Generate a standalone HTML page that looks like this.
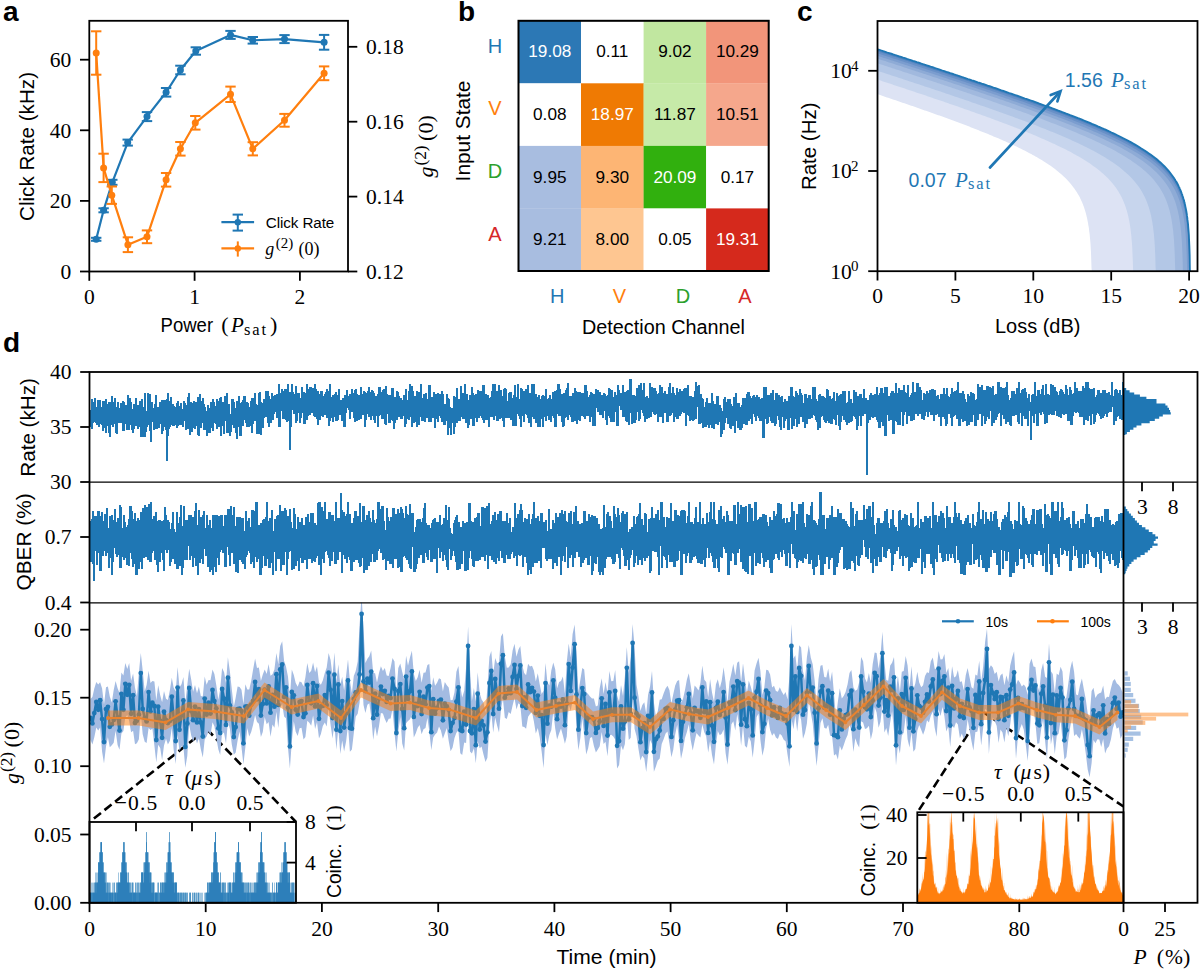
<!DOCTYPE html>
<html><head><meta charset="utf-8"><style>html,body{margin:0;padding:0;background:#fff;} svg{display:block;}</style></head>
<body><svg width="1200" height="969" viewBox="0 0 1200 969">
<rect width="1200" height="969" fill="#fff"/>
<text x="3" y="21.3" font-family='"Liberation Sans", sans-serif' font-weight="bold" font-size="28">a</text>
<text x="458" y="21.3" font-family='"Liberation Sans", sans-serif' font-weight="bold" font-size="28">b</text>
<text x="797" y="21.3" font-family='"Liberation Sans", sans-serif' font-weight="bold" font-size="28">c</text>
<text x="3" y="352" font-family='"Liberation Sans", sans-serif' font-weight="bold" font-size="28">d</text>
<polyline points="96.2,239.3 103.6,210.3 112.3,182.3 127.7,142.6 147.0,116.6 166.1,92.3 180.4,70.0 195.8,51.0 230.5,34.9 252.8,40.3 284.5,39.1 324.1,42.3" fill="none" stroke="#1f77b4" stroke-width="2.2" stroke-linejoin="round"/>
<line x1="96.2" y1="237.8" x2="96.2" y2="240.8" stroke="#1f77b4" stroke-width="2.0" />
<line x1="91" y1="237.8" x2="101.4" y2="237.8" stroke="#1f77b4" stroke-width="2.0" />
<line x1="91" y1="240.8" x2="101.4" y2="240.8" stroke="#1f77b4" stroke-width="2.0" />
<circle cx="96.2" cy="239.3" r="3.5" fill="#1f77b4"/>
<line x1="103.6" y1="208.3" x2="103.6" y2="212.3" stroke="#1f77b4" stroke-width="2.0" />
<line x1="98.4" y1="208.3" x2="108.8" y2="208.3" stroke="#1f77b4" stroke-width="2.0" />
<line x1="98.4" y1="212.3" x2="108.8" y2="212.3" stroke="#1f77b4" stroke-width="2.0" />
<circle cx="103.6" cy="210.3" r="3.5" fill="#1f77b4"/>
<line x1="112.3" y1="179.8" x2="112.3" y2="184.8" stroke="#1f77b4" stroke-width="2.0" />
<line x1="107.1" y1="179.8" x2="117.5" y2="179.8" stroke="#1f77b4" stroke-width="2.0" />
<line x1="107.1" y1="184.8" x2="117.5" y2="184.8" stroke="#1f77b4" stroke-width="2.0" />
<circle cx="112.3" cy="182.3" r="3.5" fill="#1f77b4"/>
<line x1="127.7" y1="139.6" x2="127.7" y2="145.6" stroke="#1f77b4" stroke-width="2.0" />
<line x1="122.5" y1="139.6" x2="132.9" y2="139.6" stroke="#1f77b4" stroke-width="2.0" />
<line x1="122.5" y1="145.6" x2="132.9" y2="145.6" stroke="#1f77b4" stroke-width="2.0" />
<circle cx="127.7" cy="142.6" r="3.5" fill="#1f77b4"/>
<line x1="147" y1="112.1" x2="147" y2="121.1" stroke="#1f77b4" stroke-width="2.0" />
<line x1="141.8" y1="112.1" x2="152.2" y2="112.1" stroke="#1f77b4" stroke-width="2.0" />
<line x1="141.8" y1="121.1" x2="152.2" y2="121.1" stroke="#1f77b4" stroke-width="2.0" />
<circle cx="147" cy="116.6" r="3.5" fill="#1f77b4"/>
<line x1="166.1" y1="88" x2="166.1" y2="96.6" stroke="#1f77b4" stroke-width="2.0" />
<line x1="160.9" y1="88" x2="171.3" y2="88" stroke="#1f77b4" stroke-width="2.0" />
<line x1="160.9" y1="96.6" x2="171.3" y2="96.6" stroke="#1f77b4" stroke-width="2.0" />
<circle cx="166.1" cy="92.3" r="3.5" fill="#1f77b4"/>
<line x1="180.4" y1="65.7" x2="180.4" y2="74.3" stroke="#1f77b4" stroke-width="2.0" />
<line x1="175.2" y1="65.7" x2="185.6" y2="65.7" stroke="#1f77b4" stroke-width="2.0" />
<line x1="175.2" y1="74.3" x2="185.6" y2="74.3" stroke="#1f77b4" stroke-width="2.0" />
<circle cx="180.4" cy="70" r="3.5" fill="#1f77b4"/>
<line x1="195.8" y1="47.3" x2="195.8" y2="54.7" stroke="#1f77b4" stroke-width="2.0" />
<line x1="190.6" y1="47.3" x2="201" y2="47.3" stroke="#1f77b4" stroke-width="2.0" />
<line x1="190.6" y1="54.7" x2="201" y2="54.7" stroke="#1f77b4" stroke-width="2.0" />
<circle cx="195.8" cy="51" r="3.5" fill="#1f77b4"/>
<line x1="230.5" y1="30.9" x2="230.5" y2="38.9" stroke="#1f77b4" stroke-width="2.0" />
<line x1="225.3" y1="30.9" x2="235.7" y2="30.9" stroke="#1f77b4" stroke-width="2.0" />
<line x1="225.3" y1="38.9" x2="235.7" y2="38.9" stroke="#1f77b4" stroke-width="2.0" />
<circle cx="230.5" cy="34.9" r="3.5" fill="#1f77b4"/>
<line x1="252.8" y1="37" x2="252.8" y2="43.6" stroke="#1f77b4" stroke-width="2.0" />
<line x1="247.6" y1="37" x2="258" y2="37" stroke="#1f77b4" stroke-width="2.0" />
<line x1="247.6" y1="43.6" x2="258" y2="43.6" stroke="#1f77b4" stroke-width="2.0" />
<circle cx="252.8" cy="40.3" r="3.5" fill="#1f77b4"/>
<line x1="284.5" y1="35.1" x2="284.5" y2="43.1" stroke="#1f77b4" stroke-width="2.0" />
<line x1="279.3" y1="35.1" x2="289.7" y2="35.1" stroke="#1f77b4" stroke-width="2.0" />
<line x1="279.3" y1="43.1" x2="289.7" y2="43.1" stroke="#1f77b4" stroke-width="2.0" />
<circle cx="284.5" cy="39.1" r="3.5" fill="#1f77b4"/>
<line x1="324.1" y1="34.9" x2="324.1" y2="49.7" stroke="#1f77b4" stroke-width="2.0" />
<line x1="318.9" y1="34.9" x2="329.3" y2="34.9" stroke="#1f77b4" stroke-width="2.0" />
<line x1="318.9" y1="49.7" x2="329.3" y2="49.7" stroke="#1f77b4" stroke-width="2.0" />
<circle cx="324.1" cy="42.3" r="3.5" fill="#1f77b4"/>
<polyline points="96.2,53.0 103.6,167.9 111.8,195.2 127.9,244.7 147.0,236.8 166.1,179.8 180.4,148.8 195.3,122.8 230.5,94.3 252.8,148.8 284.5,120.3 324.1,73.3" fill="none" stroke="#ff7f0e" stroke-width="2.2" stroke-linejoin="round"/>
<line x1="96.2" y1="31.3" x2="96.2" y2="74.7" stroke="#ff7f0e" stroke-width="2.0" />
<line x1="91" y1="31.3" x2="101.4" y2="31.3" stroke="#ff7f0e" stroke-width="2.0" />
<line x1="91" y1="74.7" x2="101.4" y2="74.7" stroke="#ff7f0e" stroke-width="2.0" />
<circle cx="96.2" cy="53" r="3.5" fill="#ff7f0e"/>
<line x1="103.6" y1="153.7" x2="103.6" y2="182.1" stroke="#ff7f0e" stroke-width="2.0" />
<line x1="98.4" y1="153.7" x2="108.8" y2="153.7" stroke="#ff7f0e" stroke-width="2.0" />
<line x1="98.4" y1="182.1" x2="108.8" y2="182.1" stroke="#ff7f0e" stroke-width="2.0" />
<circle cx="103.6" cy="167.9" r="3.5" fill="#ff7f0e"/>
<line x1="111.8" y1="186.5" x2="111.8" y2="203.9" stroke="#ff7f0e" stroke-width="2.0" />
<line x1="106.6" y1="186.5" x2="117" y2="186.5" stroke="#ff7f0e" stroke-width="2.0" />
<line x1="106.6" y1="203.9" x2="117" y2="203.9" stroke="#ff7f0e" stroke-width="2.0" />
<circle cx="111.8" cy="195.2" r="3.5" fill="#ff7f0e"/>
<line x1="127.9" y1="237.3" x2="127.9" y2="252.1" stroke="#ff7f0e" stroke-width="2.0" />
<line x1="122.7" y1="237.3" x2="133.1" y2="237.3" stroke="#ff7f0e" stroke-width="2.0" />
<line x1="122.7" y1="252.1" x2="133.1" y2="252.1" stroke="#ff7f0e" stroke-width="2.0" />
<circle cx="127.9" cy="244.7" r="3.5" fill="#ff7f0e"/>
<line x1="147" y1="230.4" x2="147" y2="243.2" stroke="#ff7f0e" stroke-width="2.0" />
<line x1="141.8" y1="230.4" x2="152.2" y2="230.4" stroke="#ff7f0e" stroke-width="2.0" />
<line x1="141.8" y1="243.2" x2="152.2" y2="243.2" stroke="#ff7f0e" stroke-width="2.0" />
<circle cx="147" cy="236.8" r="3.5" fill="#ff7f0e"/>
<line x1="166.1" y1="173" x2="166.1" y2="186.6" stroke="#ff7f0e" stroke-width="2.0" />
<line x1="160.9" y1="173" x2="171.3" y2="173" stroke="#ff7f0e" stroke-width="2.0" />
<line x1="160.9" y1="186.6" x2="171.3" y2="186.6" stroke="#ff7f0e" stroke-width="2.0" />
<circle cx="166.1" cy="179.8" r="3.5" fill="#ff7f0e"/>
<line x1="180.4" y1="142" x2="180.4" y2="155.6" stroke="#ff7f0e" stroke-width="2.0" />
<line x1="175.2" y1="142" x2="185.6" y2="142" stroke="#ff7f0e" stroke-width="2.0" />
<line x1="175.2" y1="155.6" x2="185.6" y2="155.6" stroke="#ff7f0e" stroke-width="2.0" />
<circle cx="180.4" cy="148.8" r="3.5" fill="#ff7f0e"/>
<line x1="195.3" y1="116" x2="195.3" y2="129.6" stroke="#ff7f0e" stroke-width="2.0" />
<line x1="190.1" y1="116" x2="200.5" y2="116" stroke="#ff7f0e" stroke-width="2.0" />
<line x1="190.1" y1="129.6" x2="200.5" y2="129.6" stroke="#ff7f0e" stroke-width="2.0" />
<circle cx="195.3" cy="122.8" r="3.5" fill="#ff7f0e"/>
<line x1="230.5" y1="86.6" x2="230.5" y2="102" stroke="#ff7f0e" stroke-width="2.0" />
<line x1="225.3" y1="86.6" x2="235.7" y2="86.6" stroke="#ff7f0e" stroke-width="2.0" />
<line x1="225.3" y1="102" x2="235.7" y2="102" stroke="#ff7f0e" stroke-width="2.0" />
<circle cx="230.5" cy="94.3" r="3.5" fill="#ff7f0e"/>
<line x1="252.8" y1="142.2" x2="252.8" y2="155.4" stroke="#ff7f0e" stroke-width="2.0" />
<line x1="247.6" y1="142.2" x2="258" y2="142.2" stroke="#ff7f0e" stroke-width="2.0" />
<line x1="247.6" y1="155.4" x2="258" y2="155.4" stroke="#ff7f0e" stroke-width="2.0" />
<circle cx="252.8" cy="148.8" r="3.5" fill="#ff7f0e"/>
<line x1="284.5" y1="113.9" x2="284.5" y2="126.7" stroke="#ff7f0e" stroke-width="2.0" />
<line x1="279.3" y1="113.9" x2="289.7" y2="113.9" stroke="#ff7f0e" stroke-width="2.0" />
<line x1="279.3" y1="126.7" x2="289.7" y2="126.7" stroke="#ff7f0e" stroke-width="2.0" />
<circle cx="284.5" cy="120.3" r="3.5" fill="#ff7f0e"/>
<line x1="324.1" y1="66.4" x2="324.1" y2="80.2" stroke="#ff7f0e" stroke-width="2.0" />
<line x1="318.9" y1="66.4" x2="329.3" y2="66.4" stroke="#ff7f0e" stroke-width="2.0" />
<line x1="318.9" y1="80.2" x2="329.3" y2="80.2" stroke="#ff7f0e" stroke-width="2.0" />
<circle cx="324.1" cy="73.3" r="3.5" fill="#ff7f0e"/>
<line x1="221.4" y1="222.2" x2="254.1" y2="222.2" stroke="#1f77b4" stroke-width="2.2" />
<line x1="237.8" y1="214.6" x2="237.8" y2="230.6" stroke="#1f77b4" stroke-width="2.0" />
<line x1="232.6" y1="214.6" x2="243" y2="214.6" stroke="#1f77b4" stroke-width="2.0" />
<line x1="232.6" y1="230.6" x2="243" y2="230.6" stroke="#1f77b4" stroke-width="2.0" />
<circle cx="237.8" cy="222.2" r="3.2" fill="#1f77b4"/>
<line x1="221.4" y1="248.4" x2="254.1" y2="248.4" stroke="#ff7f0e" stroke-width="2.2" />
<line x1="237.8" y1="241.4" x2="237.8" y2="256.6" stroke="#ff7f0e" stroke-width="2.0" />
<circle cx="237.8" cy="248.4" r="3.2" fill="#ff7f0e"/>
<text x="265.8" y="227.9" font-family='"Liberation Sans", sans-serif' font-size="15.2" text-anchor="start" fill="#000" textLength="68.5">Click Rate</text>
<text transform="translate(265.3,254.5)" fill="#000"><tspan x="0.0" y="0.0" font-family='"Liberation Serif", serif' font-size="18" font-style="italic">g</tspan><tspan x="10.4" y="-6.2" font-family='"Liberation Serif", serif' font-size="15">(2)</tspan><tspan x="33.2" y="0.0" font-family='"Liberation Serif", serif' font-size="18">(0)</tspan></text>
<rect x="89.3" y="20.8" width="258.7" height="250.7" fill="none" stroke="#000" stroke-width="1.8" />
<line x1="80" y1="271.5" x2="89.3" y2="271.5" stroke="#000" stroke-width="1.8" />
<text x="71.3" y="278.7" font-family='"Liberation Serif", serif' font-size="21.5" text-anchor="end">0</text>
<line x1="80" y1="200.9" x2="89.3" y2="200.9" stroke="#000" stroke-width="1.8" />
<text x="71.3" y="208.1" font-family='"Liberation Serif", serif' font-size="21.5" text-anchor="end">20</text>
<line x1="80" y1="130.3" x2="89.3" y2="130.3" stroke="#000" stroke-width="1.8" />
<text x="71.3" y="137.5" font-family='"Liberation Serif", serif' font-size="21.5" text-anchor="end">40</text>
<line x1="80" y1="59.7" x2="89.3" y2="59.7" stroke="#000" stroke-width="1.8" />
<text x="71.3" y="66.9" font-family='"Liberation Serif", serif' font-size="21.5" text-anchor="end">60</text>
<line x1="348" y1="271.5" x2="357.3" y2="271.5" stroke="#000" stroke-width="1.8" />
<text x="366" y="278.7" font-family='"Liberation Serif", serif' font-size="21.5" text-anchor="start">0.12</text>
<line x1="348" y1="196.6" x2="357.3" y2="196.6" stroke="#000" stroke-width="1.8" />
<text x="366" y="203.8" font-family='"Liberation Serif", serif' font-size="21.5" text-anchor="start">0.14</text>
<line x1="348" y1="121.7" x2="357.3" y2="121.7" stroke="#000" stroke-width="1.8" />
<text x="366" y="128.9" font-family='"Liberation Serif", serif' font-size="21.5" text-anchor="start">0.16</text>
<line x1="348" y1="46.8" x2="357.3" y2="46.8" stroke="#000" stroke-width="1.8" />
<text x="366" y="54" font-family='"Liberation Serif", serif' font-size="21.5" text-anchor="start">0.18</text>
<line x1="89.3" y1="271.5" x2="89.3" y2="280.8" stroke="#000" stroke-width="1.8" />
<text x="89.3" y="303.5" font-family='"Liberation Serif", serif' font-size="21.5" text-anchor="middle">0</text>
<line x1="194.6" y1="271.5" x2="194.6" y2="280.8" stroke="#000" stroke-width="1.8" />
<text x="194.6" y="303.5" font-family='"Liberation Serif", serif' font-size="21.5" text-anchor="middle">1</text>
<line x1="299.9" y1="271.5" x2="299.9" y2="280.8" stroke="#000" stroke-width="1.8" />
<text x="299.9" y="303.5" font-family='"Liberation Serif", serif' font-size="21.5" text-anchor="middle">2</text>
<text x="160.6" y="332.3" font-family='"Liberation Sans", sans-serif' font-size="19.5" textLength="52.5" lengthAdjust="spacingAndGlyphs">Power</text>
<text transform="translate(221.3,332.3)" fill="#000"><tspan x="0.0" y="0.0" font-family='"Liberation Serif", serif' font-size="22">(</tspan><tspan x="48.6" y="0.0" font-family='"Liberation Serif", serif' font-size="22">)</tspan></text>
<text transform="translate(231.0,332.3)" fill="#000" font-family='"Liberation Serif", serif'><tspan x="0" y="0" font-size="21" font-style="italic">P</tspan></text>
<text transform="translate(231.0,332.3)" fill="#000" font-family='"Liberation Serif", serif' x="13" y="2.4" font-size="16.5" textLength="22" lengthAdjust="spacing">sat</text>
<text transform="translate(34.3,146.5) rotate(-90)" font-family='"Liberation Sans", sans-serif' font-size="19.5" text-anchor="middle" textLength="149" lengthAdjust="spacingAndGlyphs">Click Rate (kHz)</text>
<text transform="translate(433.0,177.5) rotate(-90)" fill="#000"><tspan x="0.0" y="0.0" font-family='"Liberation Serif", serif' font-size="22.0" font-style="italic">g</tspan><tspan x="12.0" y="-7.5" font-family='"Liberation Serif", serif' font-size="17.2">(2)</tspan><tspan x="36.6" y="0.0" font-family='"Liberation Serif", serif' font-size="22.0">(0)</tspan></text>
<rect x="518.5" y="20.8" width="62.8" height="62.8" fill="#2c78b5" stroke="none" stroke-width="1.4" />
<rect x="581" y="20.8" width="62.8" height="62.8" fill="#ffffff" stroke="none" stroke-width="1.4" />
<rect x="643.6" y="20.8" width="62.8" height="62.8" fill="#c1e7a0" stroke="none" stroke-width="1.4" />
<rect x="706.1" y="20.8" width="62.8" height="62.8" fill="#f2957a" stroke="none" stroke-width="1.4" />
<rect x="518.5" y="83.3" width="62.8" height="62.8" fill="#ffffff" stroke="none" stroke-width="1.4" />
<rect x="581" y="83.3" width="62.8" height="62.8" fill="#ef7a03" stroke="none" stroke-width="1.4" />
<rect x="643.6" y="83.3" width="62.8" height="62.8" fill="#c6eaa8" stroke="none" stroke-width="1.4" />
<rect x="706.1" y="83.3" width="62.8" height="62.8" fill="#f5a78c" stroke="none" stroke-width="1.4" />
<rect x="518.5" y="145.9" width="62.8" height="62.8" fill="#a8bde0" stroke="none" stroke-width="1.4" />
<rect x="581" y="145.9" width="62.8" height="62.8" fill="#fdb574" stroke="none" stroke-width="1.4" />
<rect x="643.6" y="145.9" width="62.8" height="62.8" fill="#31b00e" stroke="none" stroke-width="1.4" />
<rect x="706.1" y="145.9" width="62.8" height="62.8" fill="#ffffff" stroke="none" stroke-width="1.4" />
<rect x="518.5" y="208.4" width="62.8" height="62.8" fill="#a8bde0" stroke="none" stroke-width="1.4" />
<rect x="581" y="208.4" width="62.8" height="62.8" fill="#fec691" stroke="none" stroke-width="1.4" />
<rect x="643.6" y="208.4" width="62.8" height="62.8" fill="#ffffff" stroke="none" stroke-width="1.4" />
<rect x="706.1" y="208.4" width="62.8" height="62.8" fill="#d5291c" stroke="none" stroke-width="1.4" />
<text x="549.8" y="57.4" font-family='"Liberation Sans", sans-serif' font-size="17.2" text-anchor="middle" fill="#fff" >19.08</text>
<text x="612.3" y="57.4" font-family='"Liberation Sans", sans-serif' font-size="17.2" text-anchor="middle" fill="#000" >0.11</text>
<text x="674.9" y="57.4" font-family='"Liberation Sans", sans-serif' font-size="17.2" text-anchor="middle" fill="#000" >9.02</text>
<text x="737.4" y="57.4" font-family='"Liberation Sans", sans-serif' font-size="17.2" text-anchor="middle" fill="#000" >10.29</text>
<text x="549.8" y="119.9" font-family='"Liberation Sans", sans-serif' font-size="17.2" text-anchor="middle" fill="#000" >0.08</text>
<text x="612.3" y="119.9" font-family='"Liberation Sans", sans-serif' font-size="17.2" text-anchor="middle" fill="#fff" >18.97</text>
<text x="674.9" y="119.9" font-family='"Liberation Sans", sans-serif' font-size="17.2" text-anchor="middle" fill="#000" >11.87</text>
<text x="737.4" y="119.9" font-family='"Liberation Sans", sans-serif' font-size="17.2" text-anchor="middle" fill="#000" >10.51</text>
<text x="549.8" y="182.5" font-family='"Liberation Sans", sans-serif' font-size="17.2" text-anchor="middle" fill="#000" >9.95</text>
<text x="612.3" y="182.5" font-family='"Liberation Sans", sans-serif' font-size="17.2" text-anchor="middle" fill="#000" >9.30</text>
<text x="674.9" y="182.5" font-family='"Liberation Sans", sans-serif' font-size="17.2" text-anchor="middle" fill="#fff" >20.09</text>
<text x="737.4" y="182.5" font-family='"Liberation Sans", sans-serif' font-size="17.2" text-anchor="middle" fill="#000" >0.17</text>
<text x="549.8" y="245" font-family='"Liberation Sans", sans-serif' font-size="17.2" text-anchor="middle" fill="#000" >9.21</text>
<text x="612.3" y="245" font-family='"Liberation Sans", sans-serif' font-size="17.2" text-anchor="middle" fill="#000" >8.00</text>
<text x="674.9" y="245" font-family='"Liberation Sans", sans-serif' font-size="17.2" text-anchor="middle" fill="#000" >0.05</text>
<text x="737.4" y="245" font-family='"Liberation Sans", sans-serif' font-size="17.2" text-anchor="middle" fill="#fff" >19.31</text>
<rect x="518.5" y="20.8" width="250.2" height="250.2" fill="none" stroke="#000" stroke-width="2.0" />
<text x="494.9" y="52.8" font-family='"Liberation Sans", sans-serif' font-size="20" text-anchor="middle" fill="#1f77b4" >H</text>
<text x="494.9" y="115" font-family='"Liberation Sans", sans-serif' font-size="20" text-anchor="middle" fill="#ff7f0e" >V</text>
<text x="494.9" y="178" font-family='"Liberation Sans", sans-serif' font-size="20" text-anchor="middle" fill="#2ca02c" >D</text>
<text x="494.9" y="241" font-family='"Liberation Sans", sans-serif' font-size="20" text-anchor="middle" fill="#d62728" >A</text>
<text x="557.3" y="303.2" font-family='"Liberation Sans", sans-serif' font-size="20" text-anchor="middle" fill="#1f77b4" >H</text>
<text x="619.5" y="303.2" font-family='"Liberation Sans", sans-serif' font-size="20" text-anchor="middle" fill="#ff7f0e" >V</text>
<text x="683" y="303.2" font-family='"Liberation Sans", sans-serif' font-size="20" text-anchor="middle" fill="#2ca02c" >D</text>
<text x="744.8" y="303.2" font-family='"Liberation Sans", sans-serif' font-size="20" text-anchor="middle" fill="#d62728" >A</text>
<text x="663.5" y="333.6" font-family='"Liberation Sans", sans-serif' font-size="19.5" text-anchor="middle" textLength="163" lengthAdjust="spacingAndGlyphs">Detection Channel</text>
<text transform="translate(469.5,131) rotate(-90)" font-family='"Liberation Sans", sans-serif' font-size="19.5" text-anchor="middle" textLength="100.8" lengthAdjust="spacingAndGlyphs">Input State</text>
<clipPath id="cclip"><rect x="877.5" y="21" width="320" height="250.2"/></clipPath>
<g clip-path="url(#cclip)">
<polygon points="877.5,49.3 879.5,49.9 881.4,50.5 883.4,51.2 885.4,51.8 887.3,52.5 889.3,53.1 891.3,53.7 893.2,54.4 895.2,55.0 897.2,55.7 899.1,56.3 901.1,56.9 903.1,57.6 905.0,58.2 907.0,58.9 909.0,59.5 910.9,60.1 912.9,60.8 914.9,61.4 916.8,62.1 918.8,62.7 920.8,63.4 922.7,64.0 924.7,64.7 926.7,65.3 928.6,65.9 930.6,66.6 932.6,67.2 934.5,67.9 936.5,68.5 938.5,69.2 940.4,69.8 942.4,70.5 944.4,71.1 946.3,71.8 948.3,72.4 950.3,73.1 952.2,73.7 954.2,74.4 956.2,75.0 958.1,75.7 960.1,76.3 962.1,77.0 964.0,77.7 966.0,78.3 968.0,79.0 969.9,79.6 971.9,80.3 973.9,80.9 975.8,81.6 977.8,82.3 979.8,82.9 981.7,83.6 983.7,84.2 985.7,84.9 987.6,85.6 989.6,86.2 991.6,86.9 993.5,87.6 995.5,88.2 997.5,88.9 999.4,89.6 1001.4,90.3 1003.4,90.9 1005.3,91.6 1007.3,92.3 1009.3,93.0 1011.2,93.6 1013.2,94.3 1015.2,95.0 1017.1,95.7 1019.1,96.4 1021.1,97.1 1023.0,97.8 1025.0,98.5 1027.0,99.1 1028.9,99.8 1030.9,100.5 1032.9,101.2 1034.8,101.9 1036.8,102.6 1038.8,103.4 1040.7,104.1 1042.7,104.8 1044.7,105.5 1046.6,106.2 1048.6,106.9 1050.6,107.6 1052.5,108.4 1054.5,109.1 1056.5,109.8 1058.4,110.6 1060.4,111.3 1062.4,112.1 1064.3,112.8 1066.3,113.6 1068.3,114.3 1070.2,115.1 1072.2,115.8 1074.2,116.6 1076.1,117.4 1078.1,118.2 1080.1,118.9 1082.0,119.7 1084.0,120.5 1086.0,121.3 1087.9,122.1 1089.9,122.9 1091.9,123.8 1093.8,124.6 1095.8,125.4 1097.8,126.3 1099.7,127.1 1101.7,128.0 1103.7,128.9 1105.6,129.7 1107.6,130.6 1109.6,131.5 1111.5,132.5 1113.5,133.4 1115.5,134.3 1117.4,135.3 1119.4,136.2 1121.4,137.2 1123.3,138.2 1125.3,139.2 1127.3,140.3 1129.2,141.3 1131.2,142.4 1133.2,143.5 1135.1,144.6 1137.1,145.8 1139.1,147.0 1141.0,148.2 1143.0,149.4 1145.0,150.7 1146.9,152.0 1148.9,153.4 1150.9,154.8 1152.8,156.2 1154.8,157.7 1156.8,159.3 1158.7,161.0 1160.7,162.7 1162.7,164.6 1164.6,166.5 1166.6,168.6 1168.6,170.8 1170.5,173.2 1172.5,175.9 1174.5,178.8 1174.6,179.0 1174.9,179.4 1175.1,179.8 1175.4,180.3 1175.7,180.7 1175.9,181.1 1176.2,181.6 1176.4,182.0 1176.5,182.0 1176.7,182.5 1177.0,183.0 1177.3,183.5 1177.5,184.0 1177.8,184.5 1178.0,185.0 1178.3,185.5 1178.4,185.7 1178.6,186.0 1178.8,186.6 1179.1,187.1 1179.4,187.7 1179.6,188.3 1179.9,188.9 1180.2,189.5 1180.4,190.0 1180.4,190.1 1180.7,190.7 1180.9,191.4 1181.2,192.1 1181.5,192.8 1181.7,193.5 1182.0,194.2 1182.3,195.0 1182.3,195.1 1182.5,195.8 1182.8,196.6 1183.1,197.4 1183.3,198.3 1183.6,199.2 1183.9,200.1 1184.1,201.1 1184.3,201.7 1184.4,202.1 1184.6,203.1 1184.9,204.2 1185.2,205.4 1185.4,206.6 1185.7,207.9 1186.0,209.3 1186.2,210.7 1186.3,210.9 1186.5,212.2 1186.8,213.9 1187.0,215.7 1187.3,217.6 1187.5,219.7 1187.8,222.1 1188.1,224.7 1188.2,226.3 1188.3,227.6 1188.6,231.0 1188.9,235.0 1189.1,239.9 1189.4,246.3 1189.7,255.1 1189.9,270.3 1190.2,271.2 1190.2,271.2 1092.0,271.2 1092.0,271.2 1091.8,271.2 1091.5,267.8 1091.2,258.9 1091.0,252.6 1090.7,247.7 1090.7,247.2 1090.5,243.7 1090.2,240.3 1089.9,237.3 1089.7,234.7 1089.4,232.4 1089.3,231.9 1089.1,230.3 1088.9,228.3 1088.6,226.6 1088.3,224.9 1088.1,223.4 1088.0,222.9 1087.8,221.9 1087.5,220.6 1087.3,219.3 1087.0,218.0 1086.8,216.9 1086.6,216.4 1086.5,215.8 1086.2,214.7 1086.0,213.7 1085.7,212.7 1085.4,211.8 1085.3,211.3 1085.2,210.9 1084.9,210.1 1084.6,209.2 1084.4,208.4 1084.1,207.6 1083.9,207.1 1083.9,206.9 1083.6,206.1 1083.3,205.4 1083.1,204.7 1082.8,204.1 1082.6,203.6 1082.5,203.4 1082.3,202.8 1082.0,202.1 1081.7,201.5 1081.5,200.9 1081.2,200.4 1081.2,200.4 1080.9,199.8 1080.7,199.2 1080.4,198.7 1080.2,198.2 1079.9,197.6 1079.9,197.6 1079.6,197.1 1079.4,196.6 1079.1,196.1 1078.8,195.6 1078.6,195.2 1078.5,195.1 1078.3,194.7 1078.0,194.2 1077.8,193.8 1077.5,193.4 1077.2,192.9 1077.2,192.8 1077.0,192.5 1076.7,192.1 1076.5,191.7 1075.8,190.7 1074.5,188.7 1073.1,186.9 1071.8,185.2 1070.4,183.5 1069.1,182.0 1067.7,180.5 1066.4,179.1 1065.1,177.8 1063.7,176.5 1062.4,175.2 1061.0,174.0 1059.7,172.9 1058.3,171.7 1057.0,170.7 1055.6,169.6 1054.3,168.6 1052.9,167.6 1051.6,166.6 1050.2,165.6 1048.9,164.7 1047.5,163.8 1046.2,162.9 1044.8,162.0 1043.5,161.2 1042.1,160.3 1040.8,159.5 1039.4,158.7 1038.1,157.9 1036.7,157.1 1035.4,156.4 1034.0,155.6 1032.7,154.9 1031.3,154.1 1030.0,153.4 1028.6,152.7 1027.3,152.0 1025.9,151.3 1024.6,150.6 1023.2,149.9 1021.9,149.2 1020.5,148.5 1019.2,147.9 1017.8,147.2 1016.5,146.6 1015.1,145.9 1013.8,145.3 1012.4,144.7 1011.1,144.0 1009.7,143.4 1008.4,142.8 1007.0,142.2 1005.7,141.6 1004.3,141.0 1003.0,140.4 1001.6,139.8 1000.3,139.2 998.9,138.6 997.6,138.1 996.2,137.5 994.9,136.9 993.5,136.4 992.2,135.8 990.8,135.2 989.5,134.7 988.1,134.1 986.8,133.6 985.4,133.0 984.1,132.5 982.7,131.9 981.4,131.4 980.0,130.9 978.7,130.3 977.3,129.8 976.0,129.3 974.6,128.7 973.3,128.2 972.0,127.7 970.6,127.2 969.3,126.6 967.9,126.1 966.6,125.6 965.2,125.1 963.9,124.6 962.5,124.1 961.2,123.6 959.8,123.1 958.5,122.5 957.1,122.0 955.8,121.5 954.4,121.0 953.1,120.5 951.7,120.0 950.4,119.6 949.0,119.1 947.7,118.6 946.3,118.1 945.0,117.6 943.6,117.1 942.3,116.6 940.9,116.1 939.6,115.6 938.2,115.2 936.9,114.7 935.5,114.2 934.2,113.7 932.8,113.2 931.5,112.7 930.1,112.3 928.8,111.8 927.4,111.3 926.1,110.8 924.7,110.4 923.4,109.9 922.0,109.4 920.7,108.9 919.3,108.5 918.0,108.0 916.6,107.5 915.3,107.1 913.9,106.6 912.6,106.1 911.2,105.7 909.9,105.2 908.5,104.7 907.2,104.3 905.8,103.8 904.5,103.3 903.1,102.9 901.8,102.4 900.4,102.0 899.1,101.5 897.7,101.0 896.4,100.6 895.0,100.1 893.7,99.7 892.3,99.2 891.0,98.7 889.6,98.3 888.3,97.8 886.9,97.4 885.6,96.9 884.2,96.5 882.9,96.0 881.5,95.6 880.2,95.1 878.8,94.6 877.5,94.2" fill="#dde3f4" stroke="none" stroke-width="1" />
<polygon points="877.5,49.3 879.5,49.9 881.4,50.5 883.4,51.2 885.4,51.8 887.3,52.5 889.3,53.1 891.3,53.7 893.2,54.4 895.2,55.0 897.2,55.7 899.1,56.3 901.1,56.9 903.1,57.6 905.0,58.2 907.0,58.9 909.0,59.5 910.9,60.1 912.9,60.8 914.9,61.4 916.8,62.1 918.8,62.7 920.8,63.4 922.7,64.0 924.7,64.7 926.7,65.3 928.6,65.9 930.6,66.6 932.6,67.2 934.5,67.9 936.5,68.5 938.5,69.2 940.4,69.8 942.4,70.5 944.4,71.1 946.3,71.8 948.3,72.4 950.3,73.1 952.2,73.7 954.2,74.4 956.2,75.0 958.1,75.7 960.1,76.3 962.1,77.0 964.0,77.7 966.0,78.3 968.0,79.0 969.9,79.6 971.9,80.3 973.9,80.9 975.8,81.6 977.8,82.3 979.8,82.9 981.7,83.6 983.7,84.2 985.7,84.9 987.6,85.6 989.6,86.2 991.6,86.9 993.5,87.6 995.5,88.2 997.5,88.9 999.4,89.6 1001.4,90.3 1003.4,90.9 1005.3,91.6 1007.3,92.3 1009.3,93.0 1011.2,93.6 1013.2,94.3 1015.2,95.0 1017.1,95.7 1019.1,96.4 1021.1,97.1 1023.0,97.8 1025.0,98.5 1027.0,99.1 1028.9,99.8 1030.9,100.5 1032.9,101.2 1034.8,101.9 1036.8,102.6 1038.8,103.4 1040.7,104.1 1042.7,104.8 1044.7,105.5 1046.6,106.2 1048.6,106.9 1050.6,107.6 1052.5,108.4 1054.5,109.1 1056.5,109.8 1058.4,110.6 1060.4,111.3 1062.4,112.1 1064.3,112.8 1066.3,113.6 1068.3,114.3 1070.2,115.1 1072.2,115.8 1074.2,116.6 1076.1,117.4 1078.1,118.2 1080.1,118.9 1082.0,119.7 1084.0,120.5 1086.0,121.3 1087.9,122.1 1089.9,122.9 1091.9,123.8 1093.8,124.6 1095.8,125.4 1097.8,126.3 1099.7,127.1 1101.7,128.0 1103.7,128.9 1105.6,129.7 1107.6,130.6 1109.6,131.5 1111.5,132.5 1113.5,133.4 1115.5,134.3 1117.4,135.3 1119.4,136.2 1121.4,137.2 1123.3,138.2 1125.3,139.2 1127.3,140.3 1129.2,141.3 1131.2,142.4 1133.2,143.5 1135.1,144.6 1137.1,145.8 1139.1,147.0 1141.0,148.2 1143.0,149.4 1145.0,150.7 1146.9,152.0 1148.9,153.4 1150.9,154.8 1152.8,156.2 1154.8,157.7 1156.8,159.3 1158.7,161.0 1160.7,162.7 1162.7,164.6 1164.6,166.5 1166.6,168.6 1168.6,170.8 1170.5,173.2 1172.5,175.9 1174.5,178.8 1174.6,179.0 1174.9,179.4 1175.1,179.8 1175.4,180.3 1175.7,180.7 1175.9,181.1 1176.2,181.6 1176.4,182.0 1176.5,182.0 1176.7,182.5 1177.0,183.0 1177.3,183.5 1177.5,184.0 1177.8,184.5 1178.0,185.0 1178.3,185.5 1178.4,185.7 1178.6,186.0 1178.8,186.6 1179.1,187.1 1179.4,187.7 1179.6,188.3 1179.9,188.9 1180.2,189.5 1180.4,190.0 1180.4,190.1 1180.7,190.7 1180.9,191.4 1181.2,192.1 1181.5,192.8 1181.7,193.5 1182.0,194.2 1182.3,195.0 1182.3,195.1 1182.5,195.8 1182.8,196.6 1183.1,197.4 1183.3,198.3 1183.6,199.2 1183.9,200.1 1184.1,201.1 1184.3,201.7 1184.4,202.1 1184.6,203.1 1184.9,204.2 1185.2,205.4 1185.4,206.6 1185.7,207.9 1186.0,209.3 1186.2,210.7 1186.3,210.9 1186.5,212.2 1186.8,213.9 1187.0,215.7 1187.3,217.6 1187.5,219.7 1187.8,222.1 1188.1,224.7 1188.2,226.3 1188.3,227.6 1188.6,231.0 1188.9,235.0 1189.1,239.9 1189.4,246.3 1189.7,255.1 1189.9,270.3 1190.2,271.2 1190.2,271.2 1133.5,271.2 1133.5,271.2 1133.2,271.2 1133.0,266.9 1132.7,258.0 1132.4,251.7 1132.2,246.8 1131.9,242.8 1131.9,242.5 1131.6,239.4 1131.4,236.5 1131.1,233.9 1130.8,231.5 1130.6,229.4 1130.3,227.5 1130.3,227.1 1130.0,225.7 1129.8,224.0 1129.5,222.5 1129.3,221.0 1129.0,219.7 1128.7,218.4 1128.6,218.0 1128.5,217.2 1128.2,216.0 1127.9,214.9 1127.7,213.9 1127.4,212.8 1127.1,211.9 1127.0,211.5 1126.9,210.9 1126.6,210.0 1126.3,209.2 1126.1,208.4 1125.8,207.5 1125.6,206.8 1125.4,206.4 1125.3,206.0 1125.0,205.3 1124.8,204.6 1124.5,203.9 1124.2,203.2 1124.0,202.5 1123.8,202.2 1123.7,201.9 1123.4,201.3 1123.2,200.7 1122.9,200.1 1122.7,199.5 1122.4,198.9 1122.2,198.5 1122.1,198.4 1121.9,197.8 1121.6,197.3 1121.3,196.8 1121.1,196.3 1120.8,195.8 1120.6,195.4 1120.5,195.3 1120.3,194.8 1120.0,194.3 1119.7,193.8 1119.5,193.4 1119.2,192.9 1119.0,192.5 1119.0,192.5 1118.7,192.0 1118.4,191.6 1118.2,191.2 1117.9,190.8 1117.4,190.0 1115.8,187.6 1114.2,185.5 1112.6,183.5 1110.9,181.6 1109.3,179.8 1107.7,178.1 1106.1,176.5 1104.5,175.0 1102.9,173.6 1101.3,172.2 1099.7,170.8 1098.1,169.5 1096.5,168.3 1094.8,167.1 1093.2,165.9 1091.6,164.8 1090.0,163.6 1088.4,162.6 1086.8,161.5 1085.2,160.5 1083.6,159.5 1082.0,158.5 1080.4,157.5 1078.7,156.6 1077.1,155.7 1075.5,154.8 1073.9,153.9 1072.3,153.0 1070.7,152.1 1069.1,151.3 1067.5,150.5 1065.9,149.6 1064.3,148.8 1062.6,148.0 1061.0,147.2 1059.4,146.4 1057.8,145.7 1056.2,144.9 1054.6,144.1 1053.0,143.4 1051.4,142.7 1049.8,141.9 1048.2,141.2 1046.5,140.5 1044.9,139.8 1043.3,139.1 1041.7,138.4 1040.1,137.7 1038.5,137.0 1036.9,136.3 1035.3,135.6 1033.7,134.9 1032.1,134.3 1030.4,133.6 1028.8,132.9 1027.2,132.3 1025.6,131.6 1024.0,131.0 1022.4,130.3 1020.8,129.7 1019.2,129.1 1017.6,128.4 1016.0,127.8 1014.3,127.2 1012.7,126.6 1011.1,125.9 1009.5,125.3 1007.9,124.7 1006.3,124.1 1004.7,123.5 1003.1,122.9 1001.5,122.3 999.9,121.7 998.2,121.1 996.6,120.5 995.0,119.9 993.4,119.3 991.8,118.7 990.2,118.1 988.6,117.5 987.0,116.9 985.4,116.3 983.8,115.8 982.1,115.2 980.5,114.6 978.9,114.0 977.3,113.4 975.7,112.9 974.1,112.3 972.5,111.7 970.9,111.2 969.3,110.6 967.7,110.0 966.0,109.5 964.4,108.9 962.8,108.3 961.2,107.8 959.6,107.2 958.0,106.6 956.4,106.1 954.8,105.5 953.2,105.0 951.6,104.4 949.9,103.9 948.3,103.3 946.7,102.8 945.1,102.2 943.5,101.6 941.9,101.1 940.3,100.5 938.7,100.0 937.1,99.4 935.5,98.9 933.8,98.4 932.2,97.8 930.6,97.3 929.0,96.7 927.4,96.2 925.8,95.6 924.2,95.1 922.6,94.5 921.0,94.0 919.4,93.5 917.7,92.9 916.1,92.4 914.5,91.8 912.9,91.3 911.3,90.8 909.7,90.2 908.1,89.7 906.5,89.2 904.9,88.6 903.3,88.1 901.6,87.6 900.0,87.0 898.4,86.5 896.8,85.9 895.2,85.4 893.6,84.9 892.0,84.3 890.4,83.8 888.8,83.3 887.2,82.8 885.6,82.2 883.9,81.7 882.3,81.2 880.7,80.6 879.1,80.1 877.5,79.6" fill="#c7d5ed" stroke="none" stroke-width="1" />
<polygon points="877.5,49.3 879.5,49.9 881.4,50.5 883.4,51.2 885.4,51.8 887.3,52.5 889.3,53.1 891.3,53.7 893.2,54.4 895.2,55.0 897.2,55.7 899.1,56.3 901.1,56.9 903.1,57.6 905.0,58.2 907.0,58.9 909.0,59.5 910.9,60.1 912.9,60.8 914.9,61.4 916.8,62.1 918.8,62.7 920.8,63.4 922.7,64.0 924.7,64.7 926.7,65.3 928.6,65.9 930.6,66.6 932.6,67.2 934.5,67.9 936.5,68.5 938.5,69.2 940.4,69.8 942.4,70.5 944.4,71.1 946.3,71.8 948.3,72.4 950.3,73.1 952.2,73.7 954.2,74.4 956.2,75.0 958.1,75.7 960.1,76.3 962.1,77.0 964.0,77.7 966.0,78.3 968.0,79.0 969.9,79.6 971.9,80.3 973.9,80.9 975.8,81.6 977.8,82.3 979.8,82.9 981.7,83.6 983.7,84.2 985.7,84.9 987.6,85.6 989.6,86.2 991.6,86.9 993.5,87.6 995.5,88.2 997.5,88.9 999.4,89.6 1001.4,90.3 1003.4,90.9 1005.3,91.6 1007.3,92.3 1009.3,93.0 1011.2,93.6 1013.2,94.3 1015.2,95.0 1017.1,95.7 1019.1,96.4 1021.1,97.1 1023.0,97.8 1025.0,98.5 1027.0,99.1 1028.9,99.8 1030.9,100.5 1032.9,101.2 1034.8,101.9 1036.8,102.6 1038.8,103.4 1040.7,104.1 1042.7,104.8 1044.7,105.5 1046.6,106.2 1048.6,106.9 1050.6,107.6 1052.5,108.4 1054.5,109.1 1056.5,109.8 1058.4,110.6 1060.4,111.3 1062.4,112.1 1064.3,112.8 1066.3,113.6 1068.3,114.3 1070.2,115.1 1072.2,115.8 1074.2,116.6 1076.1,117.4 1078.1,118.2 1080.1,118.9 1082.0,119.7 1084.0,120.5 1086.0,121.3 1087.9,122.1 1089.9,122.9 1091.9,123.8 1093.8,124.6 1095.8,125.4 1097.8,126.3 1099.7,127.1 1101.7,128.0 1103.7,128.9 1105.6,129.7 1107.6,130.6 1109.6,131.5 1111.5,132.5 1113.5,133.4 1115.5,134.3 1117.4,135.3 1119.4,136.2 1121.4,137.2 1123.3,138.2 1125.3,139.2 1127.3,140.3 1129.2,141.3 1131.2,142.4 1133.2,143.5 1135.1,144.6 1137.1,145.8 1139.1,147.0 1141.0,148.2 1143.0,149.4 1145.0,150.7 1146.9,152.0 1148.9,153.4 1150.9,154.8 1152.8,156.2 1154.8,157.7 1156.8,159.3 1158.7,161.0 1160.7,162.7 1162.7,164.6 1164.6,166.5 1166.6,168.6 1168.6,170.8 1170.5,173.2 1172.5,175.9 1174.5,178.8 1174.6,179.0 1174.9,179.4 1175.1,179.8 1175.4,180.3 1175.7,180.7 1175.9,181.1 1176.2,181.6 1176.4,182.0 1176.5,182.0 1176.7,182.5 1177.0,183.0 1177.3,183.5 1177.5,184.0 1177.8,184.5 1178.0,185.0 1178.3,185.5 1178.4,185.7 1178.6,186.0 1178.8,186.6 1179.1,187.1 1179.4,187.7 1179.6,188.3 1179.9,188.9 1180.2,189.5 1180.4,190.0 1180.4,190.1 1180.7,190.7 1180.9,191.4 1181.2,192.1 1181.5,192.8 1181.7,193.5 1182.0,194.2 1182.3,195.0 1182.3,195.1 1182.5,195.8 1182.8,196.6 1183.1,197.4 1183.3,198.3 1183.6,199.2 1183.9,200.1 1184.1,201.1 1184.3,201.7 1184.4,202.1 1184.6,203.1 1184.9,204.2 1185.2,205.4 1185.4,206.6 1185.7,207.9 1186.0,209.3 1186.2,210.7 1186.3,210.9 1186.5,212.2 1186.8,213.9 1187.0,215.7 1187.3,217.6 1187.5,219.7 1187.8,222.1 1188.1,224.7 1188.2,226.3 1188.3,227.6 1188.6,231.0 1188.9,235.0 1189.1,239.9 1189.4,246.3 1189.7,255.1 1189.9,270.3 1190.2,271.2 1190.2,271.2 1156.1,271.2 1156.1,271.2 1155.8,271.2 1155.5,265.5 1155.3,256.7 1155.0,250.4 1154.8,245.5 1154.5,241.5 1154.3,239.2 1154.2,238.1 1154.0,235.1 1153.7,232.5 1153.4,230.2 1153.2,228.1 1152.9,226.1 1152.6,224.3 1152.6,223.9 1152.4,222.7 1152.1,221.1 1151.8,219.7 1151.6,218.3 1151.3,217.0 1151.1,215.8 1150.8,214.8 1150.8,214.7 1150.5,213.6 1150.3,212.5 1150.0,211.5 1149.7,210.5 1149.5,209.6 1149.2,208.7 1149.1,208.2 1148.9,207.8 1148.7,207.0 1148.4,206.2 1148.1,205.4 1147.9,204.6 1147.6,203.9 1147.4,203.2 1147.3,203.1 1147.1,202.5 1146.8,201.8 1146.6,201.2 1146.3,200.5 1146.0,199.9 1145.8,199.3 1145.6,198.8 1145.5,198.7 1145.2,198.1 1145.0,197.6 1144.7,197.0 1144.5,196.5 1144.2,195.9 1143.9,195.4 1143.8,195.2 1143.7,194.9 1143.4,194.4 1143.1,193.9 1142.9,193.4 1142.6,192.9 1142.3,192.5 1142.1,192.0 1142.1,192.0 1141.8,191.6 1141.5,191.1 1141.3,190.7 1141.0,190.3 1140.8,189.8 1140.5,189.4 1140.3,189.1 1138.6,186.5 1136.8,184.2 1135.0,182.0 1133.3,179.9 1131.5,178.0 1129.8,176.2 1128.0,174.5 1126.3,172.9 1124.5,171.4 1122.8,169.9 1121.0,168.5 1119.3,167.1 1117.5,165.8 1115.8,164.5 1114.0,163.3 1112.3,162.1 1110.5,160.9 1108.8,159.8 1107.0,158.7 1105.3,157.6 1103.5,156.5 1101.8,155.5 1100.0,154.5 1098.3,153.5 1096.5,152.5 1094.8,151.6 1093.0,150.6 1091.2,149.7 1089.5,148.8 1087.7,147.9 1086.0,147.0 1084.2,146.2 1082.5,145.3 1080.7,144.5 1079.0,143.6 1077.2,142.8 1075.5,142.0 1073.7,141.2 1072.0,140.4 1070.2,139.6 1068.5,138.8 1066.7,138.0 1065.0,137.3 1063.2,136.5 1061.5,135.8 1059.7,135.0 1058.0,134.3 1056.2,133.6 1054.5,132.8 1052.7,132.1 1050.9,131.4 1049.2,130.7 1047.4,130.0 1045.7,129.3 1043.9,128.6 1042.2,127.9 1040.4,127.2 1038.7,126.5 1036.9,125.8 1035.2,125.1 1033.4,124.5 1031.7,123.8 1029.9,123.1 1028.2,122.5 1026.4,121.8 1024.7,121.1 1022.9,120.5 1021.2,119.8 1019.4,119.2 1017.7,118.5 1015.9,117.9 1014.2,117.2 1012.4,116.6 1010.7,116.0 1008.9,115.3 1007.1,114.7 1005.4,114.1 1003.6,113.4 1001.9,112.8 1000.1,112.2 998.4,111.5 996.6,110.9 994.9,110.3 993.1,109.7 991.4,109.1 989.6,108.4 987.9,107.8 986.1,107.2 984.4,106.6 982.6,106.0 980.9,105.4 979.1,104.8 977.4,104.2 975.6,103.6 973.9,103.0 972.1,102.4 970.4,101.7 968.6,101.1 966.9,100.5 965.1,99.9 963.3,99.3 961.6,98.7 959.8,98.2 958.1,97.6 956.3,97.0 954.6,96.4 952.8,95.8 951.1,95.2 949.3,94.6 947.6,94.0 945.8,93.4 944.1,92.8 942.3,92.2 940.6,91.6 938.8,91.1 937.1,90.5 935.3,89.9 933.6,89.3 931.8,88.7 930.1,88.1 928.3,87.5 926.6,87.0 924.8,86.4 923.1,85.8 921.3,85.2 919.5,84.6 917.8,84.1 916.0,83.5 914.3,82.9 912.5,82.3 910.8,81.7 909.0,81.2 907.3,80.6 905.5,80.0 903.8,79.4 902.0,78.8 900.3,78.3 898.5,77.7 896.8,77.1 895.0,76.5 893.3,76.0 891.5,75.4 889.8,74.8 888.0,74.2 886.3,73.7 884.5,73.1 882.8,72.5 881.0,71.9 879.3,71.4 877.5,70.8" fill="#b3c7e6" stroke="none" stroke-width="1" />
<polygon points="877.5,49.3 879.5,49.9 881.4,50.5 883.4,51.2 885.4,51.8 887.3,52.5 889.3,53.1 891.3,53.7 893.2,54.4 895.2,55.0 897.2,55.7 899.1,56.3 901.1,56.9 903.1,57.6 905.0,58.2 907.0,58.9 909.0,59.5 910.9,60.1 912.9,60.8 914.9,61.4 916.8,62.1 918.8,62.7 920.8,63.4 922.7,64.0 924.7,64.7 926.7,65.3 928.6,65.9 930.6,66.6 932.6,67.2 934.5,67.9 936.5,68.5 938.5,69.2 940.4,69.8 942.4,70.5 944.4,71.1 946.3,71.8 948.3,72.4 950.3,73.1 952.2,73.7 954.2,74.4 956.2,75.0 958.1,75.7 960.1,76.3 962.1,77.0 964.0,77.7 966.0,78.3 968.0,79.0 969.9,79.6 971.9,80.3 973.9,80.9 975.8,81.6 977.8,82.3 979.8,82.9 981.7,83.6 983.7,84.2 985.7,84.9 987.6,85.6 989.6,86.2 991.6,86.9 993.5,87.6 995.5,88.2 997.5,88.9 999.4,89.6 1001.4,90.3 1003.4,90.9 1005.3,91.6 1007.3,92.3 1009.3,93.0 1011.2,93.6 1013.2,94.3 1015.2,95.0 1017.1,95.7 1019.1,96.4 1021.1,97.1 1023.0,97.8 1025.0,98.5 1027.0,99.1 1028.9,99.8 1030.9,100.5 1032.9,101.2 1034.8,101.9 1036.8,102.6 1038.8,103.4 1040.7,104.1 1042.7,104.8 1044.7,105.5 1046.6,106.2 1048.6,106.9 1050.6,107.6 1052.5,108.4 1054.5,109.1 1056.5,109.8 1058.4,110.6 1060.4,111.3 1062.4,112.1 1064.3,112.8 1066.3,113.6 1068.3,114.3 1070.2,115.1 1072.2,115.8 1074.2,116.6 1076.1,117.4 1078.1,118.2 1080.1,118.9 1082.0,119.7 1084.0,120.5 1086.0,121.3 1087.9,122.1 1089.9,122.9 1091.9,123.8 1093.8,124.6 1095.8,125.4 1097.8,126.3 1099.7,127.1 1101.7,128.0 1103.7,128.9 1105.6,129.7 1107.6,130.6 1109.6,131.5 1111.5,132.5 1113.5,133.4 1115.5,134.3 1117.4,135.3 1119.4,136.2 1121.4,137.2 1123.3,138.2 1125.3,139.2 1127.3,140.3 1129.2,141.3 1131.2,142.4 1133.2,143.5 1135.1,144.6 1137.1,145.8 1139.1,147.0 1141.0,148.2 1143.0,149.4 1145.0,150.7 1146.9,152.0 1148.9,153.4 1150.9,154.8 1152.8,156.2 1154.8,157.7 1156.8,159.3 1158.7,161.0 1160.7,162.7 1162.7,164.6 1164.6,166.5 1166.6,168.6 1168.6,170.8 1170.5,173.2 1172.5,175.9 1174.5,178.8 1174.6,179.0 1174.9,179.4 1175.1,179.8 1175.4,180.3 1175.7,180.7 1175.9,181.1 1176.2,181.6 1176.4,182.0 1176.5,182.0 1176.7,182.5 1177.0,183.0 1177.3,183.5 1177.5,184.0 1177.8,184.5 1178.0,185.0 1178.3,185.5 1178.4,185.7 1178.6,186.0 1178.8,186.6 1179.1,187.1 1179.4,187.7 1179.6,188.3 1179.9,188.9 1180.2,189.5 1180.4,190.0 1180.4,190.1 1180.7,190.7 1180.9,191.4 1181.2,192.1 1181.5,192.8 1181.7,193.5 1182.0,194.2 1182.3,195.0 1182.3,195.1 1182.5,195.8 1182.8,196.6 1183.1,197.4 1183.3,198.3 1183.6,199.2 1183.9,200.1 1184.1,201.1 1184.3,201.7 1184.4,202.1 1184.6,203.1 1184.9,204.2 1185.2,205.4 1185.4,206.6 1185.7,207.9 1186.0,209.3 1186.2,210.7 1186.3,210.9 1186.5,212.2 1186.8,213.9 1187.0,215.7 1187.3,217.6 1187.5,219.7 1187.8,222.1 1188.1,224.7 1188.2,226.3 1188.3,227.6 1188.6,231.0 1188.9,235.0 1189.1,239.9 1189.4,246.3 1189.7,255.1 1189.9,270.3 1190.2,271.2 1190.2,271.2 1175.5,271.2 1175.5,271.2 1175.3,271.2 1175.0,264.4 1174.8,255.5 1174.5,249.2 1174.2,244.3 1174.0,240.3 1173.7,236.9 1173.7,236.6 1173.4,233.9 1173.2,231.3 1172.9,229.0 1172.6,226.9 1172.4,225.0 1172.1,223.2 1171.8,221.5 1171.8,221.2 1171.6,220.0 1171.3,218.5 1171.1,217.2 1170.8,215.9 1170.5,214.7 1170.3,213.5 1170.0,212.4 1169.9,212.1 1169.7,211.3 1169.5,210.3 1169.2,209.4 1168.9,208.4 1168.7,207.5 1168.4,206.7 1168.2,205.8 1168.0,205.5 1167.9,205.0 1167.6,204.2 1167.4,203.5 1167.1,202.7 1166.8,202.0 1166.6,201.3 1166.3,200.7 1166.2,200.3 1166.0,200.0 1165.8,199.4 1165.5,198.7 1165.2,198.1 1165.0,197.5 1164.7,197.0 1164.5,196.4 1164.3,196.1 1164.2,195.8 1163.9,195.3 1163.7,194.8 1163.4,194.2 1163.1,193.7 1162.9,193.2 1162.6,192.7 1162.4,192.4 1162.3,192.3 1162.1,191.8 1161.8,191.3 1161.5,190.9 1161.3,190.4 1161.0,190.0 1160.8,189.5 1160.5,189.2 1160.5,189.1 1160.2,188.7 1160.0,188.3 1158.7,186.3 1156.8,183.7 1154.9,181.3 1153.1,179.1 1151.2,177.0 1149.3,175.1 1147.4,173.3 1145.6,171.6 1143.7,169.9 1141.8,168.3 1139.9,166.8 1138.1,165.4 1136.2,164.0 1134.3,162.7 1132.4,161.4 1130.6,160.1 1128.7,158.9 1126.8,157.7 1124.9,156.5 1123.1,155.4 1121.2,154.3 1119.3,153.2 1117.4,152.2 1115.6,151.1 1113.7,150.1 1111.8,149.1 1109.9,148.1 1108.1,147.2 1106.2,146.2 1104.3,145.3 1102.4,144.4 1100.6,143.5 1098.7,142.6 1096.8,141.7 1094.9,140.8 1093.1,140.0 1091.2,139.1 1089.3,138.3 1087.4,137.4 1085.6,136.6 1083.7,135.8 1081.8,135.0 1079.9,134.2 1078.1,133.4 1076.2,132.6 1074.3,131.8 1072.4,131.1 1070.6,130.3 1068.7,129.5 1066.8,128.8 1064.9,128.0 1063.1,127.3 1061.2,126.5 1059.3,125.8 1057.5,125.1 1055.6,124.3 1053.7,123.6 1051.8,122.9 1050.0,122.2 1048.1,121.5 1046.2,120.7 1044.3,120.0 1042.5,119.3 1040.6,118.6 1038.7,117.9 1036.8,117.3 1035.0,116.6 1033.1,115.9 1031.2,115.2 1029.3,114.5 1027.5,113.8 1025.6,113.1 1023.7,112.5 1021.8,111.8 1020.0,111.1 1018.1,110.5 1016.2,109.8 1014.3,109.1 1012.5,108.5 1010.6,107.8 1008.7,107.1 1006.8,106.5 1005.0,105.8 1003.1,105.2 1001.2,104.5 999.3,103.9 997.5,103.2 995.6,102.6 993.7,101.9 991.8,101.3 990.0,100.6 988.1,100.0 986.2,99.3 984.3,98.7 982.5,98.1 980.6,97.4 978.7,96.8 976.8,96.2 975.0,95.5 973.1,94.9 971.2,94.2 969.4,93.6 967.5,93.0 965.6,92.3 963.7,91.7 961.9,91.1 960.0,90.5 958.1,89.8 956.2,89.2 954.4,88.6 952.5,87.9 950.6,87.3 948.7,86.7 946.9,86.1 945.0,85.5 943.1,84.8 941.2,84.2 939.4,83.6 937.5,83.0 935.6,82.3 933.7,81.7 931.9,81.1 930.0,80.5 928.1,79.9 926.2,79.2 924.4,78.6 922.5,78.0 920.6,77.4 918.7,76.8 916.9,76.2 915.0,75.5 913.1,74.9 911.2,74.3 909.4,73.7 907.5,73.1 905.6,72.5 903.7,71.9 901.9,71.2 900.0,70.6 898.1,70.0 896.2,69.4 894.4,68.8 892.5,68.2 890.6,67.6 888.7,67.0 886.9,66.3 885.0,65.7 883.1,65.1 881.2,64.5 879.4,63.9 877.5,63.3" fill="#a1b9de" stroke="none" stroke-width="1" />
<polygon points="877.5,49.3 879.5,49.9 881.4,50.5 883.4,51.2 885.4,51.8 887.3,52.5 889.3,53.1 891.3,53.7 893.2,54.4 895.2,55.0 897.2,55.7 899.1,56.3 901.1,56.9 903.1,57.6 905.0,58.2 907.0,58.9 909.0,59.5 910.9,60.1 912.9,60.8 914.9,61.4 916.8,62.1 918.8,62.7 920.8,63.4 922.7,64.0 924.7,64.7 926.7,65.3 928.6,65.9 930.6,66.6 932.6,67.2 934.5,67.9 936.5,68.5 938.5,69.2 940.4,69.8 942.4,70.5 944.4,71.1 946.3,71.8 948.3,72.4 950.3,73.1 952.2,73.7 954.2,74.4 956.2,75.0 958.1,75.7 960.1,76.3 962.1,77.0 964.0,77.7 966.0,78.3 968.0,79.0 969.9,79.6 971.9,80.3 973.9,80.9 975.8,81.6 977.8,82.3 979.8,82.9 981.7,83.6 983.7,84.2 985.7,84.9 987.6,85.6 989.6,86.2 991.6,86.9 993.5,87.6 995.5,88.2 997.5,88.9 999.4,89.6 1001.4,90.3 1003.4,90.9 1005.3,91.6 1007.3,92.3 1009.3,93.0 1011.2,93.6 1013.2,94.3 1015.2,95.0 1017.1,95.7 1019.1,96.4 1021.1,97.1 1023.0,97.8 1025.0,98.5 1027.0,99.1 1028.9,99.8 1030.9,100.5 1032.9,101.2 1034.8,101.9 1036.8,102.6 1038.8,103.4 1040.7,104.1 1042.7,104.8 1044.7,105.5 1046.6,106.2 1048.6,106.9 1050.6,107.6 1052.5,108.4 1054.5,109.1 1056.5,109.8 1058.4,110.6 1060.4,111.3 1062.4,112.1 1064.3,112.8 1066.3,113.6 1068.3,114.3 1070.2,115.1 1072.2,115.8 1074.2,116.6 1076.1,117.4 1078.1,118.2 1080.1,118.9 1082.0,119.7 1084.0,120.5 1086.0,121.3 1087.9,122.1 1089.9,122.9 1091.9,123.8 1093.8,124.6 1095.8,125.4 1097.8,126.3 1099.7,127.1 1101.7,128.0 1103.7,128.9 1105.6,129.7 1107.6,130.6 1109.6,131.5 1111.5,132.5 1113.5,133.4 1115.5,134.3 1117.4,135.3 1119.4,136.2 1121.4,137.2 1123.3,138.2 1125.3,139.2 1127.3,140.3 1129.2,141.3 1131.2,142.4 1133.2,143.5 1135.1,144.6 1137.1,145.8 1139.1,147.0 1141.0,148.2 1143.0,149.4 1145.0,150.7 1146.9,152.0 1148.9,153.4 1150.9,154.8 1152.8,156.2 1154.8,157.7 1156.8,159.3 1158.7,161.0 1160.7,162.7 1162.7,164.6 1164.6,166.5 1166.6,168.6 1168.6,170.8 1170.5,173.2 1172.5,175.9 1174.5,178.8 1174.6,179.0 1174.9,179.4 1175.1,179.8 1175.4,180.3 1175.7,180.7 1175.9,181.1 1176.2,181.6 1176.4,182.0 1176.5,182.0 1176.7,182.5 1177.0,183.0 1177.3,183.5 1177.5,184.0 1177.8,184.5 1178.0,185.0 1178.3,185.5 1178.4,185.7 1178.6,186.0 1178.8,186.6 1179.1,187.1 1179.4,187.7 1179.6,188.3 1179.9,188.9 1180.2,189.5 1180.4,190.0 1180.4,190.1 1180.7,190.7 1180.9,191.4 1181.2,192.1 1181.5,192.8 1181.7,193.5 1182.0,194.2 1182.3,195.0 1182.3,195.1 1182.5,195.8 1182.8,196.6 1183.1,197.4 1183.3,198.3 1183.6,199.2 1183.9,200.1 1184.1,201.1 1184.3,201.7 1184.4,202.1 1184.6,203.1 1184.9,204.2 1185.2,205.4 1185.4,206.6 1185.7,207.9 1186.0,209.3 1186.2,210.7 1186.3,210.9 1186.5,212.2 1186.8,213.9 1187.0,215.7 1187.3,217.6 1187.5,219.7 1187.8,222.1 1188.1,224.7 1188.2,226.3 1188.3,227.6 1188.6,231.0 1188.9,235.0 1189.1,239.9 1189.4,246.3 1189.7,255.1 1189.9,270.3 1190.2,271.2 1190.2,271.2 1183.2,271.2 1183.2,271.2 1182.9,271.2 1182.7,262.2 1182.4,253.3 1182.1,247.0 1181.9,242.1 1181.6,238.1 1181.3,234.7 1181.3,233.9 1181.1,231.8 1180.8,229.2 1180.5,226.8 1180.3,224.7 1180.0,222.8 1179.7,221.0 1179.5,219.3 1179.3,218.5 1179.2,217.8 1179.0,216.3 1178.7,215.0 1178.4,213.7 1178.2,212.5 1177.9,211.3 1177.6,210.2 1177.4,209.3 1177.4,209.2 1177.1,208.2 1176.8,207.2 1176.6,206.3 1176.3,205.4 1176.1,204.5 1175.8,203.7 1175.5,202.8 1175.5,202.7 1175.3,202.1 1175.0,201.3 1174.7,200.6 1174.5,199.9 1174.2,199.2 1173.9,198.5 1173.7,197.8 1173.6,197.6 1173.4,197.2 1173.1,196.6 1172.9,196.0 1172.6,195.4 1172.4,194.8 1172.1,194.2 1171.8,193.7 1171.6,193.3 1171.6,193.1 1171.3,192.6 1171.0,192.1 1170.8,191.6 1170.5,191.1 1170.2,190.6 1170.0,190.1 1169.7,189.6 1169.7,189.6 1169.4,189.1 1169.2,188.7 1168.9,188.2 1168.7,187.8 1168.4,187.3 1168.1,186.9 1167.9,186.5 1167.8,186.4 1167.6,186.1 1165.9,183.5 1164.0,180.9 1162.0,178.5 1160.1,176.3 1158.2,174.2 1156.3,172.3 1154.3,170.4 1152.4,168.7 1150.5,167.1 1148.6,165.5 1146.7,164.0 1144.7,162.5 1142.8,161.1 1140.9,159.8 1139.0,158.4 1137.0,157.2 1135.1,155.9 1133.2,154.7 1131.3,153.6 1129.3,152.4 1127.4,151.3 1125.5,150.2 1123.6,149.2 1121.7,148.1 1119.7,147.1 1117.8,146.1 1115.9,145.1 1114.0,144.1 1112.0,143.2 1110.1,142.2 1108.2,141.3 1106.3,140.4 1104.4,139.5 1102.4,138.6 1100.5,137.7 1098.6,136.8 1096.7,136.0 1094.7,135.1 1092.8,134.3 1090.9,133.4 1089.0,132.6 1087.1,131.8 1085.1,131.0 1083.2,130.2 1081.3,129.4 1079.4,128.6 1077.4,127.8 1075.5,127.0 1073.6,126.2 1071.7,125.5 1069.8,124.7 1067.8,124.0 1065.9,123.2 1064.0,122.5 1062.1,121.7 1060.1,121.0 1058.2,120.2 1056.3,119.5 1054.4,118.8 1052.4,118.0 1050.5,117.3 1048.6,116.6 1046.7,115.9 1044.8,115.2 1042.8,114.5 1040.9,113.8 1039.0,113.1 1037.1,112.4 1035.1,111.7 1033.2,111.0 1031.3,110.3 1029.4,109.6 1027.5,108.9 1025.5,108.2 1023.6,107.5 1021.7,106.9 1019.8,106.2 1017.8,105.5 1015.9,104.8 1014.0,104.1 1012.1,103.5 1010.2,102.8 1008.2,102.1 1006.3,101.5 1004.4,100.8 1002.5,100.1 1000.5,99.5 998.6,98.8 996.7,98.1 994.8,97.5 992.9,96.8 990.9,96.2 989.0,95.5 987.1,94.9 985.2,94.2 983.2,93.6 981.3,92.9 979.4,92.3 977.5,91.6 975.5,91.0 973.6,90.3 971.7,89.7 969.8,89.0 967.9,88.4 965.9,87.7 964.0,87.1 962.1,86.4 960.2,85.8 958.2,85.1 956.3,84.5 954.4,83.9 952.5,83.2 950.6,82.6 948.6,82.0 946.7,81.3 944.8,80.7 942.9,80.0 940.9,79.4 939.0,78.8 937.1,78.1 935.2,77.5 933.3,76.9 931.3,76.2 929.4,75.6 927.5,75.0 925.6,74.3 923.6,73.7 921.7,73.1 919.8,72.4 917.9,71.8 915.9,71.2 914.0,70.5 912.1,69.9 910.2,69.3 908.3,68.7 906.3,68.0 904.4,67.4 902.5,66.8 900.6,66.1 898.6,65.5 896.7,64.9 894.8,64.3 892.9,63.6 891.0,63.0 889.0,62.4 887.1,61.8 885.2,61.1 883.3,60.5 881.3,59.9 879.4,59.3 877.5,58.6" fill="#8eabd6" stroke="none" stroke-width="1" />
<polygon points="877.5,49.3 879.5,49.9 881.4,50.5 883.4,51.2 885.4,51.8 887.3,52.5 889.3,53.1 891.3,53.7 893.2,54.4 895.2,55.0 897.2,55.7 899.1,56.3 901.1,56.9 903.1,57.6 905.0,58.2 907.0,58.9 909.0,59.5 910.9,60.1 912.9,60.8 914.9,61.4 916.8,62.1 918.8,62.7 920.8,63.4 922.7,64.0 924.7,64.7 926.7,65.3 928.6,65.9 930.6,66.6 932.6,67.2 934.5,67.9 936.5,68.5 938.5,69.2 940.4,69.8 942.4,70.5 944.4,71.1 946.3,71.8 948.3,72.4 950.3,73.1 952.2,73.7 954.2,74.4 956.2,75.0 958.1,75.7 960.1,76.3 962.1,77.0 964.0,77.7 966.0,78.3 968.0,79.0 969.9,79.6 971.9,80.3 973.9,80.9 975.8,81.6 977.8,82.3 979.8,82.9 981.7,83.6 983.7,84.2 985.7,84.9 987.6,85.6 989.6,86.2 991.6,86.9 993.5,87.6 995.5,88.2 997.5,88.9 999.4,89.6 1001.4,90.3 1003.4,90.9 1005.3,91.6 1007.3,92.3 1009.3,93.0 1011.2,93.6 1013.2,94.3 1015.2,95.0 1017.1,95.7 1019.1,96.4 1021.1,97.1 1023.0,97.8 1025.0,98.5 1027.0,99.1 1028.9,99.8 1030.9,100.5 1032.9,101.2 1034.8,101.9 1036.8,102.6 1038.8,103.4 1040.7,104.1 1042.7,104.8 1044.7,105.5 1046.6,106.2 1048.6,106.9 1050.6,107.6 1052.5,108.4 1054.5,109.1 1056.5,109.8 1058.4,110.6 1060.4,111.3 1062.4,112.1 1064.3,112.8 1066.3,113.6 1068.3,114.3 1070.2,115.1 1072.2,115.8 1074.2,116.6 1076.1,117.4 1078.1,118.2 1080.1,118.9 1082.0,119.7 1084.0,120.5 1086.0,121.3 1087.9,122.1 1089.9,122.9 1091.9,123.8 1093.8,124.6 1095.8,125.4 1097.8,126.3 1099.7,127.1 1101.7,128.0 1103.7,128.9 1105.6,129.7 1107.6,130.6 1109.6,131.5 1111.5,132.5 1113.5,133.4 1115.5,134.3 1117.4,135.3 1119.4,136.2 1121.4,137.2 1123.3,138.2 1125.3,139.2 1127.3,140.3 1129.2,141.3 1131.2,142.4 1133.2,143.5 1135.1,144.6 1137.1,145.8 1139.1,147.0 1141.0,148.2 1143.0,149.4 1145.0,150.7 1146.9,152.0 1148.9,153.4 1150.9,154.8 1152.8,156.2 1154.8,157.7 1156.8,159.3 1158.7,161.0 1160.7,162.7 1162.7,164.6 1164.6,166.5 1166.6,168.6 1168.6,170.8 1170.5,173.2 1172.5,175.9 1174.5,178.8 1174.6,179.0 1174.9,179.4 1175.1,179.8 1175.4,180.3 1175.7,180.7 1175.9,181.1 1176.2,181.6 1176.4,182.0 1176.5,182.0 1176.7,182.5 1177.0,183.0 1177.3,183.5 1177.5,184.0 1177.8,184.5 1178.0,185.0 1178.3,185.5 1178.4,185.7 1178.6,186.0 1178.8,186.6 1179.1,187.1 1179.4,187.7 1179.6,188.3 1179.9,188.9 1180.2,189.5 1180.4,190.0 1180.4,190.1 1180.7,190.7 1180.9,191.4 1181.2,192.1 1181.5,192.8 1181.7,193.5 1182.0,194.2 1182.3,195.0 1182.3,195.1 1182.5,195.8 1182.8,196.6 1183.1,197.4 1183.3,198.3 1183.6,199.2 1183.9,200.1 1184.1,201.1 1184.3,201.7 1184.4,202.1 1184.6,203.1 1184.9,204.2 1185.2,205.4 1185.4,206.6 1185.7,207.9 1186.0,209.3 1186.2,210.7 1186.3,210.9 1186.5,212.2 1186.8,213.9 1187.0,215.7 1187.3,217.6 1187.5,219.7 1187.8,222.1 1188.1,224.7 1188.2,226.3 1188.3,227.6 1188.6,231.0 1188.9,235.0 1189.1,239.9 1189.4,246.3 1189.7,255.1 1189.9,270.3 1190.2,271.2 1190.2,271.2 1187.4,271.2 1187.4,271.2 1187.1,271.2 1186.9,260.7 1186.6,251.9 1186.3,245.5 1186.1,240.6 1185.8,236.6 1185.5,233.2 1185.4,232.1 1185.3,230.3 1185.0,227.7 1184.7,225.3 1184.5,223.2 1184.2,221.3 1184.0,219.5 1183.7,217.8 1183.5,216.7 1183.4,216.3 1183.2,214.9 1182.9,213.5 1182.6,212.2 1182.4,211.0 1182.1,209.8 1181.8,208.7 1181.6,207.7 1181.5,207.5 1181.3,206.7 1181.0,205.7 1180.8,204.8 1180.5,203.9 1180.3,203.0 1180.0,202.2 1179.7,201.4 1179.6,200.9 1179.5,200.6 1179.2,199.8 1178.9,199.1 1178.7,198.4 1178.4,197.7 1178.1,197.0 1177.9,196.3 1177.6,195.8 1177.6,195.7 1177.4,195.1 1177.1,194.5 1176.8,193.9 1176.6,193.3 1176.3,192.7 1176.0,192.2 1175.8,191.6 1175.7,191.5 1175.5,191.1 1175.2,190.6 1175.0,190.1 1174.7,189.6 1174.4,189.1 1174.2,188.6 1173.9,188.1 1173.7,187.8 1173.7,187.6 1173.4,187.2 1173.1,186.7 1172.9,186.3 1172.6,185.9 1172.3,185.4 1172.1,185.0 1171.8,184.6 1171.8,184.6 1169.8,181.7 1167.9,179.1 1165.9,176.7 1164.0,174.4 1162.1,172.4 1160.1,170.4 1158.2,168.6 1156.2,166.8 1154.3,165.2 1152.3,163.6 1150.4,162.1 1148.4,160.6 1146.5,159.2 1144.5,157.9 1142.6,156.5 1140.6,155.3 1138.7,154.0 1136.7,152.8 1134.8,151.7 1132.8,150.5 1130.9,149.4 1128.9,148.3 1127.0,147.2 1125.0,146.2 1123.1,145.1 1121.1,144.1 1119.2,143.1 1117.2,142.2 1115.3,141.2 1113.3,140.2 1111.4,139.3 1109.4,138.4 1107.5,137.5 1105.5,136.6 1103.6,135.7 1101.6,134.8 1099.7,133.9 1097.7,133.1 1095.8,132.2 1093.8,131.4 1091.9,130.6 1089.9,129.7 1088.0,128.9 1086.0,128.1 1084.1,127.3 1082.1,126.5 1080.2,125.7 1078.2,124.9 1076.3,124.2 1074.3,123.4 1072.4,122.6 1070.4,121.8 1068.5,121.1 1066.6,120.3 1064.6,119.6 1062.7,118.8 1060.7,118.1 1058.8,117.4 1056.8,116.6 1054.9,115.9 1052.9,115.2 1051.0,114.4 1049.0,113.7 1047.1,113.0 1045.1,112.3 1043.2,111.6 1041.2,110.9 1039.3,110.1 1037.3,109.4 1035.4,108.7 1033.4,108.0 1031.5,107.3 1029.5,106.7 1027.6,106.0 1025.6,105.3 1023.7,104.6 1021.7,103.9 1019.8,103.2 1017.8,102.5 1015.9,101.8 1013.9,101.2 1012.0,100.5 1010.0,99.8 1008.1,99.1 1006.1,98.5 1004.2,97.8 1002.2,97.1 1000.3,96.4 998.3,95.8 996.4,95.1 994.4,94.4 992.5,93.8 990.5,93.1 988.6,92.5 986.6,91.8 984.7,91.1 982.7,90.5 980.8,89.8 978.8,89.2 976.9,88.5 974.9,87.8 973.0,87.2 971.1,86.5 969.1,85.9 967.2,85.2 965.2,84.6 963.3,83.9 961.3,83.3 959.4,82.6 957.4,82.0 955.5,81.3 953.5,80.7 951.6,80.0 949.6,79.4 947.7,78.7 945.7,78.1 943.8,77.5 941.8,76.8 939.9,76.2 937.9,75.5 936.0,74.9 934.0,74.2 932.1,73.6 930.1,73.0 928.2,72.3 926.2,71.7 924.3,71.0 922.3,70.4 920.4,69.8 918.4,69.1 916.5,68.5 914.5,67.8 912.6,67.2 910.6,66.6 908.7,65.9 906.7,65.3 904.8,64.7 902.8,64.0 900.9,63.4 898.9,62.7 897.0,62.1 895.0,61.5 893.1,60.8 891.1,60.2 889.2,59.6 887.2,58.9 885.3,58.3 883.3,57.7 881.4,57.0 879.4,56.4 877.5,55.8" fill="#7b9dcf" stroke="none" stroke-width="1" />
<polygon points="877.5,49.3 879.5,49.9 881.4,50.5 883.4,51.2 885.4,51.8 887.3,52.5 889.3,53.1 891.3,53.7 893.2,54.4 895.2,55.0 897.2,55.7 899.1,56.3 901.1,56.9 903.1,57.6 905.0,58.2 907.0,58.9 909.0,59.5 910.9,60.1 912.9,60.8 914.9,61.4 916.8,62.1 918.8,62.7 920.8,63.4 922.7,64.0 924.7,64.7 926.7,65.3 928.6,65.9 930.6,66.6 932.6,67.2 934.5,67.9 936.5,68.5 938.5,69.2 940.4,69.8 942.4,70.5 944.4,71.1 946.3,71.8 948.3,72.4 950.3,73.1 952.2,73.7 954.2,74.4 956.2,75.0 958.1,75.7 960.1,76.3 962.1,77.0 964.0,77.7 966.0,78.3 968.0,79.0 969.9,79.6 971.9,80.3 973.9,80.9 975.8,81.6 977.8,82.3 979.8,82.9 981.7,83.6 983.7,84.2 985.7,84.9 987.6,85.6 989.6,86.2 991.6,86.9 993.5,87.6 995.5,88.2 997.5,88.9 999.4,89.6 1001.4,90.3 1003.4,90.9 1005.3,91.6 1007.3,92.3 1009.3,93.0 1011.2,93.6 1013.2,94.3 1015.2,95.0 1017.1,95.7 1019.1,96.4 1021.1,97.1 1023.0,97.8 1025.0,98.5 1027.0,99.1 1028.9,99.8 1030.9,100.5 1032.9,101.2 1034.8,101.9 1036.8,102.6 1038.8,103.4 1040.7,104.1 1042.7,104.8 1044.7,105.5 1046.6,106.2 1048.6,106.9 1050.6,107.6 1052.5,108.4 1054.5,109.1 1056.5,109.8 1058.4,110.6 1060.4,111.3 1062.4,112.1 1064.3,112.8 1066.3,113.6 1068.3,114.3 1070.2,115.1 1072.2,115.8 1074.2,116.6 1076.1,117.4 1078.1,118.2 1080.1,118.9 1082.0,119.7 1084.0,120.5 1086.0,121.3 1087.9,122.1 1089.9,122.9 1091.9,123.8 1093.8,124.6 1095.8,125.4 1097.8,126.3 1099.7,127.1 1101.7,128.0 1103.7,128.9 1105.6,129.7 1107.6,130.6 1109.6,131.5 1111.5,132.5 1113.5,133.4 1115.5,134.3 1117.4,135.3 1119.4,136.2 1121.4,137.2 1123.3,138.2 1125.3,139.2 1127.3,140.3 1129.2,141.3 1131.2,142.4 1133.2,143.5 1135.1,144.6 1137.1,145.8 1139.1,147.0 1141.0,148.2 1143.0,149.4 1145.0,150.7 1146.9,152.0 1148.9,153.4 1150.9,154.8 1152.8,156.2 1154.8,157.7 1156.8,159.3 1158.7,161.0 1160.7,162.7 1162.7,164.6 1164.6,166.5 1166.6,168.6 1168.6,170.8 1170.5,173.2 1172.5,175.9 1174.5,178.8 1174.6,179.0 1174.9,179.4 1175.1,179.8 1175.4,180.3 1175.7,180.7 1175.9,181.1 1176.2,181.6 1176.4,182.0 1176.5,182.0 1176.7,182.5 1177.0,183.0 1177.3,183.5 1177.5,184.0 1177.8,184.5 1178.0,185.0 1178.3,185.5 1178.4,185.7 1178.6,186.0 1178.8,186.6 1179.1,187.1 1179.4,187.7 1179.6,188.3 1179.9,188.9 1180.2,189.5 1180.4,190.0 1180.4,190.1 1180.7,190.7 1180.9,191.4 1181.2,192.1 1181.5,192.8 1181.7,193.5 1182.0,194.2 1182.3,195.0 1182.3,195.1 1182.5,195.8 1182.8,196.6 1183.1,197.4 1183.3,198.3 1183.6,199.2 1183.9,200.1 1184.1,201.1 1184.3,201.7 1184.4,202.1 1184.6,203.1 1184.9,204.2 1185.2,205.4 1185.4,206.6 1185.7,207.9 1186.0,209.3 1186.2,210.7 1186.3,210.9 1186.5,212.2 1186.8,213.9 1187.0,215.7 1187.3,217.6 1187.5,219.7 1187.8,222.1 1188.1,224.7 1188.2,226.3 1188.3,227.6 1188.6,231.0 1188.9,235.0 1189.1,239.9 1189.4,246.3 1189.7,255.1 1189.9,270.3 1190.2,271.2 1190.2,271.2 1189.1,271.2 1189.1,271.2 1188.8,271.2 1188.6,258.8 1188.3,249.9 1188.0,243.6 1187.8,238.7 1187.5,234.7 1187.3,231.3 1187.1,230.0 1187.0,228.3 1186.7,225.7 1186.5,223.4 1186.2,221.3 1185.9,219.3 1185.7,217.6 1185.4,215.9 1185.2,214.6 1185.1,214.4 1184.9,212.9 1184.6,211.6 1184.3,210.3 1184.1,209.0 1183.8,207.9 1183.6,206.8 1183.3,205.7 1183.2,205.4 1183.0,204.7 1182.8,203.7 1182.5,202.8 1182.2,201.9 1182.0,201.1 1181.7,200.2 1181.4,199.4 1181.3,198.9 1181.2,198.6 1180.9,197.9 1180.6,197.1 1180.4,196.4 1180.1,195.7 1179.9,195.1 1179.6,194.4 1179.3,193.8 1179.3,193.7 1179.1,193.1 1178.8,192.5 1178.5,191.9 1178.3,191.4 1178.0,190.8 1177.7,190.2 1177.5,189.7 1177.3,189.4 1177.2,189.2 1177.0,188.6 1176.7,188.1 1176.4,187.6 1176.2,187.1 1175.9,186.6 1175.6,186.2 1175.4,185.7 1175.4,185.7 1175.1,185.2 1174.8,184.8 1174.6,184.3 1174.3,183.9 1174.0,183.5 1173.8,183.1 1173.5,182.6 1173.4,182.5 1171.5,179.6 1169.5,177.0 1167.5,174.6 1165.6,172.4 1163.6,170.3 1161.7,168.3 1159.7,166.5 1157.7,164.7 1155.8,163.1 1153.8,161.5 1151.9,160.0 1149.9,158.5 1147.9,157.1 1146.0,155.8 1144.0,154.4 1142.1,153.2 1140.1,151.9 1138.1,150.7 1136.2,149.5 1134.2,148.4 1132.3,147.3 1130.3,146.2 1128.3,145.1 1126.4,144.0 1124.4,143.0 1122.5,142.0 1120.5,141.0 1118.5,140.0 1116.6,139.1 1114.6,138.1 1112.7,137.2 1110.7,136.2 1108.8,135.3 1106.8,134.4 1104.8,133.5 1102.9,132.7 1100.9,131.8 1099.0,130.9 1097.0,130.1 1095.0,129.2 1093.1,128.4 1091.1,127.6 1089.2,126.7 1087.2,125.9 1085.2,125.1 1083.3,124.3 1081.3,123.5 1079.4,122.7 1077.4,122.0 1075.4,121.2 1073.5,120.4 1071.5,119.6 1069.6,118.9 1067.6,118.1 1065.6,117.4 1063.7,116.6 1061.7,115.9 1059.8,115.1 1057.8,114.4 1055.8,113.7 1053.9,112.9 1051.9,112.2 1050.0,111.5 1048.0,110.8 1046.0,110.0 1044.1,109.3 1042.1,108.6 1040.2,107.9 1038.2,107.2 1036.2,106.5 1034.3,105.8 1032.3,105.1 1030.4,104.4 1028.4,103.7 1026.4,103.0 1024.5,102.3 1022.5,101.6 1020.6,100.9 1018.6,100.2 1016.6,99.6 1014.7,98.9 1012.7,98.2 1010.8,97.5 1008.8,96.8 1006.8,96.2 1004.9,95.5 1002.9,94.8 1001.0,94.1 999.0,93.5 997.0,92.8 995.1,92.1 993.1,91.5 991.2,90.8 989.2,90.1 987.2,89.5 985.3,88.8 983.3,88.1 981.4,87.5 979.4,86.8 977.4,86.2 975.5,85.5 973.5,84.8 971.6,84.2 969.6,83.5 967.6,82.9 965.7,82.2 963.7,81.6 961.8,80.9 959.8,80.3 957.8,79.6 955.9,79.0 953.9,78.3 952.0,77.7 950.0,77.0 948.1,76.4 946.1,75.7 944.1,75.1 942.2,74.4 940.2,73.8 938.3,73.1 936.3,72.5 934.3,71.8 932.4,71.2 930.4,70.5 928.5,69.9 926.5,69.3 924.5,68.6 922.6,68.0 920.6,67.3 918.7,66.7 916.7,66.0 914.7,65.4 912.8,64.8 910.8,64.1 908.9,63.5 906.9,62.8 904.9,62.2 903.0,61.6 901.0,60.9 899.1,60.3 897.1,59.6 895.1,59.0 893.2,58.4 891.2,57.7 889.3,57.1 887.3,56.5 885.3,55.8 883.4,55.2 881.4,54.5 879.5,53.9 877.5,53.3" fill="#6890c7" stroke="none" stroke-width="1" />
<polygon points="877.5,49.3 879.5,49.9 881.4,50.5 883.4,51.2 885.4,51.8 887.3,52.5 889.3,53.1 891.3,53.7 893.2,54.4 895.2,55.0 897.2,55.7 899.1,56.3 901.1,56.9 903.1,57.6 905.0,58.2 907.0,58.9 909.0,59.5 910.9,60.1 912.9,60.8 914.9,61.4 916.8,62.1 918.8,62.7 920.8,63.4 922.7,64.0 924.7,64.7 926.7,65.3 928.6,65.9 930.6,66.6 932.6,67.2 934.5,67.9 936.5,68.5 938.5,69.2 940.4,69.8 942.4,70.5 944.4,71.1 946.3,71.8 948.3,72.4 950.3,73.1 952.2,73.7 954.2,74.4 956.2,75.0 958.1,75.7 960.1,76.3 962.1,77.0 964.0,77.7 966.0,78.3 968.0,79.0 969.9,79.6 971.9,80.3 973.9,80.9 975.8,81.6 977.8,82.3 979.8,82.9 981.7,83.6 983.7,84.2 985.7,84.9 987.6,85.6 989.6,86.2 991.6,86.9 993.5,87.6 995.5,88.2 997.5,88.9 999.4,89.6 1001.4,90.3 1003.4,90.9 1005.3,91.6 1007.3,92.3 1009.3,93.0 1011.2,93.6 1013.2,94.3 1015.2,95.0 1017.1,95.7 1019.1,96.4 1021.1,97.1 1023.0,97.8 1025.0,98.5 1027.0,99.1 1028.9,99.8 1030.9,100.5 1032.9,101.2 1034.8,101.9 1036.8,102.6 1038.8,103.4 1040.7,104.1 1042.7,104.8 1044.7,105.5 1046.6,106.2 1048.6,106.9 1050.6,107.6 1052.5,108.4 1054.5,109.1 1056.5,109.8 1058.4,110.6 1060.4,111.3 1062.4,112.1 1064.3,112.8 1066.3,113.6 1068.3,114.3 1070.2,115.1 1072.2,115.8 1074.2,116.6 1076.1,117.4 1078.1,118.2 1080.1,118.9 1082.0,119.7 1084.0,120.5 1086.0,121.3 1087.9,122.1 1089.9,122.9 1091.9,123.8 1093.8,124.6 1095.8,125.4 1097.8,126.3 1099.7,127.1 1101.7,128.0 1103.7,128.9 1105.6,129.7 1107.6,130.6 1109.6,131.5 1111.5,132.5 1113.5,133.4 1115.5,134.3 1117.4,135.3 1119.4,136.2 1121.4,137.2 1123.3,138.2 1125.3,139.2 1127.3,140.3 1129.2,141.3 1131.2,142.4 1133.2,143.5 1135.1,144.6 1137.1,145.8 1139.1,147.0 1141.0,148.2 1143.0,149.4 1145.0,150.7 1146.9,152.0 1148.9,153.4 1150.9,154.8 1152.8,156.2 1154.8,157.7 1156.8,159.3 1158.7,161.0 1160.7,162.7 1162.7,164.6 1164.6,166.5 1166.6,168.6 1168.6,170.8 1170.5,173.2 1172.5,175.9 1174.5,178.8 1174.6,179.0 1174.9,179.4 1175.1,179.8 1175.4,180.3 1175.7,180.7 1175.9,181.1 1176.2,181.6 1176.4,182.0 1176.5,182.0 1176.7,182.5 1177.0,183.0 1177.3,183.5 1177.5,184.0 1177.8,184.5 1178.0,185.0 1178.3,185.5 1178.4,185.7 1178.6,186.0 1178.8,186.6 1179.1,187.1 1179.4,187.7 1179.6,188.3 1179.9,188.9 1180.2,189.5 1180.4,190.0 1180.4,190.1 1180.7,190.7 1180.9,191.4 1181.2,192.1 1181.5,192.8 1181.7,193.5 1182.0,194.2 1182.3,195.0 1182.3,195.1 1182.5,195.8 1182.8,196.6 1183.1,197.4 1183.3,198.3 1183.6,199.2 1183.9,200.1 1184.1,201.1 1184.3,201.7 1184.4,202.1 1184.6,203.1 1184.9,204.2 1185.2,205.4 1185.4,206.6 1185.7,207.9 1186.0,209.3 1186.2,210.7 1186.3,210.9 1186.5,212.2 1186.8,213.9 1187.0,215.7 1187.3,217.6 1187.5,219.7 1187.8,222.1 1188.1,224.7 1188.2,226.3 1188.3,227.6 1188.6,231.0 1188.9,235.0 1189.1,239.9 1189.4,246.3 1189.7,255.1 1189.9,270.3 1190.2,271.2 1190.2,271.2 1189.6,271.2 1189.6,271.2 1189.3,271.2 1189.0,256.9 1188.8,248.1 1188.5,241.7 1188.2,236.8 1188.0,232.8 1187.7,229.4 1187.6,228.1 1187.5,226.5 1187.2,223.9 1186.9,221.5 1186.7,219.4 1186.4,217.5 1186.1,215.7 1185.9,214.0 1185.6,212.7 1185.6,212.5 1185.3,211.1 1185.1,209.7 1184.8,208.4 1184.6,207.2 1184.3,206.0 1184.0,204.9 1183.8,203.9 1183.7,203.6 1183.5,202.9 1183.2,201.9 1183.0,201.0 1182.7,200.1 1182.4,199.2 1182.2,198.4 1181.9,197.6 1181.7,197.0 1181.6,196.8 1181.4,196.0 1181.1,195.3 1180.9,194.6 1180.6,193.9 1180.3,193.2 1180.1,192.5 1179.8,191.9 1179.8,191.8 1179.5,191.3 1179.3,190.7 1179.0,190.1 1178.7,189.5 1178.5,188.9 1178.2,188.4 1177.9,187.8 1177.8,187.5 1177.7,187.3 1177.4,186.8 1177.2,186.3 1176.9,185.8 1176.6,185.3 1176.4,184.8 1176.1,184.3 1175.8,183.8 1175.8,183.8 1175.6,183.4 1175.3,182.9 1175.0,182.5 1174.8,182.1 1174.5,181.6 1174.3,181.2 1174.0,180.8 1173.9,180.6 1171.9,177.7 1169.9,175.1 1168.0,172.7 1166.0,170.5 1164.1,168.4 1162.1,166.4 1160.1,164.6 1158.2,162.9 1156.2,161.2 1154.2,159.6 1152.3,158.1 1150.3,156.6 1148.4,155.2 1146.4,153.9 1144.4,152.5 1142.5,151.3 1140.5,150.0 1138.5,148.8 1136.6,147.6 1134.6,146.5 1132.6,145.4 1130.7,144.3 1128.7,143.2 1126.8,142.1 1124.8,141.1 1122.8,140.1 1120.9,139.1 1118.9,138.1 1116.9,137.1 1115.0,136.2 1113.0,135.3 1111.1,134.3 1109.1,133.4 1107.1,132.5 1105.2,131.6 1103.2,130.7 1101.2,129.9 1099.3,129.0 1097.3,128.2 1095.4,127.3 1093.4,126.5 1091.4,125.7 1089.5,124.8 1087.5,124.0 1085.5,123.2 1083.6,122.4 1081.6,121.6 1079.7,120.8 1077.7,120.0 1075.7,119.3 1073.8,118.5 1071.8,117.7 1069.8,117.0 1067.9,116.2 1065.9,115.4 1064.0,114.7 1062.0,114.0 1060.0,113.2 1058.1,112.5 1056.1,111.7 1054.1,111.0 1052.2,110.3 1050.2,109.6 1048.3,108.8 1046.3,108.1 1044.3,107.4 1042.4,106.7 1040.4,106.0 1038.4,105.3 1036.5,104.6 1034.5,103.9 1032.6,103.2 1030.6,102.5 1028.6,101.8 1026.7,101.1 1024.7,100.4 1022.7,99.7 1020.8,99.0 1018.8,98.3 1016.9,97.6 1014.9,96.9 1012.9,96.3 1011.0,95.6 1009.0,94.9 1007.0,94.2 1005.1,93.5 1003.1,92.9 1001.1,92.2 999.2,91.5 997.2,90.8 995.3,90.2 993.3,89.5 991.3,88.8 989.4,88.2 987.4,87.5 985.4,86.8 983.5,86.2 981.5,85.5 979.6,84.9 977.6,84.2 975.6,83.5 973.7,82.9 971.7,82.2 969.7,81.6 967.8,80.9 965.8,80.3 963.9,79.6 961.9,78.9 959.9,78.3 958.0,77.6 956.0,77.0 954.0,76.3 952.1,75.7 950.1,75.0 948.2,74.4 946.2,73.7 944.2,73.1 942.3,72.4 940.3,71.8 938.3,71.1 936.4,70.5 934.4,69.9 932.5,69.2 930.5,68.6 928.5,67.9 926.6,67.3 924.6,66.6 922.6,66.0 920.7,65.3 918.7,64.7 916.8,64.1 914.8,63.4 912.8,62.8 910.9,62.1 908.9,61.5 906.9,60.8 905.0,60.2 903.0,59.6 901.1,58.9 899.1,58.3 897.1,57.6 895.2,57.0 893.2,56.4 891.2,55.7 889.3,55.1 887.3,54.5 885.4,53.8 883.4,53.2 881.4,52.5 879.5,51.9 877.5,51.3" fill="#4f83c0" stroke="none" stroke-width="1" />
<polyline points="877.5,49.3 879.5,49.9 881.4,50.5 883.4,51.2 885.4,51.8 887.3,52.5 889.3,53.1 891.3,53.7 893.2,54.4 895.2,55.0 897.2,55.7 899.1,56.3 901.1,56.9 903.1,57.6 905.0,58.2 907.0,58.9 909.0,59.5 910.9,60.1 912.9,60.8 914.9,61.4 916.8,62.1 918.8,62.7 920.8,63.4 922.7,64.0 924.7,64.7 926.7,65.3 928.6,65.9 930.6,66.6 932.6,67.2 934.5,67.9 936.5,68.5 938.5,69.2 940.4,69.8 942.4,70.5 944.4,71.1 946.3,71.8 948.3,72.4 950.3,73.1 952.2,73.7 954.2,74.4 956.2,75.0 958.1,75.7 960.1,76.3 962.1,77.0 964.0,77.7 966.0,78.3 968.0,79.0 969.9,79.6 971.9,80.3 973.9,80.9 975.8,81.6 977.8,82.3 979.8,82.9 981.7,83.6 983.7,84.2 985.7,84.9 987.6,85.6 989.6,86.2 991.6,86.9 993.5,87.6 995.5,88.2 997.5,88.9 999.4,89.6 1001.4,90.3 1003.4,90.9 1005.3,91.6 1007.3,92.3 1009.3,93.0 1011.2,93.6 1013.2,94.3 1015.2,95.0 1017.1,95.7 1019.1,96.4 1021.1,97.1 1023.0,97.8 1025.0,98.5 1027.0,99.1 1028.9,99.8 1030.9,100.5 1032.9,101.2 1034.8,101.9 1036.8,102.6 1038.8,103.4 1040.7,104.1 1042.7,104.8 1044.7,105.5 1046.6,106.2 1048.6,106.9 1050.6,107.6 1052.5,108.4 1054.5,109.1 1056.5,109.8 1058.4,110.6 1060.4,111.3 1062.4,112.1 1064.3,112.8 1066.3,113.6 1068.3,114.3 1070.2,115.1 1072.2,115.8 1074.2,116.6 1076.1,117.4 1078.1,118.2 1080.1,118.9 1082.0,119.7 1084.0,120.5 1086.0,121.3 1087.9,122.1 1089.9,122.9 1091.9,123.8 1093.8,124.6 1095.8,125.4 1097.8,126.3 1099.7,127.1 1101.7,128.0 1103.7,128.9 1105.6,129.7 1107.6,130.6 1109.6,131.5 1111.5,132.5 1113.5,133.4 1115.5,134.3 1117.4,135.3 1119.4,136.2 1121.4,137.2 1123.3,138.2 1125.3,139.2 1127.3,140.3 1129.2,141.3 1131.2,142.4 1133.2,143.5 1135.1,144.6 1137.1,145.8 1139.1,147.0 1141.0,148.2 1143.0,149.4 1145.0,150.7 1146.9,152.0 1148.9,153.4 1150.9,154.8 1152.8,156.2 1154.8,157.7 1156.8,159.3 1158.7,161.0 1160.7,162.7 1162.7,164.6 1164.6,166.5 1166.6,168.6 1168.6,170.8 1170.5,173.2 1172.5,175.9 1174.5,178.8 1174.6,179.0 1174.9,179.4 1175.1,179.8 1175.4,180.3 1175.7,180.7 1175.9,181.1 1176.2,181.6 1176.4,182.0 1176.5,182.0 1176.7,182.5 1177.0,183.0 1177.3,183.5 1177.5,184.0 1177.8,184.5 1178.0,185.0 1178.3,185.5 1178.4,185.7 1178.6,186.0 1178.8,186.6 1179.1,187.1 1179.4,187.7 1179.6,188.3 1179.9,188.9 1180.2,189.5 1180.4,190.0 1180.4,190.1 1180.7,190.7 1180.9,191.4 1181.2,192.1 1181.5,192.8 1181.7,193.5 1182.0,194.2 1182.3,195.0 1182.3,195.1 1182.5,195.8 1182.8,196.6 1183.1,197.4 1183.3,198.3 1183.6,199.2 1183.9,200.1 1184.1,201.1 1184.3,201.7 1184.4,202.1 1184.6,203.1 1184.9,204.2 1185.2,205.4 1185.4,206.6 1185.7,207.9 1186.0,209.3 1186.2,210.7 1186.3,210.9 1186.5,212.2 1186.8,213.9 1187.0,215.7 1187.3,217.6 1187.5,219.7 1187.8,222.1 1188.1,224.7 1188.2,226.3 1188.3,227.6 1188.6,231.0 1188.9,235.0 1189.1,239.9 1189.4,246.3 1189.7,255.1 1189.9,270.3 1190.2,271.2 1190.2,271.2" fill="none" stroke="#1f77b4" stroke-width="1.8" />
</g>
<rect x="877.5" y="21" width="320" height="250.2" fill="none" stroke="#000" stroke-width="1.8" />
<line x1="877.5" y1="271.2" x2="877.5" y2="280.5" stroke="#000" stroke-width="1.8" />
<text x="877.5" y="303.2" font-family='"Liberation Serif", serif' font-size="21.5" text-anchor="middle">0</text>
<line x1="955.4" y1="271.2" x2="955.4" y2="280.5" stroke="#000" stroke-width="1.8" />
<text x="955.4" y="303.2" font-family='"Liberation Serif", serif' font-size="21.5" text-anchor="middle">5</text>
<line x1="1033.3" y1="271.2" x2="1033.3" y2="280.5" stroke="#000" stroke-width="1.8" />
<text x="1033.3" y="303.2" font-family='"Liberation Serif", serif' font-size="21.5" text-anchor="middle">10</text>
<line x1="1111.2" y1="271.2" x2="1111.2" y2="280.5" stroke="#000" stroke-width="1.8" />
<text x="1111.2" y="303.2" font-family='"Liberation Serif", serif' font-size="21.5" text-anchor="middle">15</text>
<line x1="1189.1" y1="271.2" x2="1189.1" y2="280.5" stroke="#000" stroke-width="1.8" />
<text x="1189.1" y="303.2" font-family='"Liberation Serif", serif' font-size="21.5" text-anchor="middle">20</text>
<line x1="868.2" y1="271.2" x2="877.5" y2="271.2" stroke="#000" stroke-width="1.8" />
<text x="830.3" y="278.6" font-family='"Liberation Serif", serif' font-size="21.5">10</text>
<text x="851" y="271" font-family='"Liberation Serif", serif' font-size="15">0</text>
<line x1="868.2" y1="171" x2="877.5" y2="171" stroke="#000" stroke-width="1.8" />
<text x="830.3" y="178.4" font-family='"Liberation Serif", serif' font-size="21.5">10</text>
<text x="851" y="170.8" font-family='"Liberation Serif", serif' font-size="15">2</text>
<line x1="868.2" y1="70.8" x2="877.5" y2="70.8" stroke="#000" stroke-width="1.8" />
<text x="830.3" y="78.2" font-family='"Liberation Serif", serif' font-size="21.5">10</text>
<text x="851" y="70.6" font-family='"Liberation Serif", serif' font-size="15">4</text>
<text x="1037.7" y="333.4" font-family='"Liberation Sans", sans-serif' font-size="19.5" text-anchor="middle" textLength="85.5" lengthAdjust="spacingAndGlyphs">Loss (dB)</text>
<text transform="translate(816.3,146.3) rotate(-90)" font-family='"Liberation Sans", sans-serif' font-size="19.5" text-anchor="middle" textLength="87.5" lengthAdjust="spacingAndGlyphs">Rate (Hz)</text>
<text x="908.6" y="186.6" font-family='"Liberation Sans", sans-serif' font-size="19.5" fill="#1f77b4">0.07</text>
<text transform="translate(955.0,186.6)" fill="#1f77b4" font-family='"Liberation Serif", serif'><tspan x="0" y="0" font-size="21" font-style="italic">P</tspan></text>
<text transform="translate(955.0,186.6)" fill="#1f77b4" font-family='"Liberation Serif", serif' x="13" y="2.4" font-size="16.5" textLength="22" lengthAdjust="spacing">sat</text>
<text x="1064.8" y="86.6" font-family='"Liberation Sans", sans-serif' font-size="19.5" fill="#1f77b4">1.56</text>
<text transform="translate(1111.0,86.6)" fill="#1f77b4" font-family='"Liberation Serif", serif'><tspan x="0" y="0" font-size="21" font-style="italic">P</tspan></text>
<text transform="translate(1111.0,86.6)" fill="#1f77b4" font-family='"Liberation Serif", serif' x="13" y="2.4" font-size="16.5" textLength="22" lengthAdjust="spacing">sat</text>
<line x1="990" y1="167.5" x2="1058.5" y2="93.5" stroke="#1f77b4" stroke-width="2.7" stroke-linecap="round"/>
<polyline points="1050.7,95.1 1060.5,91.3 1057.4,101.4" fill="none" stroke="#1f77b4" stroke-width="2.7" stroke-linejoin="miter" stroke-linecap="round"/>
<path d="M90.50 409.8V427.1M91.50 398.8V428.9M92.50 398.8V428.9M93.50 401.6V422.7M94.50 398.2V421.5M95.50 398.2V423.3M96.50 407.4V424.5M97.50 399.8V425.0M98.50 399.8V427.4M99.50 399.5V427.4M100.50 399.5V423.8M101.50 406.9V424.9M102.50 401.1V430.7M103.50 401.1V430.7M104.50 400.9V428.4M105.50 399.4V432.6M106.50 399.4V432.6M107.50 403.5V425.9M108.50 402.2V433.3M109.50 402.1V436.6M110.50 402.1V436.6M111.50 396.4V424.9M112.50 396.4V426.8M113.50 402.1V426.8M114.50 398.2V424.3M115.50 398.2V432.5M116.50 407.4V433.5M117.50 401.7V433.5M118.50 401.7V422.6M119.50 407.9V422.6M120.50 403.1V423.2M121.50 403.1V423.2M122.50 401.2V430.7M123.50 401.2V430.7M124.50 401.5V430.7M125.50 405.1V424.1M126.50 405.1V429.9M127.50 394.9V429.9M128.50 394.9V429.7M129.50 398.3V429.7M130.50 398.3V424.9M131.50 401.9V430.2M132.50 409.0V432.7M133.50 403.8V432.7M134.50 403.8V428.7M135.50 398.4V426.0M136.50 398.4V425.6M137.50 405.4V428.5M138.50 405.4V428.5M139.50 401.0V426.9M140.50 401.0V436.6M141.50 399.1V436.6M142.50 399.1V436.6M143.50 406.6V436.6M144.50 393.4V436.6M145.50 393.4V436.6M146.50 411.2V431.9M147.50 393.4V426.6M148.50 393.4V424.5M149.50 393.6V431.1M150.50 393.6V441.9M151.50 401.7V441.9M152.50 401.7V422.2M153.50 407.9V430.3M154.50 403.6V430.3M155.50 394.6V429.1M156.50 394.6V429.1M157.50 407.4V428.8M158.50 407.4V427.9M159.50 401.8V427.9M160.50 401.8V423.7M161.50 400.4V433.8M162.50 400.4V433.8M163.50 399.9V431.0M164.50 399.9V427.0M165.50 399.9V429.9M166.50 398.5V460.9M167.50 393.4V460.9M168.50 393.4V435.7M169.50 401.3V429.4M170.50 396.9V427.1M171.50 396.9V424.6M172.50 403.8V425.7M173.50 403.8V425.7M174.50 405.6V425.5M175.50 407.3V424.5M176.50 402.7V427.7M177.50 401.2V427.7M178.50 401.2V426.4M179.50 406.3V425.2M180.50 402.9V424.8M181.50 402.9V425.0M182.50 409.1V426.8M183.50 400.9V426.8M184.50 400.9V420.8M185.50 403.0V429.9M186.50 404.6V429.9M187.50 397.4V428.7M188.50 393.4V428.7M189.50 393.4V434.8M190.50 402.3V434.8M191.50 402.3V432.0M192.50 402.5V432.0M193.50 401.1V428.4M194.50 401.1V429.4M195.50 402.4V429.4M196.50 402.4V425.9M197.50 396.9V434.7M198.50 396.9V436.1M199.50 393.7V436.1M200.50 393.7V427.9M201.50 401.4V427.9M202.50 398.4V423.0M203.50 398.4V430.0M204.50 403.7V430.0M205.50 406.7V429.6M206.50 411.0V435.8M207.50 404.9V435.8M208.50 404.9V432.7M209.50 407.7V432.6M210.50 402.2V432.6M211.50 402.2V427.5M212.50 399.1V431.2M213.50 399.1V431.2M214.50 401.8V422.8M215.50 406.1V423.6M216.50 398.6V429.0M217.50 398.6V429.0M218.50 400.9V426.9M219.50 398.3V426.9M220.50 397.3V436.1M221.50 397.3V436.1M222.50 401.6V425.8M223.50 402.2V433.5M224.50 396.3V433.5M225.50 396.3V421.3M226.50 393.0V433.3M227.50 393.0V433.3M228.50 404.4V433.3M229.50 404.4V436.1M230.50 414.1V436.1M231.50 399.4V431.6M232.50 399.3V424.6M233.50 399.3V427.5M234.50 401.5V427.5M235.50 408.2V433.1M236.50 401.2V438.9M237.50 401.2V438.9M238.50 396.3V427.0M239.50 396.3V435.9M240.50 402.6V435.9M241.50 402.2V435.5M242.50 400.4V426.2M243.50 395.5V426.2M244.50 395.5V420.4M245.50 395.9V423.3M246.50 401.7V427.0M247.50 401.7V427.0M248.50 403.0V427.2M249.50 407.1V427.2M250.50 400.8V426.4M251.50 397.6V432.9M252.50 397.6V432.9M253.50 398.0V424.3M254.50 392.5V421.2M255.50 392.5V421.2M256.50 403.5V433.8M257.50 405.0V433.8M258.50 392.5V434.1M259.50 392.4V434.1M260.50 392.4V434.7M261.50 401.9V434.7M262.50 402.5V427.8M263.50 399.3V427.8M264.50 399.3V418.2M265.50 390.8V417.1M266.50 390.8V417.1M267.50 391.4V423.0M268.50 391.4V427.1M269.50 396.2V427.1M270.50 398.7V422.6M271.50 393.3V422.6M272.50 393.3V420.4M273.50 396.1V420.4M274.50 394.9V414.3M275.50 394.9V412.1M276.50 393.7V418.1M277.50 393.7V418.1M278.50 383.9V427.0M279.50 383.9V427.0M280.50 393.1V427.0M281.50 388.7V411.3M282.50 388.7V419.3M283.50 390.6V419.3M284.50 388.5V419.3M285.50 388.5V420.4M286.50 388.5V422.4M287.50 383.8V422.4M288.50 383.8V420.6M289.50 392.4V449.9M290.50 392.4V449.9M291.50 384.1V426.6M292.50 384.1V410.2M293.50 392.0V413.5M294.50 393.8V413.5M295.50 385.8V423.3M296.50 385.8V423.3M297.50 393.4V421.1M298.50 393.2V412.7M299.50 393.2V422.5M300.50 397.5V422.5M301.50 386.9V418.0M302.50 386.9V413.1M303.50 391.9V423.9M304.50 391.9V423.9M305.50 392.6V423.9M306.50 383.7V419.5M307.50 383.7V419.5M308.50 389.0V415.8M309.50 387.2V415.3M310.50 387.2V415.0M311.50 387.2V412.5M312.50 387.6V412.5M313.50 387.6V416.0M314.50 383.7V416.9M315.50 383.7V416.9M316.50 389.4V419.2M317.50 390.5V424.5M318.50 390.5V424.5M319.50 394.2V419.8M320.50 391.1V419.8M321.50 391.1V416.3M322.50 391.2V417.1M323.50 395.6V417.1M324.50 394.4V414.7M325.50 392.2V414.7M326.50 388.7V418.3M327.50 388.7V418.3M328.50 390.5V425.6M329.50 383.6V425.6M330.50 383.6V420.6M331.50 396.5V417.8M332.50 394.8V421.8M333.50 394.8V421.8M334.50 394.4V417.4M335.50 391.5V420.8M336.50 391.5V420.8M337.50 394.8V420.8M338.50 389.1V420.2M339.50 389.1V414.8M340.50 399.9V414.8M341.50 399.9V420.7M342.50 397.5V420.7M343.50 397.5V426.8M344.50 394.6V426.8M345.50 394.6V426.8M346.50 389.8V412.8M347.50 389.8V407.9M348.50 395.5V410.1M349.50 394.4V419.0M350.50 394.4V419.0M351.50 389.0V411.6M352.50 389.0V411.6M353.50 393.1V418.1M354.50 389.8V421.7M355.50 389.0V421.7M356.50 389.0V420.7M357.50 394.0V420.7M358.50 394.7V419.6M359.50 394.7V419.6M360.50 387.2V418.7M361.50 387.2V418.7M362.50 394.4V414.6M363.50 390.6V414.6M364.50 390.6V426.7M365.50 391.9V426.7M366.50 393.3V420.4M367.50 391.2V413.5M368.50 386.9V417.0M369.50 386.9V417.0M370.50 391.5V419.8M371.50 390.2V419.8M372.50 390.2V416.0M373.50 391.0V420.1M374.50 392.7V423.1M375.50 395.8V423.1M376.50 395.8V416.1M377.50 393.7V426.6M378.50 386.8V426.6M379.50 386.8V415.6M380.50 386.8V415.3M381.50 391.7V419.1M382.50 390.0V419.1M383.50 388.7V419.1M384.50 388.7V423.5M385.50 385.9V425.0M386.50 385.9V425.0M387.50 393.7V413.9M388.50 394.9V422.6M389.50 394.9V422.6M390.50 394.7V422.6M391.50 388.4V419.7M392.50 388.4V421.4M393.50 388.4V429.3M394.50 396.6V429.3M395.50 396.6V422.5M396.50 391.1V420.3M397.50 391.1V420.3M398.50 391.5V416.8M399.50 395.5V416.8M400.50 397.5V418.5M401.50 397.5V418.5M402.50 400.4V418.5M403.50 395.0V415.6M404.50 395.0V427.0M405.50 388.9V427.0M406.50 388.9V423.5M407.50 400.2V418.7M408.50 390.6V420.1M409.50 383.7V420.1M410.50 383.7V417.2M411.50 385.5V426.9M412.50 385.5V426.9M413.50 391.4V423.3M414.50 396.4V423.3M415.50 396.4V422.3M416.50 391.4V427.3M417.50 391.4V427.3M418.50 391.5V424.9M419.50 391.5V424.9M420.50 384.3V416.6M421.50 384.3V421.0M422.50 397.9V421.0M423.50 394.2V421.0M424.50 393.8V421.7M425.50 392.6V421.7M426.50 392.6V417.9M427.50 399.4V417.9M428.50 384.8V421.5M429.50 384.8V421.5M430.50 384.8V422.3M431.50 396.7V422.3M432.50 396.7V418.1M433.50 392.3V418.1M434.50 392.3V428.3M435.50 394.1V428.3M436.50 394.1V419.0M437.50 393.2V422.4M438.50 393.2V422.4M439.50 393.6V416.1M440.50 393.6V418.4M441.50 391.0V421.6M442.50 391.0V421.6M443.50 394.4V425.1M444.50 404.2V425.1M445.50 404.2V424.5M446.50 394.2V420.5M447.50 394.2V434.9M448.50 397.7V434.9M449.50 399.1V427.6M450.50 407.4V435.4M451.50 408.4V435.4M452.50 408.4V422.8M453.50 396.0V433.6M454.50 396.0V433.6M455.50 397.1V426.5M456.50 388.2V423.2M457.50 388.2V423.2M458.50 399.2V420.8M459.50 398.7V420.8M460.50 386.1V420.7M461.50 386.1V416.9M462.50 393.1V419.3M463.50 393.1V419.3M464.50 384.4V419.3M465.50 384.4V422.9M466.50 394.1V422.9M467.50 394.1V427.5M468.50 400.2V427.5M469.50 394.9V425.4M470.50 394.9V418.5M471.50 386.8V418.5M472.50 386.8V425.8M473.50 393.0V426.4M474.50 395.4V426.4M475.50 394.0V418.2M476.50 394.0V421.7M477.50 390.1V421.7M478.50 390.1V417.9M479.50 390.8V417.9M480.50 390.9V416.0M481.50 390.9V417.8M482.50 385.3V419.6M483.50 385.3V423.3M484.50 385.3V423.3M485.50 393.5V419.9M486.50 393.5V419.9M487.50 395.2V419.9M488.50 395.2V427.2M489.50 397.9V427.2M490.50 396.9V417.0M491.50 391.2V417.0M492.50 384.1V416.5M493.50 384.1V420.0M494.50 384.1V420.0M495.50 384.1V416.3M496.50 391.3V421.2M497.50 391.3V421.2M498.50 385.1V421.2M499.50 385.1V419.2M500.50 390.2V419.2M501.50 390.2V418.1M502.50 395.5V420.5M503.50 389.4V427.2M504.50 387.8V427.2M505.50 387.8V418.0M506.50 388.5V418.0M507.50 400.9V417.7M508.50 392.8V417.7M509.50 392.4V417.7M510.50 392.4V420.4M511.50 392.4V420.4M512.50 398.4V425.9M513.50 395.0V425.9M514.50 384.6V425.9M515.50 384.6V425.7M516.50 397.2V425.7M517.50 383.8V414.2M518.50 383.8V416.1M519.50 399.3V418.5M520.50 387.8V427.0M521.50 387.8V427.0M522.50 389.2V415.5M523.50 390.9V422.0M524.50 390.9V422.0M525.50 389.1V414.4M526.50 389.1V414.5M527.50 385.2V418.0M528.50 385.2V422.8M529.50 392.6V422.8M530.50 392.6V426.9M531.50 383.7V426.9M532.50 383.7V416.5M533.50 383.7V418.9M534.50 383.7V418.9M535.50 393.5V422.5M536.50 393.5V422.5M537.50 397.1V426.8M538.50 394.8V426.8M539.50 394.8V426.8M540.50 398.8V426.8M541.50 396.1V418.6M542.50 394.5V426.8M543.50 394.5V426.8M544.50 395.8V416.5M545.50 388.8V420.7M546.50 388.8V420.7M547.50 399.4V416.3M548.50 397.7V419.8M549.50 395.1V419.8M550.50 395.1V421.9M551.50 399.1V421.9M552.50 391.6V416.3M553.50 391.6V417.6M554.50 391.3V426.7M555.50 390.6V426.7M556.50 389.5V426.7M557.50 384.3V413.9M558.50 384.0V416.4M559.50 384.0V416.4M560.50 389.0V416.3M561.50 393.7V421.6M562.50 393.7V426.6M563.50 393.1V426.6M564.50 393.1V426.2M565.50 390.1V417.5M566.50 388.2V416.9M567.50 383.3V419.8M568.50 383.3V419.8M569.50 396.0V414.9M570.50 396.0V416.8M571.50 395.7V422.0M572.50 392.9V422.0M573.50 392.9V422.0M574.50 387.6V421.0M575.50 387.6V421.0M576.50 390.7V424.3M577.50 392.2V424.3M578.50 391.8V419.6M579.50 391.5V421.0M580.50 391.5V421.0M581.50 392.8V416.2M582.50 392.8V416.2M583.50 392.8V416.6M584.50 384.9V419.0M585.50 384.9V419.0M586.50 384.9V416.2M587.50 391.3V416.2M588.50 397.4V416.2M589.50 395.1V422.0M590.50 392.0V422.0M591.50 392.0V416.5M592.50 393.0V426.2M593.50 394.1V426.2M594.50 393.9V425.6M595.50 389.1V425.6M596.50 389.1V408.3M597.50 390.1V411.7M598.50 390.1V411.7M599.50 391.8V414.8M600.50 391.8V414.8M601.50 395.1V414.8M602.50 395.1V418.3M603.50 392.7V418.3M604.50 392.7V410.7M605.50 394.2V419.5M606.50 395.8V425.0M607.50 394.8V425.0M608.50 388.3V415.9M609.50 388.3V418.1M610.50 388.7V422.1M611.50 389.8V422.1M612.50 389.8V422.2M613.50 397.1V422.2M614.50 391.6V422.2M615.50 391.6V412.2M616.50 395.4V426.1M617.50 384.6V426.1M618.50 384.6V426.1M619.50 390.4V406.2M620.50 393.1V410.3M621.50 392.7V410.3M622.50 384.8V417.1M623.50 384.8V417.1M624.50 391.5V417.1M625.50 391.5V420.7M626.50 391.1V421.6M627.50 389.7V421.6M628.50 389.7V424.8M629.50 379.1V424.8M630.50 379.1V412.8M631.50 379.1V424.2M632.50 394.7V424.2M633.50 395.4V423.0M634.50 395.4V423.0M635.50 396.3V423.0M636.50 388.4V420.1M637.50 388.4V411.8M638.50 385.4V421.1M639.50 385.4V421.1M640.50 382.8V418.5M641.50 382.8V410.0M642.50 389.5V413.4M643.50 382.8V416.2M644.50 382.8V422.2M645.50 397.1V422.2M646.50 395.5V418.7M647.50 395.5V418.7M648.50 397.7V418.0M649.50 382.7V418.0M650.50 382.7V417.1M651.50 386.8V417.1M652.50 386.8V411.7M653.50 388.4V413.5M654.50 388.4V414.8M655.50 388.4V414.8M656.50 391.0V413.6M657.50 393.9V422.1M658.50 393.4V422.1M659.50 384.7V416.9M660.50 384.7V416.9M661.50 387.0V416.9M662.50 387.0V423.4M663.50 393.0V423.4M664.50 390.9V413.4M665.50 390.9V413.4M666.50 393.7V421.8M667.50 393.5V421.8M668.50 386.8V421.8M669.50 382.6V415.8M670.50 382.6V415.8M671.50 393.1V415.3M672.50 387.4V413.1M673.50 387.4V422.3M674.50 392.9V422.3M675.50 395.4V417.3M676.50 387.6V418.7M677.50 387.6V418.7M678.50 391.6V418.7M679.50 389.0V415.5M680.50 389.0V415.5M681.50 391.4V414.4M682.50 390.5V411.9M683.50 388.7V413.2M684.50 387.8V413.2M685.50 387.8V425.7M686.50 387.8V425.7M687.50 384.6V414.7M688.50 384.6V416.2M689.50 395.6V421.2M690.50 395.6V421.2M691.50 395.6V420.2M692.50 396.8V420.5M693.50 396.8V420.5M694.50 391.4V419.7M695.50 382.4V419.1M696.50 382.4V419.1M697.50 386.1V407.2M698.50 385.1V424.3M699.50 385.1V424.3M700.50 393.5V424.3M701.50 393.5V423.0M702.50 397.9V428.3M703.50 399.3V428.3M704.50 406.9V427.2M705.50 402.3V427.3M706.50 398.1V427.3M707.50 398.1V424.5M708.50 403.4V428.1M709.50 403.0V428.1M710.50 403.0V424.5M711.50 393.4V427.8M712.50 393.4V427.8M713.50 400.5V429.3M714.50 403.9V429.3M715.50 403.9V424.3M716.50 396.3V423.6M717.50 396.3V424.5M718.50 396.3V424.5M719.50 405.3V421.9M720.50 405.3V436.6M721.50 408.1V436.6M722.50 410.7V434.1M723.50 399.2V429.9M724.50 396.9V429.9M725.50 396.9V422.5M726.50 401.9V418.4M727.50 399.2V423.9M728.50 399.2V423.9M729.50 398.9V428.1M730.50 398.9V428.8M731.50 404.4V428.8M732.50 405.5V425.9M733.50 396.9V425.9M734.50 396.9V433.3M735.50 393.4V433.3M736.50 393.4V420.8M737.50 403.4V427.7M738.50 403.4V427.7M739.50 403.4V430.3M740.50 407.2V430.3M741.50 404.9V430.3M742.50 398.1V427.9M743.50 397.8V424.3M744.50 397.8V424.1M745.50 397.8V424.5M746.50 393.6V424.5M747.50 392.3V424.5M748.50 392.3V421.4M749.50 392.3V421.4M750.50 395.8V419.4M751.50 398.1V424.3M752.50 395.9V424.3M753.50 395.0V413.8M754.50 395.0V417.0M755.50 396.6V421.1M756.50 394.9V421.1M757.50 394.9V415.6M758.50 396.5V418.0M759.50 396.6V420.9M760.50 398.8V420.9M761.50 397.9V420.9M762.50 397.9V437.9M763.50 386.8V437.9M764.50 386.8V437.9M765.50 386.9V419.1M766.50 386.9V423.9M767.50 395.4V423.9M768.50 395.4V423.2M769.50 395.4V416.9M770.50 393.0V420.8M771.50 393.0V423.3M772.50 390.2V423.3M773.50 390.2V423.1M774.50 399.7V426.4M775.50 393.1V426.4M776.50 393.1V424.3M777.50 393.1V416.4M778.50 395.3V420.0M779.50 395.3V427.2M780.50 396.9V430.2M781.50 395.8V430.2M782.50 395.8V417.1M783.50 402.3V428.0M784.50 398.8V428.0M785.50 398.8V420.7M786.50 401.4V419.2M787.50 401.4V430.2M788.50 395.8V430.2M789.50 395.8V430.2M790.50 387.0V417.5M791.50 387.0V428.9M792.50 387.0V428.9M793.50 395.7V426.2M794.50 396.9V426.2M795.50 390.8V419.4M796.50 390.8V426.5M797.50 393.2V426.5M798.50 394.6V423.7M799.50 389.1V423.7M800.50 389.1V416.9M801.50 393.2V417.3M802.50 394.6V422.1M803.50 403.2V422.1M804.50 393.5V428.2M805.50 393.5V428.2M806.50 394.2V423.8M807.50 397.7V423.8M808.50 395.4V418.8M809.50 395.4V419.4M810.50 395.4V419.4M811.50 399.0V418.1M812.50 387.0V418.1M813.50 387.0V415.1M814.50 387.0V416.2M815.50 387.0V420.2M816.50 399.0V421.6M817.50 400.9V429.7M818.50 394.9V429.7M819.50 394.0V427.9M820.50 394.0V427.9M821.50 395.9V416.7M822.50 395.5V416.2M823.50 395.5V420.3M824.50 396.6V422.4M825.50 398.1V422.5M826.50 389.2V422.5M827.50 389.2V420.8M828.50 389.9V423.4M829.50 395.7V423.4M830.50 395.7V424.2M831.50 398.9V424.2M832.50 397.5V423.6M833.50 391.5V418.9M834.50 391.5V419.5M835.50 401.1V424.5M836.50 393.3V424.5M837.50 393.3V415.2M838.50 395.7V425.6M839.50 394.5V430.2M840.50 394.3V430.2M841.50 394.3V421.7M842.50 391.3V416.0M843.50 391.3V419.8M844.50 390.5V419.8M845.50 390.5V421.5M846.50 402.5V425.1M847.50 402.3V425.1M848.50 391.1V423.2M849.50 391.1V423.2M850.50 399.1V422.2M851.50 399.1V422.2M852.50 402.8V420.6M853.50 390.1V415.8M854.50 390.1V416.7M855.50 392.3V418.8M856.50 392.3V430.2M857.50 396.1V430.2M858.50 396.1V425.6M859.50 394.4V415.9M860.50 394.4V426.4M861.50 394.4V426.4M862.50 397.7V415.5M863.50 388.7V415.5M864.50 388.7V414.4M865.50 397.6V414.4M866.50 397.6V474.9M867.50 399.7V474.9M868.50 399.6V422.8M869.50 395.1V419.5M870.50 393.0V419.5M871.50 393.0V416.7M872.50 395.3V418.4M873.50 395.3V418.4M874.50 394.3V417.4M875.50 394.3V417.1M876.50 386.8V419.9M877.50 386.8V421.7M878.50 395.0V428.0M879.50 393.1V428.0M880.50 387.7V428.0M881.50 387.7V421.9M882.50 387.7V425.8M883.50 393.1V425.8M884.50 387.2V435.9M885.50 387.2V435.9M886.50 386.7V435.9M887.50 386.7V415.2M888.50 396.0V421.0M889.50 395.8V421.0M890.50 393.1V420.0M891.50 390.5V420.0M892.50 390.5V433.9M893.50 390.5V433.9M894.50 392.5V433.9M895.50 383.0V420.9M896.50 383.0V421.5M897.50 393.4V425.2M898.50 387.8V425.2M899.50 387.8V425.2M900.50 390.2V424.6M901.50 390.2V411.5M902.50 390.2V425.6M903.50 385.1V425.6M904.50 385.1V414.5M905.50 392.1V411.9M906.50 392.5V423.8M907.50 385.4V423.8M908.50 385.4V416.3M909.50 397.0V416.3M910.50 395.3V421.0M911.50 393.2V421.0M912.50 382.4V421.0M913.50 382.4V420.2M914.50 391.9V420.2M915.50 391.9V414.0M916.50 382.8V414.0M917.50 382.8V416.1M918.50 382.8V416.1M919.50 386.9V414.3M920.50 386.9V414.3M921.50 390.1V418.6M922.50 400.0V418.6M923.50 393.3V420.3M924.50 393.3V420.3M925.50 394.2V416.4M926.50 391.1V411.5M927.50 391.1V417.2M928.50 393.0V417.2M929.50 389.9V411.6M930.50 389.9V415.2M931.50 388.8V415.2M932.50 388.7V415.2M933.50 388.7V420.6M934.50 389.6V420.6M935.50 389.6V415.3M936.50 396.0V415.3M937.50 395.0V413.9M938.50 395.0V417.4M939.50 398.8V417.4M940.50 393.7V425.6M941.50 393.7V425.6M942.50 394.3V417.0M943.50 388.0V417.0M944.50 388.0V418.5M945.50 394.4V425.6M946.50 387.5V425.6M947.50 387.5V424.1M948.50 396.3V414.4M949.50 396.7V414.4M950.50 394.3V417.9M951.50 387.9V425.6M952.50 387.9V425.6M953.50 392.3V416.7M954.50 390.7V416.2M955.50 390.7V415.4M956.50 390.1V418.8M957.50 382.4V418.8M958.50 382.4V425.6M959.50 393.2V425.6M960.50 393.2V425.6M961.50 392.6V418.6M962.50 391.0V422.1M963.50 391.0V422.1M964.50 394.2V421.0M965.50 398.6V421.0M966.50 402.0V425.6M967.50 394.2V425.6M968.50 394.2V425.4M969.50 395.9V425.4M970.50 391.8V422.3M971.50 391.8V422.3M972.50 392.6V422.3M973.50 392.7V414.7M974.50 393.7V425.6M975.50 399.5V425.6M976.50 399.2V425.6M977.50 383.7V420.2M978.50 383.7V420.2M979.50 386.6V414.4M980.50 386.6V414.4M981.50 384.7V425.6M982.50 384.7V425.6M983.50 389.6V416.2M984.50 389.6V424.1M985.50 389.9V424.1M986.50 386.0V420.6M987.50 386.0V417.2M988.50 386.0V419.2M989.50 387.3V419.2M990.50 387.3V410.7M991.50 388.3V425.6M992.50 385.6V425.6M993.50 385.6V423.0M994.50 395.1V423.0M995.50 394.0V419.9M996.50 394.0V419.9M997.50 382.4V417.0M998.50 382.4V413.6M999.50 382.4V412.7M1000.50 386.8V425.6M1001.50 386.8V425.6M1002.50 388.2V415.0M1003.50 388.2V418.8M1004.50 387.8V419.3M1005.50 387.4V423.9M1006.50 382.4V423.9M1007.50 382.4V422.0M1008.50 394.8V422.0M1009.50 400.2V425.2M1010.50 397.6V425.6M1011.50 390.5V425.6M1012.50 390.5V415.9M1013.50 391.2V415.9M1014.50 391.2V415.9M1015.50 393.5V415.4M1016.50 387.7V415.4M1017.50 387.7V422.1M1018.50 382.4V423.7M1019.50 382.4V423.7M1020.50 393.4V413.1M1021.50 390.0V425.6M1022.50 389.1V425.6M1023.50 389.1V416.3M1024.50 388.4V418.5M1025.50 388.4V418.7M1026.50 392.2V418.7M1027.50 398.0V425.6M1028.50 393.6V425.6M1029.50 393.6V411.1M1030.50 402.1V439.9M1031.50 395.2V439.9M1032.50 393.8V416.3M1033.50 393.8V422.6M1034.50 382.4V422.6M1035.50 382.4V413.8M1036.50 396.1V425.5M1037.50 389.6V425.5M1038.50 389.6V425.5M1039.50 389.6V412.5M1040.50 394.0V415.0M1041.50 389.3V415.0M1042.50 384.7V411.7M1043.50 384.7V413.9M1044.50 394.8V424.1M1045.50 383.5V424.1M1046.50 383.5V423.0M1047.50 394.2V423.0M1048.50 394.2V414.5M1049.50 395.0V414.5M1050.50 384.2V413.7M1051.50 384.2V414.9M1052.50 385.0V414.9M1053.50 385.0V414.9M1054.50 386.9V414.9M1055.50 386.9V410.5M1056.50 391.3V415.7M1057.50 392.2V415.7M1058.50 394.7V416.9M1059.50 390.9V416.9M1060.50 389.2V417.6M1061.50 389.2V417.6M1062.50 389.9V413.8M1063.50 392.2V415.0M1064.50 394.4V415.0M1065.50 384.7V414.3M1066.50 384.7V414.3M1067.50 388.9V420.8M1068.50 395.2V421.1M1069.50 387.2V421.1M1070.50 387.2V424.8M1071.50 389.8V424.8M1072.50 394.4V424.8M1073.50 392.7V415.8M1074.50 382.4V412.3M1075.50 382.4V412.7M1076.50 387.5V412.7M1077.50 387.5V411.5M1078.50 391.3V413.2M1079.50 391.3V417.4M1080.50 391.1V417.4M1081.50 391.1V417.4M1082.50 386.3V416.6M1083.50 386.3V425.3M1084.50 388.2V425.3M1085.50 382.4V419.7M1086.50 382.4V419.7M1087.50 382.4V420.6M1088.50 382.4V420.6M1089.50 387.8V416.1M1090.50 389.4V425.3M1091.50 389.4V425.3M1092.50 388.8V413.8M1093.50 388.0V424.2M1094.50 388.0V424.2M1095.50 397.1V421.6M1096.50 395.1V415.2M1097.50 389.6V413.2M1098.50 389.6V414.0M1099.50 389.6V416.3M1100.50 393.0V419.0M1101.50 393.0V419.0M1102.50 390.2V418.2M1103.50 390.2V418.2M1104.50 389.7V415.8M1105.50 389.7V413.8M1106.50 392.7V416.5M1107.50 392.7V416.5M1108.50 392.2V412.9M1109.50 392.2V412.2M1110.50 394.8V412.2M1111.50 382.4V411.8M1112.50 382.4V407.0M1113.50 395.5V424.9M1114.50 389.8V424.9M1115.50 389.0V420.9M1116.50 389.0V420.9M1117.50 390.2V417.4M1118.50 392.5V416.2M1119.50 389.6V419.1M1120.50 389.6V419.1M1121.50 394.5V419.9M1122.50 382.4V419.9M1123.50 382.4V416.5" stroke="#1f77b4" stroke-width="1.0" fill="none" shape-rendering="crispEdges"/>
<path d="M90.50 521.0V561.7M91.50 519.4V561.7M92.50 511.3V563.9M93.50 511.3V580.9M94.50 515.6V580.9M95.50 515.6V550.7M96.50 515.6V564.5M97.50 511.0V564.5M98.50 511.0V552.9M99.50 511.0V570.5M100.50 516.2V570.5M101.50 511.7V570.5M102.50 511.7V556.3M103.50 521.4V556.3M104.50 513.5V550.5M105.50 513.5V555.5M106.50 507.5V555.5M107.50 507.5V553.4M108.50 527.9V568.0M109.50 515.9V568.0M110.50 515.9V557.9M111.50 514.7V575.2M112.50 514.7V575.2M113.50 520.1V562.0M114.50 508.5V548.4M115.50 508.5V553.9M116.50 521.9V557.2M117.50 517.7V557.2M118.50 517.7V554.5M119.50 504.8V568.2M120.50 504.8V568.2M121.50 506.7V568.2M122.50 528.4V556.8M123.50 514.5V560.4M124.50 514.5V560.4M125.50 521.9V557.5M126.50 527.4V564.8M127.50 525.4V564.8M128.50 519.3V566.0M129.50 505.5V566.0M130.50 505.5V553.4M131.50 505.5V558.6M132.50 511.0V567.4M133.50 519.2V567.4M134.50 512.8V564.3M135.50 512.8V575.2M136.50 520.7V575.2M137.50 518.3V575.2M138.50 518.3V568.9M139.50 520.0V568.9M140.50 511.7V562.0M141.50 511.7V568.8M142.50 507.8V568.8M143.50 507.8V557.6M144.50 504.8V557.6M145.50 504.8V556.6M146.50 507.3V556.6M147.50 507.3V560.4M148.50 504.0V560.4M149.50 504.0V562.1M150.50 501.8V562.1M151.50 501.8V562.1M152.50 518.8V553.3M153.50 515.7V550.9M154.50 515.7V560.4M155.50 511.8V560.4M156.50 511.8V564.9M157.50 520.9V571.5M158.50 519.6V571.5M159.50 519.6V562.2M160.50 520.3V562.2M161.50 520.7V552.7M162.50 520.7V559.5M163.50 520.2V571.0M164.50 506.9V571.0M165.50 506.9V550.3M166.50 515.2V553.0M167.50 520.1V553.0M168.50 520.1V550.0M169.50 522.2V565.6M170.50 529.3V565.6M171.50 523.1V562.1M172.50 512.3V558.7M173.50 512.3V558.7M174.50 529.3V564.2M175.50 532.1V564.2M176.50 512.2V569.0M177.50 512.2V569.0M178.50 522.9V569.0M179.50 516.5V566.3M180.50 505.4V566.3M181.50 505.4V575.2M182.50 525.9V575.2M183.50 505.9V568.0M184.50 505.9V560.2M185.50 520.1V560.0M186.50 519.6V560.0M187.50 519.6V560.0M188.50 515.1V545.5M189.50 515.1V559.5M190.50 515.3V559.5M191.50 515.3V556.0M192.50 517.2V567.0M193.50 517.2V567.0M194.50 510.9V558.3M195.50 502.7V565.5M196.50 502.7V565.5M197.50 524.9V575.2M198.50 509.7V575.2M199.50 509.7V562.5M200.50 517.1V562.5M201.50 516.5V558.5M202.50 515.3V564.2M203.50 510.8V564.2M204.50 510.8V549.3M205.50 528.2V556.3M206.50 515.4V556.3M207.50 515.4V567.2M208.50 524.6V567.2M209.50 520.4V571.9M210.50 520.4V571.9M211.50 528.1V570.0M212.50 515.1V574.5M213.50 515.1V574.5M214.50 515.1V566.7M215.50 515.3V571.6M216.50 515.1V571.6M217.50 515.1V558.4M218.50 516.1V565.4M219.50 516.3V565.4M220.50 515.0V551.8M221.50 515.0V549.7M222.50 515.0V552.5M223.50 525.6V552.5M224.50 514.8V566.8M225.50 514.8V566.8M226.50 514.8V566.8M227.50 509.1V547.4M228.50 509.1V555.1M229.50 509.1V565.8M230.50 505.9V565.8M231.50 505.9V553.2M232.50 515.1V553.2M233.50 507.4V563.7M234.50 507.4V563.7M235.50 525.5V572.0M236.50 516.5V572.0M237.50 516.5V572.8M238.50 516.5V572.8M239.50 517.0V559.5M240.50 517.0V559.5M241.50 518.2V561.8M242.50 517.7V563.6M243.50 517.7V563.6M244.50 530.5V569.2M245.50 510.9V569.2M246.50 510.9V557.0M247.50 520.7V554.9M248.50 517.8V550.5M249.50 517.8V553.0M250.50 526.5V564.1M251.50 509.7V564.1M252.50 509.7V562.4M253.50 509.7V568.2M254.50 511.2V568.2M255.50 501.8V556.7M256.50 501.8V562.0M257.50 501.8V562.0M258.50 525.4V559.3M259.50 525.4V575.2M260.50 522.6V575.2M261.50 522.6V575.2M262.50 519.7V568.1M263.50 518.7V556.3M264.50 518.7V566.4M265.50 516.6V566.4M266.50 501.8V566.4M267.50 501.8V559.2M268.50 520.6V568.2M269.50 517.9V568.2M270.50 517.9V567.6M271.50 509.7V563.1M272.50 509.7V575.2M273.50 531.0V575.2M274.50 518.6V552.2M275.50 518.6V570.9M276.50 516.2V570.9M277.50 515.3V558.5M278.50 515.3V558.5M279.50 504.5V558.5M280.50 504.5V570.9M281.50 510.7V570.9M282.50 510.7V565.0M283.50 510.7V565.0M284.50 508.0V565.0M285.50 508.0V552.4M286.50 509.9V575.2M287.50 516.1V575.2M288.50 516.1V559.0M289.50 508.7V551.9M290.50 508.7V550.8M291.50 522.3V569.9M292.50 528.2V569.9M293.50 507.8V569.3M294.50 507.8V569.3M295.50 513.8V565.8M296.50 529.0V565.8M297.50 516.9V561.4M298.50 516.9V571.0M299.50 521.5V571.0M300.50 521.5V557.7M301.50 518.2V562.9M302.50 518.2V562.9M303.50 525.3V562.9M304.50 525.3V559.9M305.50 517.4V559.9M306.50 517.4V568.5M307.50 514.2V568.5M308.50 514.2V559.2M309.50 522.3V559.2M310.50 512.7V559.2M311.50 512.7V563.3M312.50 512.7V563.3M313.50 513.4V561.4M314.50 522.6V562.2M315.50 522.6V562.2M316.50 524.5V557.6M317.50 503.4V556.1M318.50 501.8V564.5M319.50 501.8V564.5M320.50 501.8V575.2M321.50 507.1V575.2M322.50 507.1V558.9M323.50 511.2V562.7M324.50 501.8V562.7M325.50 501.8V551.5M326.50 518.8V551.3M327.50 518.8V555.0M328.50 511.6V558.0M329.50 511.6V565.7M330.50 511.6V565.7M331.50 514.7V560.8M332.50 514.7V560.8M333.50 514.7V551.7M334.50 520.8V564.3M335.50 501.8V564.3M336.50 501.8V564.3M337.50 518.2V559.6M338.50 518.2V559.6M339.50 518.2V551.7M340.50 493.1V551.8M341.50 493.1V572.9M342.50 509.9V572.9M343.50 512.4V555.1M344.50 512.4V559.4M345.50 515.7V559.4M346.50 513.5V562.8M347.50 501.8V562.8M348.50 501.8V556.9M349.50 514.1V559.6M350.50 514.1V571.1M351.50 523.4V571.1M352.50 523.4V571.1M353.50 517.6V561.9M354.50 511.4V561.9M355.50 510.7V559.6M356.50 510.7V559.5M357.50 516.4V559.5M358.50 516.4V562.6M359.50 503.2V566.5M360.50 503.2V566.5M361.50 522.2V565.7M362.50 506.4V557.5M363.50 506.4V573.0M364.50 506.4V573.0M365.50 520.2V570.2M366.50 514.7V570.2M367.50 514.7V569.5M368.50 510.6V565.9M369.50 510.6V565.9M370.50 517.8V562.4M371.50 521.5V562.4M372.50 510.0V553.6M373.50 510.0V561.9M374.50 519.6V561.9M375.50 523.1V561.9M376.50 519.2V560.0M377.50 502.3V560.0M378.50 502.3V551.3M379.50 502.3V548.5M380.50 508.6V552.9M381.50 505.7V552.9M382.50 505.7V559.7M383.50 505.7V559.7M384.50 521.3V559.3M385.50 530.0V570.1M386.50 508.3V570.1M387.50 508.3V561.4M388.50 516.8V561.4M389.50 520.7V563.7M390.50 517.3V563.7M391.50 517.3V563.7M392.50 508.1V567.6M393.50 508.1V567.6M394.50 508.1V559.3M395.50 514.2V559.3M396.50 514.2V559.3M397.50 509.3V567.7M398.50 509.3V567.7M399.50 512.8V567.1M400.50 506.8V571.9M401.50 506.8V571.9M402.50 509.0V571.9M403.50 513.2V557.0M404.50 518.4V555.6M405.50 506.1V557.5M406.50 506.1V559.6M407.50 514.4V559.6M408.50 514.5V563.9M409.50 504.3V568.2M410.50 504.3V568.8M411.50 512.9V568.8M412.50 512.5V547.3M413.50 512.5V572.0M414.50 531.7V572.0M415.50 526.9V572.0M416.50 519.6V568.8M417.50 518.9V563.5M418.50 518.9V558.3M419.50 519.1V558.0M420.50 519.1V555.1M421.50 522.4V555.1M422.50 518.0V562.8M423.50 508.4V562.8M424.50 503.4V562.8M425.50 503.4V553.1M426.50 523.0V556.6M427.50 524.6V560.2M428.50 524.6V560.2M429.50 524.6V549.5M430.50 528.4V562.2M431.50 522.7V562.2M432.50 519.5V562.2M433.50 518.6V559.2M434.50 517.5V559.2M435.50 517.5V559.2M436.50 522.4V572.8M437.50 522.4V572.8M438.50 522.4V547.9M439.50 514.5V558.0M440.50 514.5V558.0M441.50 524.5V551.9M442.50 524.0V561.4M443.50 518.1V561.4M444.50 518.1V554.8M445.50 505.1V559.5M446.50 505.1V566.5M447.50 519.7V569.6M448.50 506.8V569.6M449.50 506.8V548.7M450.50 527.9V560.0M451.50 532.9V560.0M452.50 534.3V556.0M453.50 523.0V550.6M454.50 520.4V556.0M455.50 517.0V561.9M456.50 515.3V570.4M457.50 515.3V570.4M458.50 521.6V570.4M459.50 521.6V568.7M460.50 526.9V568.7M461.50 526.9V564.0M462.50 520.6V564.0M463.50 520.6V551.1M464.50 523.3V570.8M465.50 523.2V570.8M466.50 522.1V570.8M467.50 522.1V570.2M468.50 503.4V570.2M469.50 503.4V557.5M470.50 503.4V550.6M471.50 521.3V558.8M472.50 521.7V565.9M473.50 521.8V566.7M474.50 518.3V566.7M475.50 518.3V560.6M476.50 517.0V560.6M477.50 512.8V560.6M478.50 512.8V560.6M479.50 512.8V559.6M480.50 525.5V559.6M481.50 506.7V557.0M482.50 506.7V557.0M483.50 506.7V556.6M484.50 508.3V561.3M485.50 508.3V561.3M486.50 505.6V555.3M487.50 505.6V569.4M488.50 502.9V569.4M489.50 502.9V555.6M490.50 523.6V555.6M491.50 520.7V560.2M492.50 514.5V560.2M493.50 514.5V562.2M494.50 512.3V562.2M495.50 512.3V564.1M496.50 519.5V564.1M497.50 513.7V558.0M498.50 513.7V561.1M499.50 510.5V561.1M500.50 510.5V551.3M501.50 510.5V558.2M502.50 520.7V558.2M503.50 520.7V563.4M504.50 520.6V563.4M505.50 520.6V563.4M506.50 512.5V555.4M507.50 512.5V559.2M508.50 522.7V559.2M509.50 517.7V558.6M510.50 517.7V558.6M511.50 532.2V554.3M512.50 526.7V552.1M513.50 526.7V558.4M514.50 502.5V558.4M515.50 502.5V556.0M516.50 518.2V565.6M517.50 514.4V565.6M518.50 514.4V554.9M519.50 510.3V555.5M520.50 503.9V555.5M521.50 503.9V554.7M522.50 510.0V566.6M523.50 521.5V566.6M524.50 518.2V557.1M525.50 518.2V557.1M526.50 518.9V562.8M527.50 518.9V574.6M528.50 514.1V574.6M529.50 514.1V570.1M530.50 523.6V574.2M531.50 519.0V574.2M532.50 514.0V566.5M533.50 501.8V566.5M534.50 501.8V563.3M535.50 517.6V563.3M536.50 517.6V563.0M537.50 516.2V563.0M538.50 516.2V560.7M539.50 521.0V560.7M540.50 513.1V567.5M541.50 513.1V567.5M542.50 513.1V547.9M543.50 522.2V548.1M544.50 522.2V548.1M545.50 519.5V558.5M546.50 519.5V561.2M547.50 530.8V561.2M548.50 508.7V558.5M549.50 508.7V559.4M550.50 528.8V559.4M551.50 528.8V559.3M552.50 519.7V569.1M553.50 519.7V569.1M554.50 522.5V562.8M555.50 513.0V562.8M556.50 513.0V566.2M557.50 516.5V566.2M558.50 516.5V556.9M559.50 513.0V556.9M560.50 513.0V574.9M561.50 510.0V574.9M562.50 510.0V561.0M563.50 514.4V555.8M564.50 510.7V561.5M565.50 510.7V561.5M566.50 520.5V546.7M567.50 522.2V567.6M568.50 512.8V567.6M569.50 512.8V558.2M570.50 511.4V558.2M571.50 511.4V555.3M572.50 524.3V567.3M573.50 512.3V567.3M574.50 512.3V557.7M575.50 506.0V557.7M576.50 506.0V552.4M577.50 520.8V552.4M578.50 520.8V556.5M579.50 523.5V556.5M580.50 523.5V566.9M581.50 523.2V566.9M582.50 523.2V563.3M583.50 510.9V563.3M584.50 510.9V559.7M585.50 510.9V557.8M586.50 520.8V557.8M587.50 520.8V565.0M588.50 514.0V565.0M589.50 514.0V565.0M590.50 517.3V555.6M591.50 514.6V575.2M592.50 514.6V575.2M593.50 515.9V570.8M594.50 515.9V562.9M595.50 515.9V563.7M596.50 517.8V563.7M597.50 517.8V556.6M598.50 524.4V571.5M599.50 524.4V575.2M600.50 528.9V575.2M601.50 528.9V572.0M602.50 527.6V575.2M603.50 505.4V575.2M604.50 505.4V568.1M605.50 527.0V568.1M606.50 514.4V559.0M607.50 512.3V556.8M608.50 512.3V557.0M609.50 515.9V557.0M610.50 515.9V557.0M611.50 520.7V559.4M612.50 527.6V563.8M613.50 506.3V563.8M614.50 506.3V563.8M615.50 514.1V561.8M616.50 516.9V553.7M617.50 507.6V553.7M618.50 507.6V557.7M619.50 515.0V569.1M620.50 522.3V569.1M621.50 512.6V547.6M622.50 511.3V549.8M623.50 511.3V556.4M624.50 514.4V565.9M625.50 514.4V565.9M626.50 512.3V565.9M627.50 512.3V559.8M628.50 532.0V569.5M629.50 529.4V569.5M630.50 529.4V557.7M631.50 526.9V554.9M632.50 526.6V549.7M633.50 515.5V566.8M634.50 515.5V566.8M635.50 524.2V563.4M636.50 516.6V556.4M637.50 516.2V565.0M638.50 514.4V565.0M639.50 502.9V560.2M640.50 502.9V560.2M641.50 519.2V565.0M642.50 519.2V565.0M643.50 525.2V558.1M644.50 513.4V560.6M645.50 513.4V560.6M646.50 514.0V558.2M647.50 531.5V558.2M648.50 519.2V556.2M649.50 519.2V572.6M650.50 518.1V572.6M651.50 506.7V571.3M652.50 506.7V551.1M653.50 517.6V551.1M654.50 517.6V552.0M655.50 513.6V552.0M656.50 513.6V551.7M657.50 510.2V557.0M658.50 510.2V575.2M659.50 519.5V575.2M660.50 501.8V546.0M661.50 501.8V568.1M662.50 501.8V568.1M663.50 516.9V556.3M664.50 516.9V556.6M665.50 526.7V560.0M666.50 516.9V567.5M667.50 516.9V567.5M668.50 518.3V554.7M669.50 518.3V561.8M670.50 502.9V562.1M671.50 502.9V562.1M672.50 520.5V562.1M673.50 520.5V567.2M674.50 510.4V567.2M675.50 510.4V567.2M676.50 510.4V560.6M677.50 515.2V560.6M678.50 515.2V559.6M679.50 515.7V550.6M680.50 511.3V575.2M681.50 509.6V575.2M682.50 509.6V575.2M683.50 509.6V553.5M684.50 509.7V553.5M685.50 511.4V563.1M686.50 522.7V563.1M687.50 515.7V556.2M688.50 501.8V553.2M689.50 501.8V562.7M690.50 522.4V562.7M691.50 522.4V562.7M692.50 522.4V560.0M693.50 524.2V556.5M694.50 517.8V556.5M695.50 506.7V556.1M696.50 506.7V559.2M697.50 521.5V563.0M698.50 521.5V563.0M699.50 501.8V563.0M700.50 501.8V563.7M701.50 524.0V563.7M702.50 518.3V563.7M703.50 518.3V560.0M704.50 523.9V567.0M705.50 524.3V567.0M706.50 512.9V557.8M707.50 512.9V548.4M708.50 522.1V558.0M709.50 511.5V558.0M710.50 501.8V552.8M711.50 501.8V555.8M712.50 519.3V561.6M713.50 501.8V567.7M714.50 501.8V567.7M715.50 520.1V567.7M716.50 524.2V559.1M717.50 524.2V568.2M718.50 509.5V572.4M719.50 509.5V572.4M720.50 505.8V557.3M721.50 505.8V558.3M722.50 519.3V558.3M723.50 515.6V547.0M724.50 515.6V548.9M725.50 521.6V553.4M726.50 511.0V553.4M727.50 511.0V575.2M728.50 514.5V575.2M729.50 521.2V575.2M730.50 521.2V560.9M731.50 521.0V560.9M732.50 521.0V552.5M733.50 504.8V553.8M734.50 504.8V564.7M735.50 504.8V564.7M736.50 524.1V564.7M737.50 501.8V552.9M738.50 501.8V552.9M739.50 514.4V548.9M740.50 504.9V561.6M741.50 504.9V561.6M742.50 507.4V568.7M743.50 507.4V568.7M744.50 507.4V571.3M745.50 505.7V572.2M746.50 505.7V572.2M747.50 521.7V574.0M748.50 504.4V574.0M749.50 504.0V555.8M750.50 504.0V555.8M751.50 508.0V574.7M752.50 508.0V574.7M753.50 521.2V574.7M754.50 501.8V552.9M755.50 501.8V565.6M756.50 502.2V565.6M757.50 519.9V562.5M758.50 519.3V562.5M759.50 517.1V563.8M760.50 517.1V563.8M761.50 517.1V552.5M762.50 513.7V558.3M763.50 513.7V566.9M764.50 513.7V566.9M765.50 515.4V562.2M766.50 515.4V562.2M767.50 521.8V559.8M768.50 525.8V559.8M769.50 517.4V568.3M770.50 517.4V573.1M771.50 519.9V573.1M772.50 519.9V573.1M773.50 511.1V560.3M774.50 511.1V558.8M775.50 516.3V554.3M776.50 514.1V554.3M777.50 503.3V557.6M778.50 503.3V560.3M779.50 503.3V560.3M780.50 503.8V551.9M781.50 503.8V556.7M782.50 519.1V556.7M783.50 518.4V550.1M784.50 518.4V554.3M785.50 523.2V565.6M786.50 518.2V565.6M787.50 518.2V565.6M788.50 521.6V553.3M789.50 521.6V567.8M790.50 517.3V567.8M791.50 501.8V543.5M792.50 501.8V553.8M793.50 511.3V553.8M794.50 511.3V558.0M795.50 529.6V559.1M796.50 513.5V568.0M797.50 513.5V568.0M798.50 503.5V562.2M799.50 503.5V559.8M800.50 504.1V561.3M801.50 504.1V561.3M802.50 502.4V563.3M803.50 502.4V563.3M804.50 522.6V558.0M805.50 526.6V559.0M806.50 513.9V559.0M807.50 513.9V554.4M808.50 514.8V564.2M809.50 514.8V564.2M810.50 505.8V564.2M811.50 501.8V560.0M812.50 501.8V568.6M813.50 520.4V575.2M814.50 520.4V575.2M815.50 520.8V566.6M816.50 523.4V566.6M817.50 525.0V565.9M818.50 518.7V555.0M819.50 492.1V560.4M820.50 492.1V575.2M821.50 492.1V575.2M822.50 514.8V575.2M823.50 515.1V575.2M824.50 515.1V564.4M825.50 529.2V564.4M826.50 518.4V556.9M827.50 518.4V556.9M828.50 518.4V568.8M829.50 515.4V568.8M830.50 515.4V560.3M831.50 506.2V558.3M832.50 506.2V558.3M833.50 517.0V575.2M834.50 517.0V575.2M835.50 517.2V575.2M836.50 517.2V567.0M837.50 508.7V567.0M838.50 508.7V562.5M839.50 512.7V552.5M840.50 512.7V549.8M841.50 512.7V546.6M842.50 519.1V547.1M843.50 519.1V569.4M844.50 519.1V569.4M845.50 520.5V568.0M846.50 520.5V569.5M847.50 524.0V569.5M848.50 525.6V569.0M849.50 526.6V569.0M850.50 502.1V569.0M851.50 502.1V560.7M852.50 508.2V560.7M853.50 508.2V562.6M854.50 526.0V571.3M855.50 513.5V571.3M856.50 511.0V555.9M857.50 511.0V565.0M858.50 519.7V565.9M859.50 519.7V565.9M860.50 520.2V558.2M861.50 520.2V554.6M862.50 520.2V554.6M863.50 505.2V539.9M864.50 505.2V546.6M865.50 519.4V557.2M866.50 508.7V557.2M867.50 508.7V558.8M868.50 506.0V558.8M869.50 506.0V547.8M870.50 506.0V562.6M871.50 517.2V562.6M872.50 501.8V573.3M873.50 501.8V573.3M874.50 525.3V558.7M875.50 533.6V566.0M876.50 522.6V566.0M877.50 518.4V566.0M878.50 518.4V557.1M879.50 518.4V561.7M880.50 523.0V561.7M881.50 522.5V561.7M882.50 522.5V546.6M883.50 520.5V557.0M884.50 511.4V557.0M885.50 511.4V558.4M886.50 508.8V558.4M887.50 508.8V550.7M888.50 522.7V549.0M889.50 528.0V549.0M890.50 519.1V552.5M891.50 519.1V570.6M892.50 510.1V570.6M893.50 510.1V565.1M894.50 524.8V554.0M895.50 526.8V554.0M896.50 526.8V550.5M897.50 530.9V550.5M898.50 510.6V546.8M899.50 510.3V558.5M900.50 510.3V558.5M901.50 519.7V555.7M902.50 517.8V565.8M903.50 517.8V565.8M904.50 513.6V555.6M905.50 513.6V557.9M906.50 514.5V557.9M907.50 514.5V557.0M908.50 524.6V570.9M909.50 526.4V570.9M910.50 513.4V568.0M911.50 513.4V567.2M912.50 518.3V567.2M913.50 518.3V562.4M914.50 527.0V562.6M915.50 526.3V562.9M916.50 525.0V562.9M917.50 501.8V558.2M918.50 501.8V558.2M919.50 527.5V558.2M920.50 518.9V549.3M921.50 518.9V573.5M922.50 521.8V573.5M923.50 521.5V561.5M924.50 515.7V567.7M925.50 515.7V567.7M926.50 515.7V553.5M927.50 518.1V554.3M928.50 518.1V554.3M929.50 515.9V553.6M930.50 515.9V564.1M931.50 527.5V564.1M932.50 501.8V568.1M933.50 501.8V575.2M934.50 515.0V575.2M935.50 515.3V558.8M936.50 515.3V561.5M937.50 522.2V561.5M938.50 516.4V544.6M939.50 516.4V552.9M940.50 510.5V552.9M941.50 510.5V557.7M942.50 512.9V562.1M943.50 512.9V562.1M944.50 517.9V561.0M945.50 528.0V561.0M946.50 506.3V554.3M947.50 506.3V560.6M948.50 517.0V560.6M949.50 517.0V553.6M950.50 517.0V557.9M951.50 523.3V557.9M952.50 523.3V553.7M953.50 517.0V557.5M954.50 501.8V563.4M955.50 501.8V563.4M956.50 512.7V546.4M957.50 516.7V560.2M958.50 512.5V560.2M959.50 512.5V562.5M960.50 520.3V573.5M961.50 520.3V573.5M962.50 524.2V573.9M963.50 524.2V575.2M964.50 520.9V575.2M965.50 518.3V575.2M966.50 518.3V564.5M967.50 514.9V562.4M968.50 514.9V562.4M969.50 522.7V565.4M970.50 522.7V565.4M971.50 527.7V565.4M972.50 513.9V543.6M973.50 513.9V563.8M974.50 524.6V563.8M975.50 525.9V560.1M976.50 522.4V560.1M977.50 512.4V559.3M978.50 501.8V566.6M979.50 501.8V566.6M980.50 518.6V554.8M981.50 518.6V560.4M982.50 510.1V567.6M983.50 510.1V567.6M984.50 524.2V567.6M985.50 512.2V571.7M986.50 512.2V571.7M987.50 519.1V571.7M988.50 519.1V568.1M989.50 521.2V568.1M990.50 511.6V557.2M991.50 511.6V557.2M992.50 521.0V550.3M993.50 514.4V553.3M994.50 511.1V553.3M995.50 511.1V553.0M996.50 511.1V564.5M997.50 519.2V564.5M998.50 526.6V575.2M999.50 526.6V575.2M1000.50 530.1V575.2M1001.50 522.2V549.9M1002.50 518.8V569.4M1003.50 518.8V569.4M1004.50 514.7V550.9M1005.50 514.7V561.0M1006.50 517.2V561.0M1007.50 511.7V561.0M1008.50 501.8V552.2M1009.50 501.8V576.9M1010.50 520.9V576.9M1011.50 520.9V576.9M1012.50 523.5V573.4M1013.50 528.6V573.4M1014.50 520.4V572.7M1015.50 520.4V562.0M1016.50 521.0V565.5M1017.50 521.0V565.5M1018.50 501.8V564.9M1019.50 501.8V548.6M1020.50 523.5V558.8M1021.50 525.2V558.8M1022.50 505.8V558.8M1023.50 505.8V568.8M1024.50 507.5V568.8M1025.50 517.6V554.4M1026.50 517.7V555.4M1027.50 520.8V558.4M1028.50 523.8V563.1M1029.50 523.9V563.1M1030.50 519.8V553.7M1031.50 514.5V564.7M1032.50 508.8V567.3M1033.50 508.8V567.3M1034.50 508.8V553.8M1035.50 523.5V553.6M1036.50 509.8V554.7M1037.50 509.8V554.7M1038.50 509.8V550.9M1039.50 508.7V550.9M1040.50 508.7V554.8M1041.50 508.7V554.8M1042.50 523.7V565.6M1043.50 527.9V565.6M1044.50 504.3V553.1M1045.50 504.3V572.2M1046.50 515.2V572.2M1047.50 513.9V572.2M1048.50 513.9V543.5M1049.50 516.0V564.3M1050.50 518.3V575.2M1051.50 501.8V575.2M1052.50 501.8V575.2M1053.50 501.8V554.3M1054.50 510.7V553.9M1055.50 510.7V558.0M1056.50 510.7V558.0M1057.50 501.8V564.3M1058.50 501.8V566.5M1059.50 520.7V566.5M1060.50 517.2V548.0M1061.50 501.8V554.7M1062.50 501.8V554.7M1063.50 508.4V553.8M1064.50 520.4V550.4M1065.50 520.2V550.8M1066.50 518.4V556.0M1067.50 518.4V556.0M1068.50 516.5V551.1M1069.50 516.5V571.0M1070.50 523.7V571.0M1071.50 527.6V571.0M1072.50 511.3V560.1M1073.50 511.3V546.1M1074.50 511.3V555.7M1075.50 523.9V555.7M1076.50 523.9V550.4M1077.50 521.2V557.6M1078.50 521.2V568.4M1079.50 528.3V568.4M1080.50 519.1V567.7M1081.50 519.1V567.7M1082.50 518.9V553.7M1083.50 518.9V567.9M1084.50 522.6V567.9M1085.50 514.3V565.2M1086.50 503.9V553.5M1087.50 503.9V564.4M1088.50 514.0V564.4M1089.50 514.0V549.6M1090.50 517.2V551.8M1091.50 517.2V556.0M1092.50 526.9V556.8M1093.50 526.8V558.1M1094.50 518.4V558.1M1095.50 516.5V566.6M1096.50 516.5V566.6M1097.50 517.3V552.2M1098.50 517.3V554.3M1099.50 517.3V569.3M1100.50 520.6V572.7M1101.50 516.4V572.7M1102.50 516.4V550.7M1103.50 522.0V558.9M1104.50 509.0V558.9M1105.50 509.0V553.3M1106.50 509.0V555.8M1107.50 508.7V555.8M1108.50 508.7V560.7M1109.50 519.7V563.7M1110.50 519.7V563.7M1111.50 524.8V553.5M1112.50 524.2V560.1M1113.50 524.2V560.1M1114.50 525.3V566.1M1115.50 521.9V566.1M1116.50 520.7V565.3M1117.50 520.7V568.2M1118.50 514.0V568.2M1119.50 514.0V562.5M1120.50 513.0V550.8M1121.50 513.0V557.8M1122.50 513.1V559.9M1123.50 522.9V559.9" stroke="#1f77b4" stroke-width="1.0" fill="none" shape-rendering="crispEdges"/>
<line x1="206.7" y1="729" x2="89.5" y2="822" stroke="#000" stroke-width="2.6" stroke-dasharray="9,4.5"/>
<line x1="206.7" y1="729" x2="296" y2="822" stroke="#000" stroke-width="2.6" stroke-dasharray="9,4.5"/>
<line x1="982.5" y1="711.6" x2="917.5" y2="812.3" stroke="#000" stroke-width="2.6" stroke-dasharray="9,4.5"/>
<line x1="982.5" y1="711.6" x2="1123.5" y2="806.5" stroke="#000" stroke-width="2.6" stroke-dasharray="9,4.5"/>
<clipPath id="dclip3"><rect x="89.5" y="602.5" width="1034" height="300.3"/></clipPath>
<g clip-path="url(#dclip3)">
<polygon points="90.5,699.1 92.4,697.1 94.3,688.5 96.3,681.9 98.2,684.4 100.1,682.3 102.1,688.5 104.0,704.4 106.0,687.2 107.9,686.5 109.8,696.4 111.8,702.6 113.7,690.0 115.6,681.1 117.6,688.2 119.5,693.0 121.4,672.5 123.4,675.6 125.3,663.0 127.3,668.9 129.2,663.0 131.1,680.8 133.1,673.5 135.0,687.7 136.9,696.3 138.9,672.3 140.8,653.1 142.7,670.4 144.7,691.6 146.6,685.1 148.6,670.8 150.5,683.0 152.4,680.9 154.4,681.6 156.3,700.5 158.2,685.3 160.2,695.2 162.1,702.3 164.0,690.9 166.0,698.7 167.9,700.0 169.9,690.1 171.8,677.7 173.7,687.8 175.7,691.4 177.6,667.1 179.5,687.3 181.5,684.3 183.4,677.1 185.3,702.9 187.3,685.1 189.2,668.8 191.2,679.5 193.1,691.7 195.0,685.0 197.0,693.3 198.9,686.6 200.8,695.9 202.8,696.6 204.7,676.5 206.6,684.7 208.6,680.1 210.5,680.2 212.5,669.5 214.4,674.0 216.3,685.2 218.3,699.7 220.2,689.1 222.1,667.9 224.1,672.3 226.0,682.9 227.9,657.2 229.9,671.5 231.8,689.3 233.8,707.1 235.7,697.6 237.6,686.6 239.6,687.1 241.5,689.8 243.4,704.0 245.4,684.3 247.3,689.5 249.2,689.4 251.2,681.0 253.1,669.4 255.1,658.4 257.0,667.9 258.9,667.6 260.9,680.9 262.8,674.6 264.7,669.5 266.7,674.0 268.6,664.1 270.5,675.7 272.5,674.2 274.4,669.6 276.4,652.9 278.3,664.2 280.2,646.0 282.2,641.3 284.1,661.1 286.0,666.6 288.0,676.8 289.9,697.0 291.8,669.4 293.8,674.9 295.7,682.9 297.7,686.8 299.6,681.5 301.5,682.3 303.5,686.5 305.4,677.3 307.3,663.1 309.3,673.0 311.2,670.7 313.1,662.6 315.1,672.2 317.0,666.3 319.0,682.6 320.9,684.8 322.8,680.5 324.8,673.1 326.7,667.5 328.6,653.1 330.6,660.1 332.5,676.0 334.4,652.4 336.4,682.2 338.3,664.2 340.3,685.0 342.2,676.8 344.1,690.4 346.1,675.8 348.0,659.2 349.9,681.0 351.9,693.0 353.8,676.1 355.7,670.9 357.7,661.4 359.6,624.4 361.6,595.5 363.5,628.8 365.4,662.9 367.4,658.8 369.3,656.3 371.2,650.4 373.2,673.0 375.1,673.2 377.0,682.5 379.0,672.9 380.9,666.2 382.9,670.9 384.8,668.1 386.7,675.4 388.7,676.0 390.6,667.9 392.5,657.9 394.5,661.6 396.4,692.3 398.3,668.1 400.3,663.6 402.2,671.8 404.2,680.0 406.1,655.8 408.0,665.7 410.0,657.2 411.9,650.8 413.8,673.7 415.8,681.0 417.7,677.2 419.6,669.8 421.6,682.7 423.5,672.8 425.5,672.4 427.4,665.0 429.3,664.1 431.3,691.2 433.2,677.2 435.1,685.7 437.1,682.7 439.0,678.2 440.9,679.2 442.9,691.5 444.8,682.1 446.8,685.2 448.7,687.6 450.6,700.3 452.6,699.9 454.5,692.3 456.4,671.7 458.4,666.1 460.3,686.1 462.2,697.4 464.2,690.7 466.1,667.0 468.1,626.3 470.0,669.3 471.9,701.0 473.9,688.0 475.8,701.4 477.7,672.2 479.7,692.9 481.6,699.4 483.5,702.3 485.5,713.0 487.4,686.7 489.4,656.8 491.3,650.9 493.2,674.0 495.2,658.0 497.1,663.2 499.0,662.3 501.0,636.5 502.9,633.2 504.8,656.5 506.8,667.8 508.7,667.4 510.7,664.2 512.6,650.4 514.5,643.8 516.5,656.7 518.4,649.8 520.3,646.1 522.3,665.3 524.2,673.1 526.1,675.2 528.1,663.8 530.0,666.5 532.0,665.8 533.9,670.4 535.8,681.6 537.8,673.3 539.7,684.3 541.6,693.9 543.6,690.7 545.5,663.1 547.4,682.3 549.4,685.5 551.3,670.4 553.3,662.4 555.2,669.2 557.1,688.3 559.1,682.0 561.0,681.1 562.9,676.4 564.9,693.7 566.8,661.8 568.7,643.6 570.7,657.5 572.6,634.1 574.6,624.5 576.5,651.4 578.4,691.6 580.4,679.5 582.3,668.1 584.2,669.6 586.2,692.1 588.1,693.9 590.0,696.4 592.0,698.4 593.9,698.4 595.9,706.6 597.8,705.5 599.7,688.2 601.7,678.3 603.6,694.1 605.5,681.9 607.5,693.2 609.4,671.0 611.3,681.3 613.3,680.9 615.2,669.9 617.1,695.5 619.1,702.1 621.0,684.9 623.0,696.0 624.9,675.9 626.8,647.0 628.8,672.9 630.7,657.0 632.6,624.0 634.6,646.9 636.5,684.4 638.4,695.8 640.4,710.9 642.3,705.1 644.3,702.3 646.2,714.0 648.1,694.7 650.1,686.2 652.0,670.7 653.9,702.2 655.9,717.0 657.8,711.1 659.7,699.7 661.7,699.2 663.6,693.5 665.6,688.6 667.5,685.8 669.4,690.1 671.4,703.6 673.3,694.0 675.2,685.6 677.2,680.9 679.1,679.9 681.0,702.7 683.0,699.1 684.9,690.4 686.9,679.4 688.8,673.3 690.7,685.2 692.7,698.8 694.6,685.6 696.5,687.6 698.5,690.4 700.4,682.9 702.3,665.5 704.3,679.7 706.2,682.1 708.2,697.3 710.1,679.0 712.0,692.5 714.0,702.0 715.9,684.5 717.8,679.3 719.8,688.3 721.7,680.7 723.6,667.3 725.6,682.6 727.5,703.3 729.5,681.8 731.4,673.2 733.3,663.8 735.3,675.4 737.2,662.7 739.1,661.3 741.1,682.6 743.0,663.2 744.9,678.8 746.9,693.1 748.8,680.6 750.8,686.7 752.7,694.3 754.6,670.6 756.6,663.2 758.5,657.7 760.4,670.9 762.4,695.0 764.3,687.6 766.2,669.8 768.2,670.2 770.1,674.6 772.1,687.5 774.0,685.8 775.9,690.9 777.9,691.8 779.8,687.2 781.7,691.5 783.7,695.1 785.6,692.0 787.5,699.4 789.5,675.5 791.4,624.0 793.4,658.5 795.3,655.3 797.2,670.6 799.2,645.3 801.1,647.5 803.0,671.2 805.0,680.8 806.9,657.3 808.8,644.9 810.8,657.7 812.7,664.3 814.7,681.1 816.6,703.2 818.5,679.0 820.5,665.8 822.4,664.9 824.3,676.9 826.3,677.4 828.2,668.6 830.1,681.7 832.1,671.5 834.0,694.0 836.0,717.5 837.9,701.4 839.8,688.3 841.8,698.6 843.7,695.9 845.6,692.1 847.6,684.3 849.5,672.9 851.4,670.0 853.4,687.2 855.3,690.7 857.3,689.6 859.2,681.9 861.1,657.1 863.1,661.2 865.0,678.6 866.9,682.4 868.9,673.1 870.8,682.9 872.7,663.9 874.7,652.6 876.6,653.0 878.6,668.8 880.5,655.4 882.4,631.7 884.4,661.5 886.3,679.9 888.2,680.8 890.2,665.5 892.1,662.7 894.0,657.1 896.0,690.9 897.9,675.8 899.9,691.9 901.8,671.8 903.7,671.0 905.7,656.0 907.6,665.5 909.5,688.3 911.5,666.2 913.4,689.4 915.3,683.4 917.3,671.7 919.2,682.6 921.2,687.3 923.1,685.3 925.0,675.9 927.0,672.3 928.9,673.1 930.8,661.3 932.8,657.5 934.7,668.7 936.6,668.9 938.6,651.0 940.5,659.4 942.5,659.3 944.4,654.1 946.3,673.1 948.3,668.1 950.2,684.2 952.1,666.3 954.1,677.6 956.0,676.2 957.9,669.9 959.9,681.9 961.8,681.3 963.8,690.2 965.7,675.5 967.6,668.0 969.6,677.4 971.5,687.3 973.4,688.8 975.4,674.5 977.3,675.7 979.2,660.7 981.2,681.7 983.1,666.9 985.1,642.0 987.0,628.6 988.9,669.0 990.9,665.3 992.8,667.4 994.7,674.1 996.7,671.8 998.6,681.6 1000.5,675.3 1002.5,673.5 1004.4,685.3 1006.4,675.2 1008.3,682.3 1010.2,665.4 1012.2,657.3 1014.1,651.3 1016.0,684.7 1018.0,679.7 1019.9,682.5 1021.8,686.4 1023.8,684.6 1025.7,687.0 1027.7,695.0 1029.6,663.7 1031.5,658.6 1033.5,666.4 1035.4,667.0 1037.3,685.1 1039.3,691.6 1041.2,670.6 1043.1,663.1 1045.1,676.7 1047.0,677.9 1049.0,643.3 1050.9,671.2 1052.8,674.1 1054.8,693.0 1056.7,673.6 1058.6,675.3 1060.6,666.7 1062.5,671.6 1064.4,699.4 1066.4,697.4 1068.3,683.6 1070.3,668.6 1072.2,660.8 1074.1,671.7 1076.1,694.4 1078.0,695.3 1079.9,685.4 1081.9,678.4 1083.8,689.0 1085.7,698.8 1087.7,713.6 1089.6,717.4 1091.6,691.1 1093.5,687.8 1095.4,697.9 1097.4,694.6 1099.3,693.2 1101.2,692.4 1103.2,685.5 1105.1,699.4 1107.0,696.7 1109.0,696.9 1110.9,688.4 1112.9,681.1 1114.8,678.9 1116.7,683.3 1118.7,685.0 1120.6,687.5 1122.5,692.4 1122.5,734.6 1120.6,738.8 1118.7,727.3 1116.7,728.8 1114.8,721.9 1112.9,728.2 1110.9,739.6 1109.0,746.2 1107.0,748.6 1105.1,753.4 1103.2,739.1 1101.2,747.1 1099.3,739.4 1097.4,739.2 1095.4,743.3 1093.5,740.0 1091.6,763.2 1089.6,777.3 1087.7,769.5 1085.7,753.1 1083.8,739.3 1081.9,729.3 1079.9,738.8 1078.0,736.7 1076.1,733.9 1074.1,736.0 1072.2,716.2 1070.3,726.4 1068.3,739.9 1066.4,757.1 1064.4,759.8 1062.5,740.1 1060.6,720.2 1058.6,733.5 1056.7,736.2 1054.8,754.1 1052.8,734.4 1050.9,744.4 1049.0,718.9 1047.0,759.5 1045.1,741.0 1043.1,719.5 1041.2,729.1 1039.3,743.3 1037.3,743.8 1035.4,722.8 1033.5,709.4 1031.5,706.7 1029.6,735.6 1027.7,761.0 1025.7,743.9 1023.8,729.8 1021.8,723.9 1019.9,729.0 1018.0,736.3 1016.0,758.7 1014.1,726.3 1012.2,708.1 1010.2,724.4 1008.3,736.2 1006.4,727.7 1004.4,742.6 1002.5,732.5 1000.5,729.5 998.6,743.1 996.7,726.0 994.7,720.7 992.8,717.6 990.9,728.5 988.9,754.1 987.0,711.1 985.1,709.1 983.1,728.3 981.2,745.4 979.2,723.6 977.3,731.8 975.4,731.9 973.4,750.4 971.5,741.2 969.6,730.0 967.6,719.3 965.7,735.2 963.8,738.9 961.8,733.5 959.9,738.2 957.9,724.6 956.0,722.3 954.1,728.1 952.1,725.4 950.2,747.1 948.3,726.3 946.3,731.6 944.4,716.2 942.5,706.9 940.5,716.0 938.6,709.0 936.6,736.8 934.7,727.8 932.8,711.6 930.8,715.7 928.9,722.5 927.0,720.2 925.0,729.5 923.1,734.7 921.2,729.7 919.2,724.9 917.3,730.7 915.3,749.0 913.4,751.8 911.5,732.1 909.5,747.4 907.6,739.3 905.7,715.7 903.7,732.7 901.8,735.5 899.9,753.6 897.9,744.6 896.0,765.6 894.0,731.4 892.1,711.2 890.2,722.2 888.2,735.9 886.3,728.1 884.4,732.5 882.4,703.9 880.5,721.7 878.6,727.7 876.6,712.5 874.7,707.1 872.7,731.5 870.8,739.4 868.9,725.8 866.9,728.3 865.0,729.1 863.1,722.4 861.1,721.3 859.2,747.5 857.3,744.1 855.3,738.3 853.4,752.0 851.4,730.7 849.5,724.6 847.6,734.9 845.6,739.6 843.7,745.3 841.8,750.6 839.8,745.8 837.9,759.5 836.0,754.1 834.0,755.6 832.1,735.9 830.1,735.8 828.2,724.8 826.3,728.8 824.3,727.7 822.4,718.2 820.5,723.1 818.5,746.7 816.6,766.0 814.7,747.1 812.7,723.5 810.8,712.8 808.8,700.6 806.9,723.6 805.0,733.1 803.0,738.7 801.1,719.7 799.2,712.7 797.2,731.4 795.3,715.5 793.4,729.2 791.4,718.1 789.5,766.9 787.5,754.5 785.6,741.3 783.7,739.7 781.7,735.4 779.8,733.8 777.9,739.1 775.9,737.4 774.0,732.9 772.1,735.7 770.1,729.9 768.2,718.4 766.2,728.1 764.3,747.6 762.4,755.8 760.4,739.9 758.5,713.5 756.6,716.9 754.6,740.7 752.7,757.7 750.8,741.6 748.8,736.8 746.9,747.7 744.9,745.7 743.0,725.7 741.1,745.7 739.1,724.2 737.2,714.0 735.3,730.5 733.3,721.2 731.4,724.2 729.5,744.4 727.5,764.7 725.6,753.1 723.6,729.5 721.7,733.7 719.8,735.2 717.8,730.9 715.9,745.1 714.0,764.5 712.0,755.0 710.1,740.7 708.2,752.6 706.2,736.3 704.3,732.3 702.3,724.6 700.4,737.4 698.5,735.5 696.5,733.1 694.6,741.3 692.7,750.6 690.7,740.0 688.8,724.2 686.9,732.0 684.9,738.3 683.0,750.1 681.0,758.8 679.1,740.8 677.2,724.7 675.2,734.4 673.3,749.5 671.4,757.2 669.4,743.2 667.5,731.6 665.6,733.6 663.6,739.2 661.7,744.1 659.7,758.4 657.8,760.4 655.9,766.4 653.9,771.7 652.0,744.0 650.1,740.0 648.1,755.1 646.2,772.0 644.3,758.5 642.3,755.7 640.4,760.6 638.4,748.5 636.5,736.1 634.6,729.1 632.6,697.3 630.7,737.8 628.8,739.9 626.8,715.4 624.9,744.0 623.0,750.3 621.0,745.4 619.1,765.1 617.1,768.6 615.2,739.4 613.3,736.6 611.3,734.7 609.4,735.5 607.5,756.3 605.5,741.7 603.6,743.9 601.7,732.1 599.7,746.3 597.8,749.6 595.9,752.5 593.9,746.0 592.0,737.0 590.0,738.0 588.1,748.6 586.2,754.6 584.2,735.2 582.3,718.3 580.4,737.8 578.4,750.2 576.5,730.0 574.6,688.9 572.6,701.1 570.7,710.9 568.7,704.5 566.8,736.6 564.9,743.8 562.9,735.5 561.0,728.5 559.1,733.6 557.1,739.4 555.2,728.5 553.3,711.7 551.3,729.9 549.4,735.0 547.4,744.9 545.5,734.0 543.6,768.3 541.6,751.2 539.7,737.2 537.8,728.1 535.8,733.6 533.9,721.6 532.0,712.1 530.0,714.0 528.1,716.7 526.1,728.7 524.2,727.1 522.3,726.4 520.3,705.1 518.4,703.3 516.5,709.4 514.5,698.1 512.6,705.6 510.7,714.1 508.7,711.9 506.8,718.9 504.8,717.7 502.9,698.5 501.0,709.2 499.0,732.6 497.1,725.6 495.2,717.4 493.2,732.5 491.3,712.6 489.4,727.8 487.4,757.8 485.5,762.1 483.5,754.4 481.6,746.6 479.7,748.3 477.7,741.0 475.8,763.2 473.9,748.3 471.9,753.5 470.0,751.4 468.1,708.2 466.1,742.9 464.2,742.4 462.2,755.0 460.3,753.2 458.4,730.2 456.4,732.7 454.5,737.9 452.6,747.4 450.6,751.2 448.7,740.9 446.8,728.0 444.8,733.5 442.9,738.8 440.9,730.5 439.0,726.4 437.1,732.5 435.1,734.4 433.2,737.6 431.3,750.2 429.3,731.2 427.4,717.9 425.5,728.0 423.5,729.3 421.6,734.3 419.6,724.9 417.7,727.8 415.8,733.2 413.8,737.4 411.9,714.8 410.0,719.2 408.0,721.0 406.1,723.2 404.2,750.6 402.2,743.4 400.3,717.0 398.3,731.5 396.4,751.6 394.5,732.9 392.5,709.0 390.6,718.6 388.7,718.8 386.7,722.9 384.8,719.1 382.9,713.6 380.9,713.0 379.0,726.3 377.0,736.5 375.1,726.4 373.2,740.1 371.2,716.3 369.3,703.3 367.4,704.7 365.4,713.1 363.5,705.1 361.6,666.2 359.6,702.8 357.7,713.8 355.7,716.8 353.8,733.3 351.9,749.5 349.9,751.7 348.0,725.6 346.1,741.6 344.1,751.6 342.2,740.4 340.3,753.9 338.3,728.1 336.4,749.8 334.4,724.6 332.5,738.6 330.6,725.0 328.6,708.5 326.7,726.5 324.8,722.5 322.8,726.0 320.9,733.9 319.0,738.6 317.0,722.0 315.1,729.1 313.1,715.5 311.2,725.8 309.3,722.7 307.3,720.8 305.4,736.9 303.5,739.5 301.5,727.7 299.6,728.3 297.7,736.0 295.7,731.8 293.8,721.2 291.8,741.7 289.9,768.6 288.0,747.8 286.0,718.3 284.1,716.4 282.2,703.9 280.2,708.2 278.3,727.9 276.4,711.8 274.4,727.7 272.5,724.6 270.5,736.7 268.6,722.0 266.7,724.3 264.7,717.0 262.8,731.9 260.9,737.1 258.9,723.8 257.0,722.0 255.1,715.0 253.1,724.8 251.2,732.0 249.2,736.5 247.3,727.9 245.4,747.1 243.4,764.3 241.5,747.3 239.6,731.5 237.6,740.5 235.7,752.6 233.8,754.7 231.8,744.4 229.9,729.1 227.9,721.8 226.0,743.4 224.1,733.3 222.1,731.8 220.2,754.9 218.3,749.2 216.3,737.8 214.4,726.2 212.5,722.3 210.5,735.1 208.6,731.3 206.6,736.5 204.7,739.6 202.8,757.4 200.8,749.3 198.9,738.3 197.0,743.6 195.0,736.1 193.1,741.8 191.2,735.6 189.2,724.8 187.3,755.9 185.3,767.8 183.4,747.1 181.5,746.2 179.5,751.2 177.6,734.7 175.7,763.9 173.7,750.0 171.8,727.9 169.9,740.8 167.9,744.6 166.0,738.8 164.0,745.5 162.1,760.2 160.2,748.0 158.2,744.7 156.3,762.5 154.4,745.8 152.4,728.8 150.5,730.1 148.6,728.0 146.6,743.0 144.7,741.7 142.7,734.2 140.8,713.9 138.9,739.3 136.9,743.3 135.0,744.2 133.1,730.7 131.1,732.3 129.2,721.1 127.3,715.1 125.3,717.6 123.4,731.0 121.4,733.5 119.5,749.7 117.6,745.1 115.6,730.7 113.7,742.8 111.8,745.2 109.8,747.3 107.9,737.2 106.0,746.4 104.0,763.4 102.1,751.7 100.1,727.5 98.2,730.4 96.3,727.6 94.3,737.2 92.4,744.5 90.5,739.7" fill="#a3bbe2" stroke="none" stroke-width="1" />
<polyline points="90.5,718.0 92.4,723.4 94.3,713.1 96.3,702.0 98.2,709.8 100.1,700.2 102.1,719.1 104.0,742.1 106.0,709.1 107.9,706.8 109.8,726.8 111.8,724.4 113.7,719.9 115.6,701.3 117.6,717.5 119.5,730.5 121.4,693.8 123.4,709.8 125.3,683.8 127.3,694.8 129.2,684.8 131.1,713.8 133.1,695.2 135.0,722.9 136.9,720.8 138.9,714.7 140.8,673.1 142.7,709.0 144.7,718.1 146.6,721.4 148.6,692.1 150.5,711.4 152.4,702.7 154.4,706.0 156.3,740.0 158.2,706.7 160.2,720.9 162.1,737.8 164.0,711.7 166.0,720.1 167.9,723.0 169.9,721.0 171.8,696.7 173.7,719.0 175.7,741.0 177.6,687.6 179.5,729.8 181.5,715.3 183.4,700.5 185.3,746.9 187.3,723.5 189.2,687.9 191.2,711.0 193.1,720.2 195.0,706.6 197.0,722.4 198.9,709.1 200.8,722.5 202.8,736.5 204.7,698.6 206.6,714.6 208.6,702.7 210.5,713.5 212.5,690.0 214.4,701.1 216.3,708.3 218.3,728.3 220.2,733.0 222.1,688.9 224.1,698.7 226.0,724.9 227.9,677.7 229.9,705.5 231.8,712.4 233.8,737.1 235.7,727.1 237.6,709.1 239.6,708.7 241.5,711.1 243.4,743.3 245.4,706.6 247.3,706.3 249.2,715.7 251.2,704.7 253.1,700.9 255.1,681.9 257.0,699.3 258.9,689.1 260.9,715.6 262.8,703.9 264.7,689.7 266.7,703.4 268.6,686.5 270.5,712.7 272.5,694.9 274.4,706.7 276.4,674.2 278.3,704.9 280.2,669.5 282.2,664.5 284.1,696.9 286.0,687.4 288.0,707.7 289.9,746.4 291.8,692.0 293.8,695.3 295.7,709.8 297.7,714.5 299.6,702.0 301.5,701.1 303.5,717.0 305.4,713.3 307.3,684.9 309.3,701.6 311.2,703.3 313.1,683.2 315.1,706.4 317.0,685.9 319.0,718.8 320.9,706.3 322.8,705.9 324.8,695.1 326.7,705.1 328.6,672.7 330.6,689.8 332.5,718.1 334.4,674.7 336.4,729.7 338.3,684.5 340.3,731.1 342.2,701.1 344.1,727.6 346.1,713.3 348.0,680.5 349.9,728.0 351.9,728.7 353.8,698.9 355.7,692.4 357.7,691.8 359.6,674.4 361.6,614.0 363.5,681.4 365.4,691.1 367.4,678.6 369.3,682.5 371.2,671.7 373.2,718.2 375.1,693.7 377.0,714.7 379.0,698.5 380.9,686.6 382.9,694.1 384.8,690.8 386.7,701.9 388.7,695.9 390.6,698.1 392.5,678.6 394.5,688.8 396.4,733.0 398.3,691.1 400.3,684.1 402.2,709.0 404.2,728.2 406.1,676.6 408.0,698.9 410.0,691.2 411.9,671.4 413.8,716.9 415.8,703.8 417.7,706.1 419.6,691.8 421.6,714.1 423.5,696.7 425.5,704.4 427.4,687.6 429.3,686.1 431.3,732.2 433.2,699.2 435.1,713.7 437.1,708.0 439.0,700.8 440.9,699.7 442.9,720.3 444.8,703.7 446.8,706.5 448.7,709.8 450.6,731.1 452.6,722.8 454.5,718.0 456.4,701.6 458.4,687.5 460.3,730.1 462.2,731.0 464.2,711.7 466.1,724.6 468.1,646.0 470.0,731.0 471.9,733.3 473.9,709.1 475.8,745.2 477.7,693.7 479.7,729.5 481.6,720.8 483.5,725.5 485.5,741.5 487.4,732.3 489.4,682.9 491.3,671.0 493.2,714.0 495.2,679.0 497.1,694.9 499.0,708.7 501.0,663.8 502.9,655.2 504.8,697.7 506.8,693.7 508.7,688.3 510.7,693.2 512.6,676.9 514.5,665.0 516.5,689.0 518.4,675.8 520.3,665.5 522.3,706.0 524.2,697.5 526.1,707.8 528.1,684.4 530.0,692.2 532.0,687.8 533.9,691.6 535.8,712.9 537.8,695.6 539.7,715.8 541.6,715.1 543.6,745.0 545.5,683.1 547.4,723.7 549.4,705.7 551.3,706.7 553.3,680.5 555.2,697.9 557.1,719.2 559.1,704.0 561.0,706.6 562.9,699.5 564.9,725.2 566.8,703.7 568.7,664.1 570.7,690.9 572.6,667.6 574.6,644.2 576.5,694.4 578.4,729.7 580.4,708.3 582.3,688.1 584.2,694.1 586.2,733.1 588.1,717.4 590.0,717.2 592.0,717.1 593.9,719.5 595.9,732.9 597.8,727.9 599.7,721.4 601.7,698.3 603.6,725.9 605.5,703.9 607.5,735.5 609.4,692.5 611.3,712.5 613.3,714.7 615.2,691.0 617.1,745.8 619.1,741.1 621.0,706.5 623.0,728.7 624.9,721.6 626.8,667.8 628.8,719.3 630.7,713.7 632.6,643.0 634.6,697.7 636.5,713.5 638.4,716.4 640.4,742.2 642.3,728.1 644.3,723.2 646.2,752.1 648.1,715.8 650.1,719.9 652.0,692.5 653.9,751.8 655.9,739.2 657.8,736.6 659.7,730.5 661.7,718.7 663.6,718.9 665.6,708.8 667.5,707.9 669.4,710.9 671.4,736.9 673.3,720.2 675.2,709.6 677.2,700.7 679.1,700.2 681.0,740.9 683.0,721.7 684.9,714.2 686.9,707.3 688.8,694.0 690.7,713.1 692.7,730.3 694.6,707.8 696.5,711.1 698.5,711.5 700.4,717.8 702.3,687.4 704.3,712.2 706.2,701.3 708.2,732.9 710.1,702.2 712.0,725.6 714.0,741.8 715.9,707.8 717.8,701.7 719.8,715.1 721.7,710.8 723.6,692.1 725.6,717.4 727.5,744.5 729.5,702.6 731.4,702.7 733.3,686.6 735.3,710.2 737.2,681.1 739.1,682.6 741.1,724.7 743.0,684.4 744.9,719.2 746.9,726.2 748.8,702.8 750.8,709.2 752.7,735.4 754.6,697.8 756.6,691.7 758.5,679.0 760.4,705.2 762.4,732.1 764.3,723.8 766.2,690.6 768.2,693.1 770.1,700.2 772.1,715.4 774.0,707.2 775.9,715.6 777.9,717.9 779.8,708.0 781.7,713.5 783.7,718.7 785.6,714.3 787.5,723.5 789.5,746.3 791.4,646.0 793.4,709.8 795.3,676.5 797.2,712.0 799.2,668.0 801.1,675.8 803.0,714.7 805.0,710.1 806.9,692.8 808.8,666.0 810.8,691.6 812.7,687.6 814.7,712.7 816.6,743.4 818.5,708.2 820.5,691.7 822.4,686.2 824.3,707.7 826.3,707.0 828.2,690.7 830.1,714.8 832.1,693.2 834.0,735.2 836.0,735.5 837.9,737.2 839.8,710.4 841.8,729.4 843.7,719.0 845.6,715.1 847.6,714.2 849.5,695.1 851.4,690.7 853.4,729.2 855.3,709.6 857.3,715.2 859.2,727.5 861.1,676.5 863.1,691.8 865.0,707.2 866.9,709.3 868.9,693.6 870.8,717.0 872.7,700.4 874.7,673.0 876.6,676.2 878.6,705.6 880.5,697.6 882.4,653.2 884.4,711.6 886.3,700.1 888.2,715.6 890.2,686.6 892.1,690.2 894.0,677.3 896.0,745.3 897.9,698.5 899.9,732.3 901.8,694.1 903.7,709.9 905.7,677.8 907.6,702.1 909.5,727.7 911.5,688.5 913.4,731.3 915.3,719.1 917.3,695.3 919.2,706.0 921.2,707.6 923.1,712.8 925.0,701.8 927.0,694.4 928.9,701.6 930.8,686.4 932.8,679.5 934.7,699.7 936.6,714.2 938.6,668.6 940.5,694.0 942.5,680.9 944.4,676.5 946.3,711.0 948.3,687.7 950.2,725.5 952.1,686.0 954.1,708.4 956.0,698.9 957.9,690.9 959.9,716.5 961.8,703.8 963.8,718.1 965.7,707.1 967.6,689.1 969.6,707.4 971.5,710.9 973.4,727.8 975.4,694.9 977.3,711.2 979.2,681.5 981.2,724.2 983.1,693.0 985.1,680.0 987.0,649.0 988.9,732.4 990.9,685.1 992.8,692.9 994.7,699.1 996.7,692.2 998.6,719.1 1000.5,696.9 1002.5,697.5 1004.4,720.2 1006.4,695.2 1008.3,715.8 1010.2,689.6 1012.2,684.5 1014.1,672.4 1016.0,738.1 1018.0,698.0 1019.9,708.4 1021.8,704.1 1023.8,708.2 1025.7,706.9 1027.7,741.1 1029.6,688.7 1031.5,680.0 1033.5,690.5 1035.4,685.4 1037.3,723.5 1039.3,725.3 1041.2,693.8 1043.1,686.5 1045.1,705.7 1047.0,737.6 1049.0,662.3 1050.9,723.0 1052.8,694.6 1054.8,733.2 1056.7,695.4 1058.6,709.8 1060.6,688.0 1062.5,697.6 1064.4,740.3 1066.4,730.2 1068.3,708.3 1070.3,700.0 1072.2,681.7 1074.1,708.9 1076.1,715.9 1078.0,715.8 1079.9,716.5 1081.9,698.9 1083.8,718.8 1085.7,720.1 1087.7,744.9 1089.6,756.2 1091.6,721.0 1093.5,710.5 1095.4,724.0 1097.4,715.1 1099.3,713.5 1101.2,724.5 1103.2,705.3 1105.1,733.4 1107.0,719.1 1109.0,723.9 1110.9,714.5 1112.9,703.2 1114.8,697.6 1116.7,708.9 1118.7,702.6 1120.6,716.7 1122.5,712.4" fill="none" stroke="#1f77b4" stroke-width="2.5" stroke-linejoin="round"/>
<g fill="#1f77b4">
<circle cx="90.5" cy="718.0" r="2.4"/><circle cx="92.4" cy="723.4" r="2.4"/><circle cx="94.3" cy="713.1" r="2.4"/><circle cx="96.3" cy="702.0" r="2.4"/><circle cx="98.2" cy="709.8" r="2.4"/><circle cx="100.1" cy="700.2" r="2.4"/><circle cx="102.1" cy="719.1" r="2.4"/><circle cx="104.0" cy="742.1" r="2.4"/><circle cx="106.0" cy="709.1" r="2.4"/><circle cx="107.9" cy="706.8" r="2.4"/><circle cx="109.8" cy="726.8" r="2.4"/><circle cx="111.8" cy="724.4" r="2.4"/><circle cx="113.7" cy="719.9" r="2.4"/><circle cx="115.6" cy="701.3" r="2.4"/><circle cx="117.6" cy="717.5" r="2.4"/><circle cx="119.5" cy="730.5" r="2.4"/><circle cx="121.4" cy="693.8" r="2.4"/><circle cx="123.4" cy="709.8" r="2.4"/><circle cx="125.3" cy="683.8" r="2.4"/><circle cx="127.3" cy="694.8" r="2.4"/><circle cx="129.2" cy="684.8" r="2.4"/><circle cx="131.1" cy="713.8" r="2.4"/><circle cx="133.1" cy="695.2" r="2.4"/><circle cx="135.0" cy="722.9" r="2.4"/><circle cx="136.9" cy="720.8" r="2.4"/><circle cx="138.9" cy="714.7" r="2.4"/><circle cx="140.8" cy="673.1" r="2.4"/><circle cx="142.7" cy="709.0" r="2.4"/><circle cx="144.7" cy="718.1" r="2.4"/><circle cx="146.6" cy="721.4" r="2.4"/><circle cx="148.6" cy="692.1" r="2.4"/><circle cx="150.5" cy="711.4" r="2.4"/><circle cx="152.4" cy="702.7" r="2.4"/><circle cx="154.4" cy="706.0" r="2.4"/><circle cx="156.3" cy="740.0" r="2.4"/><circle cx="158.2" cy="706.7" r="2.4"/><circle cx="160.2" cy="720.9" r="2.4"/><circle cx="162.1" cy="737.8" r="2.4"/><circle cx="164.0" cy="711.7" r="2.4"/><circle cx="166.0" cy="720.1" r="2.4"/><circle cx="167.9" cy="723.0" r="2.4"/><circle cx="169.9" cy="721.0" r="2.4"/><circle cx="171.8" cy="696.7" r="2.4"/><circle cx="173.7" cy="719.0" r="2.4"/><circle cx="175.7" cy="741.0" r="2.4"/><circle cx="177.6" cy="687.6" r="2.4"/><circle cx="179.5" cy="729.8" r="2.4"/><circle cx="181.5" cy="715.3" r="2.4"/><circle cx="183.4" cy="700.5" r="2.4"/><circle cx="185.3" cy="746.9" r="2.4"/><circle cx="187.3" cy="723.5" r="2.4"/><circle cx="189.2" cy="687.9" r="2.4"/><circle cx="191.2" cy="711.0" r="2.4"/><circle cx="193.1" cy="720.2" r="2.4"/><circle cx="195.0" cy="706.6" r="2.4"/><circle cx="197.0" cy="722.4" r="2.4"/><circle cx="198.9" cy="709.1" r="2.4"/><circle cx="200.8" cy="722.5" r="2.4"/><circle cx="202.8" cy="736.5" r="2.4"/><circle cx="204.7" cy="698.6" r="2.4"/><circle cx="206.6" cy="714.6" r="2.4"/><circle cx="208.6" cy="702.7" r="2.4"/><circle cx="210.5" cy="713.5" r="2.4"/><circle cx="212.5" cy="690.0" r="2.4"/><circle cx="214.4" cy="701.1" r="2.4"/><circle cx="216.3" cy="708.3" r="2.4"/><circle cx="218.3" cy="728.3" r="2.4"/><circle cx="220.2" cy="733.0" r="2.4"/><circle cx="222.1" cy="688.9" r="2.4"/><circle cx="224.1" cy="698.7" r="2.4"/><circle cx="226.0" cy="724.9" r="2.4"/><circle cx="227.9" cy="677.7" r="2.4"/><circle cx="229.9" cy="705.5" r="2.4"/><circle cx="231.8" cy="712.4" r="2.4"/><circle cx="233.8" cy="737.1" r="2.4"/><circle cx="235.7" cy="727.1" r="2.4"/><circle cx="237.6" cy="709.1" r="2.4"/><circle cx="239.6" cy="708.7" r="2.4"/><circle cx="241.5" cy="711.1" r="2.4"/><circle cx="243.4" cy="743.3" r="2.4"/><circle cx="245.4" cy="706.6" r="2.4"/><circle cx="247.3" cy="706.3" r="2.4"/><circle cx="249.2" cy="715.7" r="2.4"/><circle cx="251.2" cy="704.7" r="2.4"/><circle cx="253.1" cy="700.9" r="2.4"/><circle cx="255.1" cy="681.9" r="2.4"/><circle cx="257.0" cy="699.3" r="2.4"/><circle cx="258.9" cy="689.1" r="2.4"/><circle cx="260.9" cy="715.6" r="2.4"/><circle cx="262.8" cy="703.9" r="2.4"/><circle cx="264.7" cy="689.7" r="2.4"/><circle cx="266.7" cy="703.4" r="2.4"/><circle cx="268.6" cy="686.5" r="2.4"/><circle cx="270.5" cy="712.7" r="2.4"/><circle cx="272.5" cy="694.9" r="2.4"/><circle cx="274.4" cy="706.7" r="2.4"/><circle cx="276.4" cy="674.2" r="2.4"/><circle cx="278.3" cy="704.9" r="2.4"/><circle cx="280.2" cy="669.5" r="2.4"/><circle cx="282.2" cy="664.5" r="2.4"/><circle cx="284.1" cy="696.9" r="2.4"/><circle cx="286.0" cy="687.4" r="2.4"/><circle cx="288.0" cy="707.7" r="2.4"/><circle cx="289.9" cy="746.4" r="2.4"/><circle cx="291.8" cy="692.0" r="2.4"/><circle cx="293.8" cy="695.3" r="2.4"/><circle cx="295.7" cy="709.8" r="2.4"/><circle cx="297.7" cy="714.5" r="2.4"/><circle cx="299.6" cy="702.0" r="2.4"/><circle cx="301.5" cy="701.1" r="2.4"/><circle cx="303.5" cy="717.0" r="2.4"/><circle cx="305.4" cy="713.3" r="2.4"/><circle cx="307.3" cy="684.9" r="2.4"/><circle cx="309.3" cy="701.6" r="2.4"/><circle cx="311.2" cy="703.3" r="2.4"/><circle cx="313.1" cy="683.2" r="2.4"/><circle cx="315.1" cy="706.4" r="2.4"/><circle cx="317.0" cy="685.9" r="2.4"/><circle cx="319.0" cy="718.8" r="2.4"/><circle cx="320.9" cy="706.3" r="2.4"/><circle cx="322.8" cy="705.9" r="2.4"/><circle cx="324.8" cy="695.1" r="2.4"/><circle cx="326.7" cy="705.1" r="2.4"/><circle cx="328.6" cy="672.7" r="2.4"/><circle cx="330.6" cy="689.8" r="2.4"/><circle cx="332.5" cy="718.1" r="2.4"/><circle cx="334.4" cy="674.7" r="2.4"/><circle cx="336.4" cy="729.7" r="2.4"/><circle cx="338.3" cy="684.5" r="2.4"/><circle cx="340.3" cy="731.1" r="2.4"/><circle cx="342.2" cy="701.1" r="2.4"/><circle cx="344.1" cy="727.6" r="2.4"/><circle cx="346.1" cy="713.3" r="2.4"/><circle cx="348.0" cy="680.5" r="2.4"/><circle cx="349.9" cy="728.0" r="2.4"/><circle cx="351.9" cy="728.7" r="2.4"/><circle cx="353.8" cy="698.9" r="2.4"/><circle cx="355.7" cy="692.4" r="2.4"/><circle cx="357.7" cy="691.8" r="2.4"/><circle cx="359.6" cy="674.4" r="2.4"/><circle cx="361.6" cy="614.0" r="2.4"/><circle cx="363.5" cy="681.4" r="2.4"/><circle cx="365.4" cy="691.1" r="2.4"/><circle cx="367.4" cy="678.6" r="2.4"/><circle cx="369.3" cy="682.5" r="2.4"/><circle cx="371.2" cy="671.7" r="2.4"/><circle cx="373.2" cy="718.2" r="2.4"/><circle cx="375.1" cy="693.7" r="2.4"/><circle cx="377.0" cy="714.7" r="2.4"/><circle cx="379.0" cy="698.5" r="2.4"/><circle cx="380.9" cy="686.6" r="2.4"/><circle cx="382.9" cy="694.1" r="2.4"/><circle cx="384.8" cy="690.8" r="2.4"/><circle cx="386.7" cy="701.9" r="2.4"/><circle cx="388.7" cy="695.9" r="2.4"/><circle cx="390.6" cy="698.1" r="2.4"/><circle cx="392.5" cy="678.6" r="2.4"/><circle cx="394.5" cy="688.8" r="2.4"/><circle cx="396.4" cy="733.0" r="2.4"/><circle cx="398.3" cy="691.1" r="2.4"/><circle cx="400.3" cy="684.1" r="2.4"/><circle cx="402.2" cy="709.0" r="2.4"/><circle cx="404.2" cy="728.2" r="2.4"/><circle cx="406.1" cy="676.6" r="2.4"/><circle cx="408.0" cy="698.9" r="2.4"/><circle cx="410.0" cy="691.2" r="2.4"/><circle cx="411.9" cy="671.4" r="2.4"/><circle cx="413.8" cy="716.9" r="2.4"/><circle cx="415.8" cy="703.8" r="2.4"/><circle cx="417.7" cy="706.1" r="2.4"/><circle cx="419.6" cy="691.8" r="2.4"/><circle cx="421.6" cy="714.1" r="2.4"/><circle cx="423.5" cy="696.7" r="2.4"/><circle cx="425.5" cy="704.4" r="2.4"/><circle cx="427.4" cy="687.6" r="2.4"/><circle cx="429.3" cy="686.1" r="2.4"/><circle cx="431.3" cy="732.2" r="2.4"/><circle cx="433.2" cy="699.2" r="2.4"/><circle cx="435.1" cy="713.7" r="2.4"/><circle cx="437.1" cy="708.0" r="2.4"/><circle cx="439.0" cy="700.8" r="2.4"/><circle cx="440.9" cy="699.7" r="2.4"/><circle cx="442.9" cy="720.3" r="2.4"/><circle cx="444.8" cy="703.7" r="2.4"/><circle cx="446.8" cy="706.5" r="2.4"/><circle cx="448.7" cy="709.8" r="2.4"/><circle cx="450.6" cy="731.1" r="2.4"/><circle cx="452.6" cy="722.8" r="2.4"/><circle cx="454.5" cy="718.0" r="2.4"/><circle cx="456.4" cy="701.6" r="2.4"/><circle cx="458.4" cy="687.5" r="2.4"/><circle cx="460.3" cy="730.1" r="2.4"/><circle cx="462.2" cy="731.0" r="2.4"/><circle cx="464.2" cy="711.7" r="2.4"/><circle cx="466.1" cy="724.6" r="2.4"/><circle cx="468.1" cy="646.0" r="2.4"/><circle cx="470.0" cy="731.0" r="2.4"/><circle cx="471.9" cy="733.3" r="2.4"/><circle cx="473.9" cy="709.1" r="2.4"/><circle cx="475.8" cy="745.2" r="2.4"/><circle cx="477.7" cy="693.7" r="2.4"/><circle cx="479.7" cy="729.5" r="2.4"/><circle cx="481.6" cy="720.8" r="2.4"/><circle cx="483.5" cy="725.5" r="2.4"/><circle cx="485.5" cy="741.5" r="2.4"/><circle cx="487.4" cy="732.3" r="2.4"/><circle cx="489.4" cy="682.9" r="2.4"/><circle cx="491.3" cy="671.0" r="2.4"/><circle cx="493.2" cy="714.0" r="2.4"/><circle cx="495.2" cy="679.0" r="2.4"/><circle cx="497.1" cy="694.9" r="2.4"/><circle cx="499.0" cy="708.7" r="2.4"/><circle cx="501.0" cy="663.8" r="2.4"/><circle cx="502.9" cy="655.2" r="2.4"/><circle cx="504.8" cy="697.7" r="2.4"/><circle cx="506.8" cy="693.7" r="2.4"/><circle cx="508.7" cy="688.3" r="2.4"/><circle cx="510.7" cy="693.2" r="2.4"/><circle cx="512.6" cy="676.9" r="2.4"/><circle cx="514.5" cy="665.0" r="2.4"/><circle cx="516.5" cy="689.0" r="2.4"/><circle cx="518.4" cy="675.8" r="2.4"/><circle cx="520.3" cy="665.5" r="2.4"/><circle cx="522.3" cy="706.0" r="2.4"/><circle cx="524.2" cy="697.5" r="2.4"/><circle cx="526.1" cy="707.8" r="2.4"/><circle cx="528.1" cy="684.4" r="2.4"/><circle cx="530.0" cy="692.2" r="2.4"/><circle cx="532.0" cy="687.8" r="2.4"/><circle cx="533.9" cy="691.6" r="2.4"/><circle cx="535.8" cy="712.9" r="2.4"/><circle cx="537.8" cy="695.6" r="2.4"/><circle cx="539.7" cy="715.8" r="2.4"/><circle cx="541.6" cy="715.1" r="2.4"/><circle cx="543.6" cy="745.0" r="2.4"/><circle cx="545.5" cy="683.1" r="2.4"/><circle cx="547.4" cy="723.7" r="2.4"/><circle cx="549.4" cy="705.7" r="2.4"/><circle cx="551.3" cy="706.7" r="2.4"/><circle cx="553.3" cy="680.5" r="2.4"/><circle cx="555.2" cy="697.9" r="2.4"/><circle cx="557.1" cy="719.2" r="2.4"/><circle cx="559.1" cy="704.0" r="2.4"/><circle cx="561.0" cy="706.6" r="2.4"/><circle cx="562.9" cy="699.5" r="2.4"/><circle cx="564.9" cy="725.2" r="2.4"/><circle cx="566.8" cy="703.7" r="2.4"/><circle cx="568.7" cy="664.1" r="2.4"/><circle cx="570.7" cy="690.9" r="2.4"/><circle cx="572.6" cy="667.6" r="2.4"/><circle cx="574.6" cy="644.2" r="2.4"/><circle cx="576.5" cy="694.4" r="2.4"/><circle cx="578.4" cy="729.7" r="2.4"/><circle cx="580.4" cy="708.3" r="2.4"/><circle cx="582.3" cy="688.1" r="2.4"/><circle cx="584.2" cy="694.1" r="2.4"/><circle cx="586.2" cy="733.1" r="2.4"/><circle cx="588.1" cy="717.4" r="2.4"/><circle cx="590.0" cy="717.2" r="2.4"/><circle cx="592.0" cy="717.1" r="2.4"/><circle cx="593.9" cy="719.5" r="2.4"/><circle cx="595.9" cy="732.9" r="2.4"/><circle cx="597.8" cy="727.9" r="2.4"/><circle cx="599.7" cy="721.4" r="2.4"/><circle cx="601.7" cy="698.3" r="2.4"/><circle cx="603.6" cy="725.9" r="2.4"/><circle cx="605.5" cy="703.9" r="2.4"/><circle cx="607.5" cy="735.5" r="2.4"/><circle cx="609.4" cy="692.5" r="2.4"/><circle cx="611.3" cy="712.5" r="2.4"/><circle cx="613.3" cy="714.7" r="2.4"/><circle cx="615.2" cy="691.0" r="2.4"/><circle cx="617.1" cy="745.8" r="2.4"/><circle cx="619.1" cy="741.1" r="2.4"/><circle cx="621.0" cy="706.5" r="2.4"/><circle cx="623.0" cy="728.7" r="2.4"/><circle cx="624.9" cy="721.6" r="2.4"/><circle cx="626.8" cy="667.8" r="2.4"/><circle cx="628.8" cy="719.3" r="2.4"/><circle cx="630.7" cy="713.7" r="2.4"/><circle cx="632.6" cy="643.0" r="2.4"/><circle cx="634.6" cy="697.7" r="2.4"/><circle cx="636.5" cy="713.5" r="2.4"/><circle cx="638.4" cy="716.4" r="2.4"/><circle cx="640.4" cy="742.2" r="2.4"/><circle cx="642.3" cy="728.1" r="2.4"/><circle cx="644.3" cy="723.2" r="2.4"/><circle cx="646.2" cy="752.1" r="2.4"/><circle cx="648.1" cy="715.8" r="2.4"/><circle cx="650.1" cy="719.9" r="2.4"/><circle cx="652.0" cy="692.5" r="2.4"/><circle cx="653.9" cy="751.8" r="2.4"/><circle cx="655.9" cy="739.2" r="2.4"/><circle cx="657.8" cy="736.6" r="2.4"/><circle cx="659.7" cy="730.5" r="2.4"/><circle cx="661.7" cy="718.7" r="2.4"/><circle cx="663.6" cy="718.9" r="2.4"/><circle cx="665.6" cy="708.8" r="2.4"/><circle cx="667.5" cy="707.9" r="2.4"/><circle cx="669.4" cy="710.9" r="2.4"/><circle cx="671.4" cy="736.9" r="2.4"/><circle cx="673.3" cy="720.2" r="2.4"/><circle cx="675.2" cy="709.6" r="2.4"/><circle cx="677.2" cy="700.7" r="2.4"/><circle cx="679.1" cy="700.2" r="2.4"/><circle cx="681.0" cy="740.9" r="2.4"/><circle cx="683.0" cy="721.7" r="2.4"/><circle cx="684.9" cy="714.2" r="2.4"/><circle cx="686.9" cy="707.3" r="2.4"/><circle cx="688.8" cy="694.0" r="2.4"/><circle cx="690.7" cy="713.1" r="2.4"/><circle cx="692.7" cy="730.3" r="2.4"/><circle cx="694.6" cy="707.8" r="2.4"/><circle cx="696.5" cy="711.1" r="2.4"/><circle cx="698.5" cy="711.5" r="2.4"/><circle cx="700.4" cy="717.8" r="2.4"/><circle cx="702.3" cy="687.4" r="2.4"/><circle cx="704.3" cy="712.2" r="2.4"/><circle cx="706.2" cy="701.3" r="2.4"/><circle cx="708.2" cy="732.9" r="2.4"/><circle cx="710.1" cy="702.2" r="2.4"/><circle cx="712.0" cy="725.6" r="2.4"/><circle cx="714.0" cy="741.8" r="2.4"/><circle cx="715.9" cy="707.8" r="2.4"/><circle cx="717.8" cy="701.7" r="2.4"/><circle cx="719.8" cy="715.1" r="2.4"/><circle cx="721.7" cy="710.8" r="2.4"/><circle cx="723.6" cy="692.1" r="2.4"/><circle cx="725.6" cy="717.4" r="2.4"/><circle cx="727.5" cy="744.5" r="2.4"/><circle cx="729.5" cy="702.6" r="2.4"/><circle cx="731.4" cy="702.7" r="2.4"/><circle cx="733.3" cy="686.6" r="2.4"/><circle cx="735.3" cy="710.2" r="2.4"/><circle cx="737.2" cy="681.1" r="2.4"/><circle cx="739.1" cy="682.6" r="2.4"/><circle cx="741.1" cy="724.7" r="2.4"/><circle cx="743.0" cy="684.4" r="2.4"/><circle cx="744.9" cy="719.2" r="2.4"/><circle cx="746.9" cy="726.2" r="2.4"/><circle cx="748.8" cy="702.8" r="2.4"/><circle cx="750.8" cy="709.2" r="2.4"/><circle cx="752.7" cy="735.4" r="2.4"/><circle cx="754.6" cy="697.8" r="2.4"/><circle cx="756.6" cy="691.7" r="2.4"/><circle cx="758.5" cy="679.0" r="2.4"/><circle cx="760.4" cy="705.2" r="2.4"/><circle cx="762.4" cy="732.1" r="2.4"/><circle cx="764.3" cy="723.8" r="2.4"/><circle cx="766.2" cy="690.6" r="2.4"/><circle cx="768.2" cy="693.1" r="2.4"/><circle cx="770.1" cy="700.2" r="2.4"/><circle cx="772.1" cy="715.4" r="2.4"/><circle cx="774.0" cy="707.2" r="2.4"/><circle cx="775.9" cy="715.6" r="2.4"/><circle cx="777.9" cy="717.9" r="2.4"/><circle cx="779.8" cy="708.0" r="2.4"/><circle cx="781.7" cy="713.5" r="2.4"/><circle cx="783.7" cy="718.7" r="2.4"/><circle cx="785.6" cy="714.3" r="2.4"/><circle cx="787.5" cy="723.5" r="2.4"/><circle cx="789.5" cy="746.3" r="2.4"/><circle cx="791.4" cy="646.0" r="2.4"/><circle cx="793.4" cy="709.8" r="2.4"/><circle cx="795.3" cy="676.5" r="2.4"/><circle cx="797.2" cy="712.0" r="2.4"/><circle cx="799.2" cy="668.0" r="2.4"/><circle cx="801.1" cy="675.8" r="2.4"/><circle cx="803.0" cy="714.7" r="2.4"/><circle cx="805.0" cy="710.1" r="2.4"/><circle cx="806.9" cy="692.8" r="2.4"/><circle cx="808.8" cy="666.0" r="2.4"/><circle cx="810.8" cy="691.6" r="2.4"/><circle cx="812.7" cy="687.6" r="2.4"/><circle cx="814.7" cy="712.7" r="2.4"/><circle cx="816.6" cy="743.4" r="2.4"/><circle cx="818.5" cy="708.2" r="2.4"/><circle cx="820.5" cy="691.7" r="2.4"/><circle cx="822.4" cy="686.2" r="2.4"/><circle cx="824.3" cy="707.7" r="2.4"/><circle cx="826.3" cy="707.0" r="2.4"/><circle cx="828.2" cy="690.7" r="2.4"/><circle cx="830.1" cy="714.8" r="2.4"/><circle cx="832.1" cy="693.2" r="2.4"/><circle cx="834.0" cy="735.2" r="2.4"/><circle cx="836.0" cy="735.5" r="2.4"/><circle cx="837.9" cy="737.2" r="2.4"/><circle cx="839.8" cy="710.4" r="2.4"/><circle cx="841.8" cy="729.4" r="2.4"/><circle cx="843.7" cy="719.0" r="2.4"/><circle cx="845.6" cy="715.1" r="2.4"/><circle cx="847.6" cy="714.2" r="2.4"/><circle cx="849.5" cy="695.1" r="2.4"/><circle cx="851.4" cy="690.7" r="2.4"/><circle cx="853.4" cy="729.2" r="2.4"/><circle cx="855.3" cy="709.6" r="2.4"/><circle cx="857.3" cy="715.2" r="2.4"/><circle cx="859.2" cy="727.5" r="2.4"/><circle cx="861.1" cy="676.5" r="2.4"/><circle cx="863.1" cy="691.8" r="2.4"/><circle cx="865.0" cy="707.2" r="2.4"/><circle cx="866.9" cy="709.3" r="2.4"/><circle cx="868.9" cy="693.6" r="2.4"/><circle cx="870.8" cy="717.0" r="2.4"/><circle cx="872.7" cy="700.4" r="2.4"/><circle cx="874.7" cy="673.0" r="2.4"/><circle cx="876.6" cy="676.2" r="2.4"/><circle cx="878.6" cy="705.6" r="2.4"/><circle cx="880.5" cy="697.6" r="2.4"/><circle cx="882.4" cy="653.2" r="2.4"/><circle cx="884.4" cy="711.6" r="2.4"/><circle cx="886.3" cy="700.1" r="2.4"/><circle cx="888.2" cy="715.6" r="2.4"/><circle cx="890.2" cy="686.6" r="2.4"/><circle cx="892.1" cy="690.2" r="2.4"/><circle cx="894.0" cy="677.3" r="2.4"/><circle cx="896.0" cy="745.3" r="2.4"/><circle cx="897.9" cy="698.5" r="2.4"/><circle cx="899.9" cy="732.3" r="2.4"/><circle cx="901.8" cy="694.1" r="2.4"/><circle cx="903.7" cy="709.9" r="2.4"/><circle cx="905.7" cy="677.8" r="2.4"/><circle cx="907.6" cy="702.1" r="2.4"/><circle cx="909.5" cy="727.7" r="2.4"/><circle cx="911.5" cy="688.5" r="2.4"/><circle cx="913.4" cy="731.3" r="2.4"/><circle cx="915.3" cy="719.1" r="2.4"/><circle cx="917.3" cy="695.3" r="2.4"/><circle cx="919.2" cy="706.0" r="2.4"/><circle cx="921.2" cy="707.6" r="2.4"/><circle cx="923.1" cy="712.8" r="2.4"/><circle cx="925.0" cy="701.8" r="2.4"/><circle cx="927.0" cy="694.4" r="2.4"/><circle cx="928.9" cy="701.6" r="2.4"/><circle cx="930.8" cy="686.4" r="2.4"/><circle cx="932.8" cy="679.5" r="2.4"/><circle cx="934.7" cy="699.7" r="2.4"/><circle cx="936.6" cy="714.2" r="2.4"/><circle cx="938.6" cy="668.6" r="2.4"/><circle cx="940.5" cy="694.0" r="2.4"/><circle cx="942.5" cy="680.9" r="2.4"/><circle cx="944.4" cy="676.5" r="2.4"/><circle cx="946.3" cy="711.0" r="2.4"/><circle cx="948.3" cy="687.7" r="2.4"/><circle cx="950.2" cy="725.5" r="2.4"/><circle cx="952.1" cy="686.0" r="2.4"/><circle cx="954.1" cy="708.4" r="2.4"/><circle cx="956.0" cy="698.9" r="2.4"/><circle cx="957.9" cy="690.9" r="2.4"/><circle cx="959.9" cy="716.5" r="2.4"/><circle cx="961.8" cy="703.8" r="2.4"/><circle cx="963.8" cy="718.1" r="2.4"/><circle cx="965.7" cy="707.1" r="2.4"/><circle cx="967.6" cy="689.1" r="2.4"/><circle cx="969.6" cy="707.4" r="2.4"/><circle cx="971.5" cy="710.9" r="2.4"/><circle cx="973.4" cy="727.8" r="2.4"/><circle cx="975.4" cy="694.9" r="2.4"/><circle cx="977.3" cy="711.2" r="2.4"/><circle cx="979.2" cy="681.5" r="2.4"/><circle cx="981.2" cy="724.2" r="2.4"/><circle cx="983.1" cy="693.0" r="2.4"/><circle cx="985.1" cy="680.0" r="2.4"/><circle cx="987.0" cy="649.0" r="2.4"/><circle cx="988.9" cy="732.4" r="2.4"/><circle cx="990.9" cy="685.1" r="2.4"/><circle cx="992.8" cy="692.9" r="2.4"/><circle cx="994.7" cy="699.1" r="2.4"/><circle cx="996.7" cy="692.2" r="2.4"/><circle cx="998.6" cy="719.1" r="2.4"/><circle cx="1000.5" cy="696.9" r="2.4"/><circle cx="1002.5" cy="697.5" r="2.4"/><circle cx="1004.4" cy="720.2" r="2.4"/><circle cx="1006.4" cy="695.2" r="2.4"/><circle cx="1008.3" cy="715.8" r="2.4"/><circle cx="1010.2" cy="689.6" r="2.4"/><circle cx="1012.2" cy="684.5" r="2.4"/><circle cx="1014.1" cy="672.4" r="2.4"/><circle cx="1016.0" cy="738.1" r="2.4"/><circle cx="1018.0" cy="698.0" r="2.4"/><circle cx="1019.9" cy="708.4" r="2.4"/><circle cx="1021.8" cy="704.1" r="2.4"/><circle cx="1023.8" cy="708.2" r="2.4"/><circle cx="1025.7" cy="706.9" r="2.4"/><circle cx="1027.7" cy="741.1" r="2.4"/><circle cx="1029.6" cy="688.7" r="2.4"/><circle cx="1031.5" cy="680.0" r="2.4"/><circle cx="1033.5" cy="690.5" r="2.4"/><circle cx="1035.4" cy="685.4" r="2.4"/><circle cx="1037.3" cy="723.5" r="2.4"/><circle cx="1039.3" cy="725.3" r="2.4"/><circle cx="1041.2" cy="693.8" r="2.4"/><circle cx="1043.1" cy="686.5" r="2.4"/><circle cx="1045.1" cy="705.7" r="2.4"/><circle cx="1047.0" cy="737.6" r="2.4"/><circle cx="1049.0" cy="662.3" r="2.4"/><circle cx="1050.9" cy="723.0" r="2.4"/><circle cx="1052.8" cy="694.6" r="2.4"/><circle cx="1054.8" cy="733.2" r="2.4"/><circle cx="1056.7" cy="695.4" r="2.4"/><circle cx="1058.6" cy="709.8" r="2.4"/><circle cx="1060.6" cy="688.0" r="2.4"/><circle cx="1062.5" cy="697.6" r="2.4"/><circle cx="1064.4" cy="740.3" r="2.4"/><circle cx="1066.4" cy="730.2" r="2.4"/><circle cx="1068.3" cy="708.3" r="2.4"/><circle cx="1070.3" cy="700.0" r="2.4"/><circle cx="1072.2" cy="681.7" r="2.4"/><circle cx="1074.1" cy="708.9" r="2.4"/><circle cx="1076.1" cy="715.9" r="2.4"/><circle cx="1078.0" cy="715.8" r="2.4"/><circle cx="1079.9" cy="716.5" r="2.4"/><circle cx="1081.9" cy="698.9" r="2.4"/><circle cx="1083.8" cy="718.8" r="2.4"/><circle cx="1085.7" cy="720.1" r="2.4"/><circle cx="1087.7" cy="744.9" r="2.4"/><circle cx="1089.6" cy="756.2" r="2.4"/><circle cx="1091.6" cy="721.0" r="2.4"/><circle cx="1093.5" cy="710.5" r="2.4"/><circle cx="1095.4" cy="724.0" r="2.4"/><circle cx="1097.4" cy="715.1" r="2.4"/><circle cx="1099.3" cy="713.5" r="2.4"/><circle cx="1101.2" cy="724.5" r="2.4"/><circle cx="1103.2" cy="705.3" r="2.4"/><circle cx="1105.1" cy="733.4" r="2.4"/><circle cx="1107.0" cy="719.1" r="2.4"/><circle cx="1109.0" cy="723.9" r="2.4"/><circle cx="1110.9" cy="714.5" r="2.4"/><circle cx="1112.9" cy="703.2" r="2.4"/><circle cx="1114.8" cy="697.6" r="2.4"/><circle cx="1116.7" cy="708.9" r="2.4"/><circle cx="1118.7" cy="702.6" r="2.4"/><circle cx="1120.6" cy="716.7" r="2.4"/><circle cx="1122.5" cy="712.4" r="2.4"/>
</g>
<polygon points="108.0,710.5 138.5,710.5 165.5,714.9 188.0,701.9 215.0,704.1 244.0,708.5 264.5,682.5 291.5,699.5 318.5,693.5 341.0,710.5 361.0,682.5 390.5,696.0 410.0,695.1 429.0,700.5 449.0,701.9 476.0,710.5 498.5,686.1 517.0,684.5 536.5,702.5 556.0,698.5 575.0,695.1 593.0,711.5 612.0,707.3 631.0,707.3 650.0,719.5 670.0,701.9 689.0,706.5 708.0,709.5 728.0,700.5 748.5,690.5 767.0,700.5 786.0,708.5 807.0,687.9 826.0,702.5 845.3,714.9 864.0,697.5 883.5,678.9 902.0,698.5 921.0,708.5 942.0,684.8 960.0,698.5 979.0,705.0 998.0,705.0 1018.5,696.0 1037.0,702.5 1056.0,707.3 1075.0,708.5 1099.5,719.5 1117.5,705.0 1117.5,720.0 1099.5,734.5 1075.0,723.5 1056.0,722.3 1037.0,717.5 1018.5,711.0 998.0,720.0 979.0,720.0 960.0,713.5 942.0,699.8 921.0,723.5 902.0,713.5 883.5,693.9 864.0,712.5 845.3,729.9 826.0,717.5 807.0,702.9 786.0,723.5 767.0,715.5 748.5,705.5 728.0,715.5 708.0,724.5 689.0,721.5 670.0,716.9 650.0,734.5 631.0,722.3 612.0,722.3 593.0,726.5 575.0,710.1 556.0,713.5 536.5,717.5 517.0,699.5 498.5,701.1 476.0,725.5 449.0,716.9 429.0,715.5 410.0,710.1 390.5,711.0 361.0,697.5 341.0,725.5 318.5,708.5 291.5,714.5 264.5,697.5 244.0,723.5 215.0,719.1 188.0,716.9 165.5,729.9 138.5,725.5 108.0,725.5" fill="#ff7f0e" stroke="none" stroke-width="1" fill-opacity="0.5"/>
<polyline points="108.0,718.0 138.5,718.0 165.5,722.4 188.0,709.4 215.0,711.6 244.0,716.0 264.5,690.0 291.5,707.0 318.5,701.0 341.0,718.0 361.0,690.0 390.5,703.5 410.0,702.6 429.0,708.0 449.0,709.4 476.0,718.0 498.5,693.6 517.0,692.0 536.5,710.0 556.0,706.0 575.0,702.6 593.0,719.0 612.0,714.8 631.0,714.8 650.0,727.0 670.0,709.4 689.0,714.0 708.0,717.0 728.0,708.0 748.5,698.0 767.0,708.0 786.0,716.0 807.0,695.4 826.0,710.0 845.3,722.4 864.0,705.0 883.5,686.4 902.0,706.0 921.0,716.0 942.0,692.3 960.0,706.0 979.0,712.5 998.0,712.5 1018.5,703.5 1037.0,710.0 1056.0,714.8 1075.0,716.0 1099.5,727.0 1117.5,712.5" fill="none" stroke="#e8822e" stroke-width="2.0" stroke-linejoin="round"/>
<g fill="#e8822e">
<circle cx="108.0" cy="718.0" r="1.9"/><circle cx="138.5" cy="718.0" r="1.9"/><circle cx="165.5" cy="722.4" r="1.9"/><circle cx="188.0" cy="709.4" r="1.9"/><circle cx="215.0" cy="711.6" r="1.9"/><circle cx="244.0" cy="716.0" r="1.9"/><circle cx="264.5" cy="690.0" r="1.9"/><circle cx="291.5" cy="707.0" r="1.9"/><circle cx="318.5" cy="701.0" r="1.9"/><circle cx="341.0" cy="718.0" r="1.9"/><circle cx="361.0" cy="690.0" r="1.9"/><circle cx="390.5" cy="703.5" r="1.9"/><circle cx="410.0" cy="702.6" r="1.9"/><circle cx="429.0" cy="708.0" r="1.9"/><circle cx="449.0" cy="709.4" r="1.9"/><circle cx="476.0" cy="718.0" r="1.9"/><circle cx="498.5" cy="693.6" r="1.9"/><circle cx="517.0" cy="692.0" r="1.9"/><circle cx="536.5" cy="710.0" r="1.9"/><circle cx="556.0" cy="706.0" r="1.9"/><circle cx="575.0" cy="702.6" r="1.9"/><circle cx="593.0" cy="719.0" r="1.9"/><circle cx="612.0" cy="714.8" r="1.9"/><circle cx="631.0" cy="714.8" r="1.9"/><circle cx="650.0" cy="727.0" r="1.9"/><circle cx="670.0" cy="709.4" r="1.9"/><circle cx="689.0" cy="714.0" r="1.9"/><circle cx="708.0" cy="717.0" r="1.9"/><circle cx="728.0" cy="708.0" r="1.9"/><circle cx="748.5" cy="698.0" r="1.9"/><circle cx="767.0" cy="708.0" r="1.9"/><circle cx="786.0" cy="716.0" r="1.9"/><circle cx="807.0" cy="695.4" r="1.9"/><circle cx="826.0" cy="710.0" r="1.9"/><circle cx="845.3" cy="722.4" r="1.9"/><circle cx="864.0" cy="705.0" r="1.9"/><circle cx="883.5" cy="686.4" r="1.9"/><circle cx="902.0" cy="706.0" r="1.9"/><circle cx="921.0" cy="716.0" r="1.9"/><circle cx="942.0" cy="692.3" r="1.9"/><circle cx="960.0" cy="706.0" r="1.9"/><circle cx="979.0" cy="712.5" r="1.9"/><circle cx="998.0" cy="712.5" r="1.9"/><circle cx="1018.5" cy="703.5" r="1.9"/><circle cx="1037.0" cy="710.0" r="1.9"/><circle cx="1056.0" cy="714.8" r="1.9"/><circle cx="1075.0" cy="716.0" r="1.9"/><circle cx="1099.5" cy="727.0" r="1.9"/><circle cx="1117.5" cy="712.5" r="1.9"/>
</g>
</g>
<line x1="942" y1="621.3" x2="973.8" y2="621.3" stroke="#1f77b4" stroke-width="2.2" />
<circle cx="958" cy="621.3" r="2.3" fill="#1f77b4"/>
<text x="985.5" y="626.5" font-family='"Liberation Sans", sans-serif' font-size="14" text-anchor="start" fill="#000" >10s</text>
<line x1="1037" y1="621.3" x2="1068.8" y2="621.3" stroke="#ff7f0e" stroke-width="2.2" />
<circle cx="1052.5" cy="621.3" r="2.3" fill="#ff7f0e"/>
<text x="1080.5" y="626.5" font-family='"Liberation Sans", sans-serif' font-size="14" text-anchor="start" fill="#000" >100s</text>
<rect x="89.5" y="822" width="206.5" height="80.8" fill="#fff" stroke="none" stroke-width="1.4" />
<clipPath id="lclip"><rect x="89.5" y="822" width="206.5" height="80.8"/></clipPath><g clip-path="url(#lclip)">
<path d="M90.5 902.8V892.7M91.5 902.8V892.7M92.5 902.8V892.7M93.5 902.8V892.7M94.5 902.8V882.6M95.5 902.8V872.5M96.5 902.8V882.6M97.5 902.8V882.6M98.5 902.8V862.4M99.5 902.8V862.4M100.5 902.8V852.3M101.5 902.8V842.2M102.5 902.8V852.3M103.5 902.8V872.5M104.5 902.8V872.5M105.5 902.8V872.5M106.5 902.8V892.7M107.5 902.8V892.7M108.5 902.8V882.6M109.5 902.8V892.7M110.5 902.8V892.7M111.5 902.8V892.7M112.5 902.8V892.7M114.5 902.8V892.7M115.5 902.8V892.7M116.5 902.8V882.6M117.5 902.8V882.6M118.5 902.8V882.6M119.5 902.8V882.6M120.5 902.8V872.5M121.5 902.8V872.5M122.5 902.8V852.3M123.5 902.8V842.2M124.5 902.8V852.3M125.5 902.8V862.4M126.5 902.8V872.5M127.5 902.8V882.6M128.5 902.8V882.6M129.5 902.8V892.7M130.5 902.8V892.7M131.5 902.8V892.7M132.5 902.8V882.6M133.5 902.8V892.7M134.5 902.8V892.7M135.5 902.8V892.7M136.5 902.8V882.6M137.5 902.8V892.7M138.5 902.8V892.7M139.5 902.8V892.7M140.5 902.8V882.6M141.5 902.8V872.5M142.5 902.8V872.5M143.5 902.8V882.6M144.5 902.8V862.4M145.5 902.8V862.4M146.5 902.8V832.1M147.5 902.8V862.4M148.5 902.8V872.5M149.5 902.8V882.6M150.5 902.8V882.6M151.5 902.8V872.5M152.5 902.8V882.6M153.5 902.8V882.6M155.5 902.8V892.7M156.5 902.8V892.7M157.5 902.8V892.7M158.5 902.8V882.6M159.5 902.8V892.7M160.5 902.8V892.7M161.5 902.8V892.7M162.5 902.8V892.7M163.5 902.8V892.7M164.5 902.8V882.6M165.5 902.8V872.5M166.5 902.8V862.4M167.5 902.8V872.5M168.5 902.8V852.3M169.5 902.8V852.3M170.5 902.8V862.4M171.5 902.8V862.4M172.5 902.8V872.5M173.5 902.8V872.5M174.5 902.8V882.6M175.5 902.8V882.6M176.5 902.8V882.6M177.5 902.8V892.7M178.5 902.8V892.7M180.5 902.8V892.7M183.5 902.8V892.7M184.5 902.8V892.7M185.5 902.8V892.7M186.5 902.8V892.7M189.5 902.8V892.7M190.5 902.8V892.7M192.5 902.8V892.7M194.5 902.8V892.7M204.5 902.8V892.7M206.5 902.8V892.7M207.5 902.8V892.7M208.5 902.8V892.7M209.5 902.8V882.6M210.5 902.8V882.6M211.5 902.8V872.5M212.5 902.8V882.6M213.5 902.8V862.4M214.5 902.8V842.2M215.5 902.8V832.1M216.5 902.8V852.3M217.5 902.8V872.5M218.5 902.8V872.5M219.5 902.8V882.6M220.5 902.8V882.6M221.5 902.8V882.6M222.5 902.8V882.6M224.5 902.8V882.6M225.5 902.8V882.6M226.5 902.8V892.7M227.5 902.8V892.7M228.5 902.8V892.7M230.5 902.8V882.6M231.5 902.8V892.7M232.5 902.8V882.6M233.5 902.8V872.5M234.5 902.8V882.6M235.5 902.8V872.5M236.5 902.8V862.4M237.5 902.8V852.3M238.5 902.8V842.2M239.5 902.8V862.4M240.5 902.8V872.5M241.5 902.8V872.5M242.5 902.8V872.5M243.5 902.8V892.7M244.5 902.8V882.6M245.5 902.8V892.7M246.5 902.8V882.6M247.5 902.8V882.6M248.5 902.8V892.7M249.5 902.8V882.6M250.5 902.8V892.7M251.5 902.8V892.7M252.5 902.8V892.7M253.5 902.8V892.7M254.5 902.8V892.7M255.5 902.8V892.7M256.5 902.8V882.6M257.5 902.8V882.6M258.5 902.8V882.6M259.5 902.8V872.5M260.5 902.8V842.2M261.5 902.8V842.2M262.5 902.8V852.3M263.5 902.8V862.4M264.5 902.8V872.5M265.5 902.8V882.6M266.5 902.8V882.6M267.5 902.8V892.7M268.5 902.8V882.6M269.5 902.8V892.7M271.5 902.8V892.7M273.5 902.8V892.7M274.5 902.8V892.7M275.5 902.8V892.7M276.5 902.8V882.6M277.5 902.8V892.7M278.5 902.8V882.6M279.5 902.8V882.6M280.5 902.8V872.5M281.5 902.8V882.6M282.5 902.8V872.5M283.5 902.8V852.3M284.5 902.8V842.2M285.5 902.8V842.2M286.5 902.8V862.4M287.5 902.8V862.4M288.5 902.8V872.5M289.5 902.8V872.5M290.5 902.8V892.7M291.5 902.8V892.7M292.5 902.8V892.7M293.5 902.8V892.7M295.5 902.8V892.7" stroke="#1f77b4" stroke-width="1" stroke-opacity="0.42"/>
<path d="M90.5 902.8V892.7M91.5 902.8V892.7M92.5 902.8V892.7M93.5 902.8V892.7M94.5 902.8V892.7M95.5 902.8V882.6M96.5 902.8V882.6M97.5 902.8V872.5M98.5 902.8V862.4M99.5 902.8V862.4M100.5 902.8V852.3M101.5 902.8V842.2M102.5 902.8V852.3M103.5 902.8V862.4M104.5 902.8V882.6M105.5 902.8V882.6M106.5 902.8V892.7M107.5 902.8V882.6M109.5 902.8V882.6M110.5 902.8V892.7M112.5 902.8V882.6M113.5 902.8V882.6M115.5 902.8V892.7M116.5 902.8V892.7M117.5 902.8V882.6M118.5 902.8V872.5M119.5 902.8V882.6M120.5 902.8V882.6M121.5 902.8V872.5M122.5 902.8V862.4M123.5 902.8V852.3M124.5 902.8V842.2M125.5 902.8V862.4M126.5 902.8V872.5M127.5 902.8V882.6M128.5 902.8V882.6M129.5 902.8V882.6M130.5 902.8V892.7M131.5 902.8V892.7M132.5 902.8V882.6M133.5 902.8V882.6M134.5 902.8V892.7M135.5 902.8V892.7M136.5 902.8V892.7M137.5 902.8V892.7M138.5 902.8V882.6M139.5 902.8V892.7M140.5 902.8V892.7M141.5 902.8V872.5M142.5 902.8V872.5M143.5 902.8V882.6M144.5 902.8V862.4M145.5 902.8V852.3M146.5 902.8V842.2M147.5 902.8V852.3M148.5 902.8V862.4M149.5 902.8V872.5M150.5 902.8V872.5M151.5 902.8V892.7M152.5 902.8V892.7M153.5 902.8V882.6M155.5 902.8V892.7M156.5 902.8V892.7M157.5 902.8V892.7M158.5 902.8V892.7M160.5 902.8V882.6M161.5 902.8V882.6M162.5 902.8V882.6M163.5 902.8V882.6M164.5 902.8V882.6M165.5 902.8V882.6M166.5 902.8V882.6M167.5 902.8V862.4M168.5 902.8V852.3M169.5 902.8V832.1M170.5 902.8V862.4M171.5 902.8V872.5M172.5 902.8V872.5M173.5 902.8V872.5M174.5 902.8V882.6M175.5 902.8V882.6M176.5 902.8V882.6M177.5 902.8V892.7M178.5 902.8V892.7M180.5 902.8V892.7M181.5 902.8V892.7M182.5 902.8V892.7M183.5 902.8V892.7M184.5 902.8V892.7M185.5 902.8V892.7M192.5 902.8V892.7M194.5 902.8V892.7M196.5 902.8V892.7M200.5 902.8V892.7M201.5 902.8V892.7M202.5 902.8V892.7M206.5 902.8V892.7M207.5 902.8V882.6M208.5 902.8V882.6M209.5 902.8V882.6M210.5 902.8V882.6M211.5 902.8V882.6M212.5 902.8V872.5M213.5 902.8V862.4M214.5 902.8V852.3M215.5 902.8V842.2M216.5 902.8V852.3M217.5 902.8V872.5M218.5 902.8V872.5M219.5 902.8V882.6M220.5 902.8V872.5M221.5 902.8V892.7M222.5 902.8V892.7M223.5 902.8V882.6M224.5 902.8V892.7M227.5 902.8V892.7M228.5 902.8V892.7M229.5 902.8V882.6M230.5 902.8V882.6M231.5 902.8V892.7M232.5 902.8V882.6M233.5 902.8V882.6M234.5 902.8V882.6M235.5 902.8V862.4M236.5 902.8V852.3M237.5 902.8V852.3M238.5 902.8V842.2M239.5 902.8V852.3M240.5 902.8V872.5M241.5 902.8V882.6M242.5 902.8V882.6M243.5 902.8V882.6M244.5 902.8V892.7M245.5 902.8V882.6M247.5 902.8V892.7M248.5 902.8V882.6M250.5 902.8V882.6M251.5 902.8V892.7M252.5 902.8V882.6M253.5 902.8V892.7M254.5 902.8V882.6M255.5 902.8V882.6M256.5 902.8V892.7M257.5 902.8V882.6M258.5 902.8V862.4M259.5 902.8V862.4M260.5 902.8V852.3M261.5 902.8V832.1M262.5 902.8V852.3M263.5 902.8V862.4M264.5 902.8V872.5M265.5 902.8V872.5M266.5 902.8V892.7M267.5 902.8V882.6M268.5 902.8V892.7M269.5 902.8V892.7M270.5 902.8V892.7M271.5 902.8V892.7M272.5 902.8V882.6M273.5 902.8V892.7M274.5 902.8V892.7M276.5 902.8V882.6M277.5 902.8V882.6M278.5 902.8V882.6M279.5 902.8V882.6M280.5 902.8V882.6M281.5 902.8V872.5M282.5 902.8V872.5M283.5 902.8V862.4M284.5 902.8V842.2M285.5 902.8V842.2M286.5 902.8V852.3M287.5 902.8V882.6M288.5 902.8V872.5M289.5 902.8V882.6M290.5 902.8V892.7M291.5 902.8V892.7M292.5 902.8V892.7M293.5 902.8V892.7M294.5 902.8V892.7M295.5 902.8V892.7" stroke="#1f77b4" stroke-width="1" stroke-opacity="0.42"/>
<path d="M90.5 902.8V892.7M91.5 902.8V882.6M92.5 902.8V892.7M93.5 902.8V892.7M94.5 902.8V892.7M95.5 902.8V882.6M96.5 902.8V882.6M97.5 902.8V882.6M98.5 902.8V872.5M99.5 902.8V852.3M100.5 902.8V842.2M101.5 902.8V842.2M102.5 902.8V862.4M103.5 902.8V862.4M104.5 902.8V872.5M105.5 902.8V892.7M106.5 902.8V872.5M107.5 902.8V892.7M108.5 902.8V892.7M109.5 902.8V892.7M110.5 902.8V882.6M111.5 902.8V892.7M112.5 902.8V892.7M113.5 902.8V892.7M114.5 902.8V892.7M115.5 902.8V892.7M116.5 902.8V892.7M117.5 902.8V892.7M118.5 902.8V882.6M119.5 902.8V882.6M120.5 902.8V872.5M121.5 902.8V862.4M122.5 902.8V852.3M123.5 902.8V852.3M124.5 902.8V852.3M125.5 902.8V862.4M126.5 902.8V872.5M127.5 902.8V882.6M128.5 902.8V872.5M129.5 902.8V892.7M130.5 902.8V882.6M131.5 902.8V882.6M132.5 902.8V892.7M133.5 902.8V892.7M134.5 902.8V892.7M135.5 902.8V882.6M137.5 902.8V882.6M139.5 902.8V892.7M140.5 902.8V892.7M141.5 902.8V872.5M142.5 902.8V872.5M143.5 902.8V872.5M144.5 902.8V862.4M145.5 902.8V862.4M146.5 902.8V842.2M147.5 902.8V852.3M148.5 902.8V862.4M149.5 902.8V872.5M150.5 902.8V872.5M151.5 902.8V882.6M152.5 902.8V882.6M153.5 902.8V892.7M154.5 902.8V892.7M155.5 902.8V892.7M156.5 902.8V892.7M157.5 902.8V892.7M159.5 902.8V892.7M160.5 902.8V892.7M161.5 902.8V882.6M162.5 902.8V882.6M163.5 902.8V882.6M164.5 902.8V872.5M165.5 902.8V882.6M166.5 902.8V862.4M167.5 902.8V852.3M168.5 902.8V852.3M169.5 902.8V842.2M170.5 902.8V842.2M171.5 902.8V862.4M172.5 902.8V882.6M173.5 902.8V882.6M174.5 902.8V892.7M175.5 902.8V882.6M176.5 902.8V892.7M178.5 902.8V892.7M180.5 902.8V892.7M181.5 902.8V892.7M198.5 902.8V892.7M199.5 902.8V892.7M205.5 902.8V892.7M206.5 902.8V892.7M207.5 902.8V882.6M208.5 902.8V892.7M209.5 902.8V882.6M210.5 902.8V882.6M211.5 902.8V872.5M212.5 902.8V872.5M213.5 902.8V872.5M214.5 902.8V842.2M215.5 902.8V832.1M216.5 902.8V862.4M217.5 902.8V862.4M218.5 902.8V872.5M219.5 902.8V882.6M220.5 902.8V892.7M221.5 902.8V892.7M222.5 902.8V892.7M223.5 902.8V882.6M224.5 902.8V892.7M225.5 902.8V892.7M226.5 902.8V892.7M228.5 902.8V882.6M229.5 902.8V882.6M230.5 902.8V892.7M231.5 902.8V892.7M232.5 902.8V882.6M233.5 902.8V872.5M234.5 902.8V882.6M235.5 902.8V882.6M236.5 902.8V862.4M237.5 902.8V852.3M238.5 902.8V842.2M239.5 902.8V862.4M240.5 902.8V862.4M241.5 902.8V872.5M242.5 902.8V882.6M243.5 902.8V882.6M244.5 902.8V892.7M245.5 902.8V892.7M246.5 902.8V882.6M247.5 902.8V892.7M248.5 902.8V892.7M249.5 902.8V892.7M251.5 902.8V892.7M252.5 902.8V892.7M253.5 902.8V892.7M254.5 902.8V882.6M255.5 902.8V892.7M256.5 902.8V882.6M257.5 902.8V872.5M258.5 902.8V872.5M259.5 902.8V872.5M260.5 902.8V842.2M261.5 902.8V832.1M262.5 902.8V862.4M263.5 902.8V862.4M264.5 902.8V882.6M265.5 902.8V882.6M266.5 902.8V882.6M267.5 902.8V892.7M268.5 902.8V892.7M269.5 902.8V892.7M270.5 902.8V892.7M272.5 902.8V882.6M273.5 902.8V892.7M274.5 902.8V892.7M275.5 902.8V892.7M276.5 902.8V882.6M277.5 902.8V892.7M278.5 902.8V882.6M279.5 902.8V882.6M280.5 902.8V872.5M281.5 902.8V872.5M282.5 902.8V862.4M283.5 902.8V862.4M284.5 902.8V852.3M285.5 902.8V852.3M286.5 902.8V862.4M287.5 902.8V872.5M288.5 902.8V872.5M289.5 902.8V872.5M290.5 902.8V892.7M291.5 902.8V882.6M292.5 902.8V882.6M293.5 902.8V882.6M295.5 902.8V892.7" stroke="#1f77b4" stroke-width="1" stroke-opacity="0.42"/>
<path d="M90.5 902.8V892.7M93.5 902.8V882.6M94.5 902.8V892.7M95.5 902.8V882.6M96.5 902.8V892.7M97.5 902.8V882.6M98.5 902.8V862.4M99.5 902.8V862.4M100.5 902.8V852.3M101.5 902.8V842.2M102.5 902.8V862.4M103.5 902.8V872.5M104.5 902.8V872.5M105.5 902.8V882.6M106.5 902.8V882.6M107.5 902.8V882.6M108.5 902.8V882.6M109.5 902.8V882.6M110.5 902.8V892.7M111.5 902.8V892.7M112.5 902.8V892.7M113.5 902.8V892.7M114.5 902.8V882.6M115.5 902.8V892.7M116.5 902.8V882.6M117.5 902.8V892.7M118.5 902.8V882.6M119.5 902.8V882.6M120.5 902.8V872.5M121.5 902.8V872.5M122.5 902.8V862.4M123.5 902.8V842.2M124.5 902.8V852.3M125.5 902.8V852.3M126.5 902.8V862.4M127.5 902.8V872.5M128.5 902.8V882.6M129.5 902.8V882.6M130.5 902.8V892.7M131.5 902.8V892.7M132.5 902.8V882.6M133.5 902.8V892.7M134.5 902.8V892.7M135.5 902.8V882.6M136.5 902.8V892.7M138.5 902.8V882.6M139.5 902.8V892.7M140.5 902.8V882.6M141.5 902.8V882.6M142.5 902.8V872.5M143.5 902.8V882.6M144.5 902.8V872.5M145.5 902.8V862.4M146.5 902.8V832.1M147.5 902.8V852.3M148.5 902.8V852.3M149.5 902.8V862.4M150.5 902.8V872.5M151.5 902.8V892.7M152.5 902.8V892.7M153.5 902.8V882.6M154.5 902.8V882.6M155.5 902.8V892.7M156.5 902.8V892.7M158.5 902.8V882.6M160.5 902.8V882.6M161.5 902.8V892.7M162.5 902.8V882.6M163.5 902.8V892.7M164.5 902.8V882.6M165.5 902.8V882.6M166.5 902.8V872.5M167.5 902.8V872.5M168.5 902.8V842.2M169.5 902.8V832.1M170.5 902.8V862.4M171.5 902.8V872.5M172.5 902.8V872.5M173.5 902.8V882.6M174.5 902.8V882.6M175.5 902.8V882.6M176.5 902.8V882.6M177.5 902.8V892.7M178.5 902.8V892.7M179.5 902.8V892.7M187.5 902.8V892.7M189.5 902.8V892.7M190.5 902.8V892.7M194.5 902.8V892.7M195.5 902.8V892.7M196.5 902.8V892.7M198.5 902.8V892.7M206.5 902.8V892.7M207.5 902.8V892.7M208.5 902.8V892.7M209.5 902.8V882.6M210.5 902.8V882.6M211.5 902.8V872.5M212.5 902.8V872.5M213.5 902.8V852.3M214.5 902.8V852.3M215.5 902.8V832.1M216.5 902.8V862.4M217.5 902.8V862.4M218.5 902.8V882.6M219.5 902.8V882.6M220.5 902.8V882.6M221.5 902.8V892.7M222.5 902.8V882.6M223.5 902.8V882.6M225.5 902.8V892.7M226.5 902.8V892.7M227.5 902.8V892.7M228.5 902.8V882.6M229.5 902.8V882.6M230.5 902.8V882.6M231.5 902.8V882.6M232.5 902.8V892.7M233.5 902.8V882.6M234.5 902.8V882.6M235.5 902.8V862.4M236.5 902.8V872.5M237.5 902.8V852.3M238.5 902.8V852.3M239.5 902.8V862.4M240.5 902.8V862.4M241.5 902.8V882.6M242.5 902.8V882.6M243.5 902.8V882.6M244.5 902.8V882.6M245.5 902.8V882.6M246.5 902.8V892.7M247.5 902.8V892.7M248.5 902.8V882.6M249.5 902.8V892.7M250.5 902.8V882.6M251.5 902.8V882.6M252.5 902.8V892.7M253.5 902.8V892.7M254.5 902.8V882.6M255.5 902.8V882.6M256.5 902.8V882.6M257.5 902.8V882.6M258.5 902.8V872.5M259.5 902.8V862.4M260.5 902.8V852.3M261.5 902.8V842.2M262.5 902.8V862.4M263.5 902.8V862.4M264.5 902.8V872.5M265.5 902.8V882.6M266.5 902.8V882.6M267.5 902.8V892.7M268.5 902.8V892.7M269.5 902.8V892.7M270.5 902.8V892.7M273.5 902.8V892.7M274.5 902.8V882.6M275.5 902.8V892.7M276.5 902.8V882.6M277.5 902.8V892.7M278.5 902.8V882.6M279.5 902.8V872.5M280.5 902.8V872.5M281.5 902.8V882.6M282.5 902.8V872.5M283.5 902.8V862.4M284.5 902.8V852.3M285.5 902.8V842.2M286.5 902.8V862.4M287.5 902.8V872.5M288.5 902.8V882.6M289.5 902.8V872.5M290.5 902.8V882.6M291.5 902.8V882.6M292.5 902.8V882.6M293.5 902.8V882.6M295.5 902.8V892.7" stroke="#1f77b4" stroke-width="1" stroke-opacity="0.42"/>
<path d="M90.5 902.8V892.7M91.5 902.8V892.7M92.5 902.8V882.6M93.5 902.8V892.7M94.5 902.8V882.6M95.5 902.8V892.7M96.5 902.8V872.5M97.5 902.8V882.6M98.5 902.8V862.4M99.5 902.8V852.3M100.5 902.8V842.2M101.5 902.8V842.2M102.5 902.8V852.3M103.5 902.8V872.5M104.5 902.8V872.5M105.5 902.8V872.5M106.5 902.8V892.7M107.5 902.8V882.6M108.5 902.8V892.7M109.5 902.8V892.7M110.5 902.8V892.7M111.5 902.8V892.7M112.5 902.8V892.7M114.5 902.8V882.6M115.5 902.8V892.7M117.5 902.8V882.6M118.5 902.8V882.6M119.5 902.8V882.6M120.5 902.8V882.6M121.5 902.8V862.4M122.5 902.8V852.3M123.5 902.8V842.2M124.5 902.8V842.2M125.5 902.8V872.5M126.5 902.8V862.4M127.5 902.8V882.6M128.5 902.8V872.5M129.5 902.8V882.6M130.5 902.8V882.6M131.5 902.8V892.7M133.5 902.8V892.7M134.5 902.8V892.7M135.5 902.8V892.7M136.5 902.8V892.7M137.5 902.8V882.6M138.5 902.8V892.7M139.5 902.8V882.6M140.5 902.8V882.6M141.5 902.8V872.5M142.5 902.8V872.5M143.5 902.8V862.4M144.5 902.8V872.5M145.5 902.8V852.3M146.5 902.8V852.3M147.5 902.8V852.3M148.5 902.8V862.4M149.5 902.8V862.4M150.5 902.8V872.5M151.5 902.8V882.6M152.5 902.8V882.6M153.5 902.8V882.6M154.5 902.8V892.7M155.5 902.8V892.7M156.5 902.8V892.7M157.5 902.8V882.6M159.5 902.8V892.7M160.5 902.8V882.6M161.5 902.8V892.7M162.5 902.8V882.6M163.5 902.8V882.6M164.5 902.8V892.7M165.5 902.8V872.5M166.5 902.8V872.5M167.5 902.8V862.4M168.5 902.8V852.3M169.5 902.8V842.2M170.5 902.8V852.3M171.5 902.8V872.5M172.5 902.8V872.5M173.5 902.8V872.5M174.5 902.8V892.7M175.5 902.8V882.6M176.5 902.8V882.6M179.5 902.8V892.7M181.5 902.8V892.7M182.5 902.8V892.7M183.5 902.8V892.7M185.5 902.8V892.7M186.5 902.8V892.7M187.5 902.8V892.7M190.5 902.8V892.7M193.5 902.8V892.7M197.5 902.8V892.7M198.5 902.8V892.7M205.5 902.8V892.7M207.5 902.8V882.6M208.5 902.8V882.6M209.5 902.8V892.7M210.5 902.8V882.6M211.5 902.8V882.6M212.5 902.8V882.6M213.5 902.8V872.5M214.5 902.8V842.2M215.5 902.8V832.1M216.5 902.8V852.3M217.5 902.8V872.5M218.5 902.8V882.6M219.5 902.8V882.6M220.5 902.8V872.5M221.5 902.8V892.7M222.5 902.8V882.6M223.5 902.8V892.7M224.5 902.8V882.6M225.5 902.8V882.6M227.5 902.8V882.6M228.5 902.8V892.7M229.5 902.8V882.6M230.5 902.8V882.6M231.5 902.8V892.7M232.5 902.8V892.7M233.5 902.8V882.6M234.5 902.8V872.5M235.5 902.8V872.5M236.5 902.8V862.4M237.5 902.8V852.3M238.5 902.8V842.2M239.5 902.8V862.4M240.5 902.8V862.4M241.5 902.8V872.5M242.5 902.8V882.6M243.5 902.8V882.6M244.5 902.8V892.7M245.5 902.8V892.7M246.5 902.8V892.7M247.5 902.8V882.6M248.5 902.8V882.6M249.5 902.8V892.7M250.5 902.8V892.7M251.5 902.8V892.7M252.5 902.8V892.7M253.5 902.8V882.6M254.5 902.8V892.7M255.5 902.8V882.6M256.5 902.8V872.5M257.5 902.8V872.5M258.5 902.8V862.4M259.5 902.8V862.4M260.5 902.8V852.3M261.5 902.8V832.1M262.5 902.8V862.4M263.5 902.8V872.5M264.5 902.8V862.4M265.5 902.8V882.6M266.5 902.8V872.5M267.5 902.8V882.6M268.5 902.8V892.7M269.5 902.8V882.6M270.5 902.8V892.7M271.5 902.8V892.7M272.5 902.8V892.7M274.5 902.8V892.7M276.5 902.8V892.7M277.5 902.8V892.7M278.5 902.8V882.6M279.5 902.8V882.6M280.5 902.8V882.6M281.5 902.8V862.4M282.5 902.8V872.5M283.5 902.8V852.3M284.5 902.8V852.3M285.5 902.8V852.3M286.5 902.8V852.3M287.5 902.8V872.5M288.5 902.8V882.6M289.5 902.8V872.5M290.5 902.8V892.7M291.5 902.8V892.7M292.5 902.8V882.6M293.5 902.8V882.6M294.5 902.8V882.6" stroke="#1f77b4" stroke-width="1" stroke-opacity="0.42"/>
</g>
<rect x="89.5" y="822" width="206.5" height="80.8" fill="none" stroke="#000" stroke-width="1.8" />
<line x1="136" y1="822" x2="136" y2="831.3" stroke="#000" stroke-width="1.8" />
<text x="136" y="809.5" font-family='"Liberation Serif", serif' font-size="21.5" text-anchor="middle" textLength="42.5" lengthAdjust="spacing">&#8722;0.5</text>
<line x1="192" y1="822" x2="192" y2="831.3" stroke="#000" stroke-width="1.8" />
<text x="192" y="809.5" font-family='"Liberation Serif", serif' font-size="21.5" text-anchor="middle">0.0</text>
<line x1="250" y1="822" x2="250" y2="831.3" stroke="#000" stroke-width="1.8" />
<text x="250" y="809.5" font-family='"Liberation Serif", serif' font-size="21.5" text-anchor="middle">0.5</text>
<text transform="translate(165.0,785.3)" fill="#000"><tspan x="0.0" y="0.0" font-family='"Liberation Serif", serif' font-size="21.5" font-style="italic">&#964;</tspan><tspan x="19.5" y="0.0" font-family='"Liberation Serif", serif' font-size="22">(</tspan><tspan x="26.5" y="0.0" font-family='"Liberation Serif", serif' font-size="21.5" font-style="italic">&#956;</tspan><tspan x="39.5" y="0.0" font-family='"Liberation Serif", serif' font-size="21.5">s</tspan><tspan x="48.8" y="0.0" font-family='"Liberation Serif", serif' font-size="22">)</tspan></text>
<line x1="286.7" y1="822" x2="296" y2="822" stroke="#000" stroke-width="1.8" />
<text x="305" y="829.2" font-family='"Liberation Serif", serif' font-size="21.5" text-anchor="start">8</text>
<line x1="286.7" y1="862.6" x2="296" y2="862.6" stroke="#000" stroke-width="1.8" />
<text x="305" y="869.8" font-family='"Liberation Serif", serif' font-size="21.5" text-anchor="start">4</text>
<text transform="translate(341.2,898) rotate(-90)"><tspan x="0" y="0" font-family='"Liberation Sans", sans-serif' font-size="19.5" textLength="54.5" lengthAdjust="spacingAndGlyphs">Coinc.</tspan></text>
<text transform="translate(341.2,898) rotate(-90)" x="67.2" y="0" font-family='"Liberation Serif", serif' font-size="22">(1)</text>
<rect x="917.3" y="812.3" width="206.2" height="90.5" fill="#fff" stroke="none" stroke-width="1.4" />
<path d="M917.5 902.8 L917.80 897.5 L918.30 898.5 L918.80 894.7 L919.30 891.6 L919.80 887.6 L920.30 890.2 L920.80 891.9 L921.30 891.8 L921.80 881.2 L922.30 872.5 L922.80 878.9 L923.30 888.7 L923.80 884.1 L924.30 852.9 L924.80 863.8 L925.30 886.4 L925.80 856.6 L926.30 870.5 L926.80 854.1 L927.30 843.5 L927.80 841.2 L928.30 812.3 L928.80 813.1 L929.30 839.4 L929.80 823.1 L930.30 824.3 L930.80 880.2 L931.30 860.4 L931.80 876.0 L932.30 869.1 L932.80 885.5 L933.30 874.7 L933.80 878.5 L934.30 883.2 L934.80 890.4 L935.30 887.7 L935.80 893.0 L936.30 895.2 L936.80 888.5 L937.30 895.3 L937.80 886.6 L938.30 889.2 L938.80 899.7 L939.30 891.7 L939.80 896.7 L940.30 892.7 L940.80 892.5 L941.30 899.6 L941.80 892.8 L942.30 892.4 L942.80 886.4 L943.30 895.0 L943.80 884.6 L944.30 893.0 L944.80 887.2 L945.30 889.0 L945.80 869.7 L946.30 873.2 L946.80 851.2 L947.30 864.1 L947.80 856.3 L948.30 849.9 L948.80 866.1 L949.30 850.8 L949.80 813.0 L950.30 842.7 L950.80 817.5 L951.30 812.3 L951.80 812.3 L952.30 831.0 L952.80 834.9 L953.30 834.9 L953.80 846.1 L954.30 869.4 L954.80 847.7 L955.30 882.7 L955.80 884.0 L956.30 887.0 L956.80 868.9 L957.30 883.1 L957.80 889.5 L958.30 891.9 L958.80 884.1 L959.30 893.4 L959.80 895.3 L960.30 887.5 L960.80 896.0 L961.30 892.9 L961.80 892.1 L962.30 894.0 L962.80 892.7 L963.30 887.7 L963.80 894.2 L964.30 896.8 L964.80 898.8 L965.30 891.7 L965.80 891.6 L966.30 887.7 L966.80 890.1 L967.30 889.0 L967.80 889.0 L968.30 886.0 L968.80 878.4 L969.30 880.3 L969.80 872.4 L970.30 847.3 L970.80 858.6 L971.30 883.5 L971.80 823.7 L972.30 839.7 L972.80 859.6 L973.30 812.3 L973.80 817.7 L974.30 826.6 L974.80 833.2 L975.30 852.0 L975.80 833.7 L976.30 821.2 L976.80 856.8 L977.30 850.6 L977.80 836.7 L978.30 882.6 L978.80 869.1 L979.30 878.4 L979.80 887.5 L980.30 888.9 L980.80 883.5 L981.30 882.6 L981.80 889.9 L982.30 888.0 L982.80 885.9 L983.30 888.9 L983.80 887.3 L984.30 889.6 L984.80 889.8 L985.30 884.9 L985.80 889.5 L986.30 891.2 L986.80 888.5 L987.30 894.7 L987.80 891.6 L988.30 885.4 L988.80 884.7 L989.30 877.8 L989.80 884.9 L990.30 893.1 L990.80 865.6 L991.30 868.4 L991.80 885.2 L992.30 855.8 L992.80 866.4 L993.30 887.9 L993.80 863.0 L994.30 859.0 L994.80 812.3 L995.30 852.4 L995.80 829.9 L996.30 819.9 L996.80 821.0 L997.30 846.9 L997.80 825.7 L998.30 816.8 L998.80 836.4 L999.30 870.6 L999.80 877.9 L1000.30 864.8 L1000.80 878.7 L1001.30 880.9 L1001.80 892.6 L1002.30 866.1 L1002.80 877.3 L1003.30 891.5 L1003.80 882.8 L1004.30 882.9 L1004.80 900.8 L1005.30 894.0 L1005.80 894.3 L1006.30 891.9 L1006.80 895.1 L1007.30 896.0 L1007.80 896.2 L1008.30 892.5 L1008.80 892.7 L1009.30 898.4 L1009.80 899.4 L1010.30 893.6 L1010.80 899.9 L1011.30 899.4 L1011.80 898.7 L1012.30 898.2 L1012.80 897.7 L1013.30 898.7 L1013.80 900.3 L1014.30 898.8 L1014.80 899.1 L1015.30 897.3 L1015.80 899.6 L1016.30 901.1 L1016.80 900.8 L1017.30 898.1 L1017.80 900.3 L1018.30 902.0 L1018.80 900.4 L1019.30 899.8 L1019.80 898.5 L1020.30 900.8 L1020.80 899.0 L1021.30 898.9 L1021.80 900.5 L1022.30 899.9 L1022.80 897.8 L1023.30 897.7 L1023.80 898.6 L1024.30 899.2 L1024.80 898.2 L1025.30 899.6 L1025.80 899.5 L1026.30 900.3 L1026.80 899.1 L1027.30 899.1 L1027.80 895.1 L1028.30 899.0 L1028.80 896.6 L1029.30 896.2 L1029.80 898.3 L1030.30 895.6 L1030.80 901.5 L1031.30 896.8 L1031.80 894.6 L1032.30 901.7 L1032.80 898.4 L1033.30 891.6 L1033.80 894.6 L1034.30 896.6 L1034.80 893.2 L1035.30 892.8 L1035.80 885.4 L1036.30 884.8 L1036.80 887.0 L1037.30 887.6 L1037.80 880.9 L1038.30 865.7 L1038.80 870.5 L1039.30 862.6 L1039.80 867.3 L1040.30 879.4 L1040.80 866.1 L1041.30 834.1 L1041.80 836.4 L1042.30 852.5 L1042.80 866.2 L1043.30 812.3 L1043.80 824.2 L1044.30 834.6 L1044.80 842.8 L1045.30 837.7 L1045.80 845.7 L1046.30 842.2 L1046.80 850.1 L1047.30 851.6 L1047.80 863.3 L1048.30 878.8 L1048.80 879.2 L1049.30 877.7 L1049.80 885.7 L1050.30 882.3 L1050.80 880.9 L1051.30 892.6 L1051.80 897.8 L1052.30 885.7 L1052.80 891.4 L1053.30 889.4 L1053.80 897.3 L1054.30 886.6 L1054.80 890.3 L1055.30 893.3 L1055.80 893.9 L1056.30 891.9 L1056.80 892.5 L1057.30 892.3 L1057.80 895.2 L1058.30 883.4 L1058.80 888.3 L1059.30 886.2 L1059.80 884.2 L1060.30 899.3 L1060.80 876.2 L1061.30 880.4 L1061.80 877.1 L1062.30 869.6 L1062.80 878.5 L1063.30 848.4 L1063.80 866.6 L1064.30 865.4 L1064.80 859.1 L1065.30 827.1 L1065.80 812.3 L1066.30 828.0 L1066.80 859.5 L1067.30 812.3 L1067.80 859.0 L1068.30 816.3 L1068.80 850.5 L1069.30 867.5 L1069.80 871.0 L1070.30 861.0 L1070.80 861.2 L1071.30 876.7 L1071.80 869.8 L1072.30 864.6 L1072.80 884.5 L1073.30 892.2 L1073.80 892.6 L1074.30 895.3 L1074.80 892.3 L1075.30 893.4 L1075.80 896.5 L1076.30 889.5 L1076.80 901.9 L1077.30 897.1 L1077.80 884.8 L1078.30 888.2 L1078.80 889.9 L1079.30 889.6 L1079.80 883.4 L1080.30 887.7 L1080.80 888.7 L1081.30 894.3 L1081.80 886.8 L1082.30 889.3 L1082.80 887.6 L1083.30 885.9 L1083.80 877.8 L1084.30 877.4 L1084.80 860.4 L1085.30 883.0 L1085.80 863.3 L1086.30 823.7 L1086.80 847.3 L1087.30 813.9 L1087.80 812.3 L1088.30 812.3 L1088.80 812.3 L1089.30 855.3 L1089.80 830.2 L1090.30 842.3 L1090.80 874.9 L1091.30 858.2 L1091.80 876.6 L1092.30 885.8 L1092.80 864.3 L1093.30 871.7 L1093.80 881.6 L1094.30 886.3 L1094.80 885.0 L1095.30 886.0 L1095.80 887.8 L1096.30 887.3 L1096.80 890.6 L1097.30 887.9 L1097.80 888.5 L1098.30 890.1 L1098.80 894.6 L1099.30 894.8 L1099.80 891.4 L1100.30 893.8 L1100.80 893.3 L1101.30 901.6 L1101.80 902.3 L1102.30 891.2 L1102.80 890.6 L1103.30 885.5 L1103.80 887.1 L1104.30 888.2 L1104.80 887.8 L1105.30 894.6 L1105.80 878.9 L1106.30 886.7 L1106.80 875.8 L1107.30 875.1 L1107.80 870.8 L1108.30 859.3 L1108.80 871.5 L1109.30 865.6 L1109.80 868.4 L1110.30 854.1 L1110.80 812.3 L1111.30 838.5 L1111.80 812.3 L1112.30 812.3 L1112.80 812.3 L1113.30 812.3 L1113.80 859.1 L1114.30 836.0 L1114.80 822.5 L1115.30 868.7 L1115.80 864.0 L1116.30 876.6 L1116.80 869.1 L1117.30 886.2 L1117.80 866.1 L1118.30 884.8 L1118.80 894.4 L1119.30 876.3 L1119.80 883.4 L1120.30 887.5 L1120.80 889.1 L1121.30 893.7 L1121.80 894.1 L1122.30 892.1 L1122.80 892.6 L1123.30 893.4 L1123.5 902.8 Z" fill="#ff7f0e" fill-opacity="0.35"/>
<path d="M917.5 902.8 L917.80 895.1 L918.30 895.5 L918.80 894.3 L919.30 890.8 L919.80 888.8 L920.30 891.5 L920.80 890.6 L921.30 883.8 L921.80 883.2 L922.30 880.8 L922.80 886.7 L923.30 879.9 L923.80 877.6 L924.30 869.5 L924.80 878.6 L925.30 850.6 L925.80 852.4 L926.30 843.6 L926.80 855.2 L927.30 831.6 L927.80 812.3 L928.30 838.1 L928.80 812.3 L929.30 812.3 L929.80 842.7 L930.30 832.0 L930.80 853.1 L931.30 844.8 L931.80 857.7 L932.30 865.3 L932.80 858.6 L933.30 870.3 L933.80 871.7 L934.30 886.1 L934.80 885.7 L935.30 882.3 L935.80 884.1 L936.30 888.5 L936.80 887.5 L937.30 893.1 L937.80 890.8 L938.30 894.4 L938.80 891.7 L939.30 893.7 L939.80 894.1 L940.30 892.7 L940.80 889.0 L941.30 894.5 L941.80 893.3 L942.30 888.9 L942.80 891.6 L943.30 884.9 L943.80 887.7 L944.30 886.6 L944.80 883.9 L945.30 876.4 L945.80 878.0 L946.30 875.5 L946.80 873.5 L947.30 881.1 L947.80 873.3 L948.30 849.8 L948.80 848.5 L949.30 844.1 L949.80 834.1 L950.30 840.6 L950.80 817.3 L951.30 827.5 L951.80 812.3 L952.30 832.3 L952.80 834.1 L953.30 834.5 L953.80 851.6 L954.30 848.7 L954.80 857.0 L955.30 863.3 L955.80 861.8 L956.30 882.6 L956.80 885.5 L957.30 877.5 L957.80 878.9 L958.30 877.5 L958.80 884.0 L959.30 885.5 L959.80 891.6 L960.30 888.3 L960.80 889.4 L961.30 894.0 L961.80 894.0 L962.30 892.6 L962.80 891.9 L963.30 898.6 L963.80 892.2 L964.30 891.5 L964.80 891.9 L965.30 890.2 L965.80 888.9 L966.30 891.8 L966.80 886.4 L967.30 887.0 L967.80 887.8 L968.30 881.4 L968.80 872.9 L969.30 884.4 L969.80 883.1 L970.30 880.5 L970.80 850.0 L971.30 861.9 L971.80 854.2 L972.30 855.4 L972.80 850.5 L973.30 858.9 L973.80 815.3 L974.30 812.3 L974.80 848.7 L975.30 841.1 L975.80 844.9 L976.30 843.7 L976.80 848.3 L977.30 847.1 L977.80 852.0 L978.30 860.2 L978.80 863.5 L979.30 881.8 L979.80 881.2 L980.30 876.2 L980.80 882.3 L981.30 885.2 L981.80 893.2 L982.30 893.7 L982.80 887.4 L983.30 889.4 L983.80 891.6 L984.30 892.3 L984.80 895.5 L985.30 891.1 L985.80 889.6 L986.30 888.0 L986.80 891.2 L987.30 891.3 L987.80 892.9 L988.30 885.8 L988.80 883.0 L989.30 888.6 L989.80 883.9 L990.30 882.6 L990.80 883.2 L991.30 890.4 L991.80 876.8 L992.30 867.3 L992.80 877.2 L993.30 868.7 L993.80 886.8 L994.30 835.8 L994.80 835.8 L995.30 832.4 L995.80 827.1 L996.30 822.7 L996.80 812.3 L997.30 825.8 L997.80 834.8 L998.30 840.8 L998.80 846.9 L999.30 840.4 L999.80 873.2 L1000.30 864.4 L1000.80 874.8 L1001.30 881.1 L1001.80 889.8 L1002.30 878.3 L1002.80 887.3 L1003.30 888.3 L1003.80 886.2 L1004.30 892.2 L1004.80 890.7 L1005.30 892.1 L1005.80 891.5 L1006.30 892.2 L1006.80 896.2 L1007.30 894.1 L1007.80 896.2 L1008.30 896.4 L1008.80 897.3 L1009.30 896.6 L1009.80 899.0 L1010.30 897.8 L1010.80 897.3 L1011.30 898.8 L1011.80 897.1 L1012.30 899.5 L1012.80 898.9 L1013.30 899.5 L1013.80 899.7 L1014.30 900.1 L1014.80 899.8 L1015.30 899.6 L1015.80 900.1 L1016.30 899.1 L1016.80 898.7 L1017.30 900.6 L1017.80 899.2 L1018.30 899.6 L1018.80 899.6 L1019.30 898.3 L1019.80 899.0 L1020.30 899.6 L1020.80 899.7 L1021.30 901.1 L1021.80 899.3 L1022.30 900.2 L1022.80 899.6 L1023.30 899.6 L1023.80 899.0 L1024.30 898.2 L1024.80 898.8 L1025.30 898.6 L1025.80 899.5 L1026.30 898.9 L1026.80 898.6 L1027.30 900.1 L1027.80 897.3 L1028.30 899.3 L1028.80 899.6 L1029.30 896.8 L1029.80 896.0 L1030.30 898.4 L1030.80 898.0 L1031.30 893.3 L1031.80 896.3 L1032.30 898.7 L1032.80 896.2 L1033.30 891.3 L1033.80 892.6 L1034.30 891.3 L1034.80 889.0 L1035.30 888.8 L1035.80 889.9 L1036.30 892.2 L1036.80 883.7 L1037.30 887.5 L1037.80 880.7 L1038.30 868.5 L1038.80 870.9 L1039.30 869.6 L1039.80 864.9 L1040.30 853.8 L1040.80 844.9 L1041.30 861.6 L1041.80 836.3 L1042.30 812.3 L1042.80 812.3 L1043.30 820.7 L1043.80 825.7 L1044.30 857.1 L1044.80 845.7 L1045.30 824.5 L1045.80 851.7 L1046.30 865.2 L1046.80 867.6 L1047.30 868.6 L1047.80 872.7 L1048.30 877.5 L1048.80 882.4 L1049.30 878.6 L1049.80 877.7 L1050.30 887.5 L1050.80 888.9 L1051.30 885.2 L1051.80 893.6 L1052.30 892.1 L1052.80 892.3 L1053.30 891.7 L1053.80 893.0 L1054.30 894.5 L1054.80 892.2 L1055.30 895.2 L1055.80 896.2 L1056.30 896.6 L1056.80 890.2 L1057.30 895.2 L1057.80 889.2 L1058.30 887.5 L1058.80 885.7 L1059.30 887.2 L1059.80 886.8 L1060.30 882.4 L1060.80 883.0 L1061.30 884.0 L1061.80 867.0 L1062.30 876.2 L1062.80 852.7 L1063.30 856.5 L1063.80 859.3 L1064.30 843.3 L1064.80 824.8 L1065.30 850.8 L1065.80 835.8 L1066.30 828.2 L1066.80 812.3 L1067.30 816.2 L1067.80 832.5 L1068.30 850.7 L1068.80 855.1 L1069.30 845.0 L1069.80 852.7 L1070.30 865.9 L1070.80 879.4 L1071.30 871.3 L1071.80 876.6 L1072.30 879.6 L1072.80 876.2 L1073.30 882.1 L1073.80 889.8 L1074.30 891.0 L1074.80 885.6 L1075.30 889.7 L1075.80 888.9 L1076.30 891.8 L1076.80 894.0 L1077.30 891.5 L1077.80 888.8 L1078.30 891.3 L1078.80 894.2 L1079.30 892.0 L1079.80 891.9 L1080.30 889.4 L1080.80 886.1 L1081.30 881.7 L1081.80 885.4 L1082.30 885.9 L1082.80 881.9 L1083.30 879.7 L1083.80 879.1 L1084.30 873.4 L1084.80 869.7 L1085.30 873.9 L1085.80 855.4 L1086.30 857.4 L1086.80 857.8 L1087.30 832.8 L1087.80 836.7 L1088.30 812.3 L1088.80 812.3 L1089.30 812.3 L1089.80 833.4 L1090.30 837.4 L1090.80 830.5 L1091.30 856.0 L1091.80 848.3 L1092.30 878.4 L1092.80 864.9 L1093.30 865.6 L1093.80 872.6 L1094.30 877.8 L1094.80 876.1 L1095.30 886.3 L1095.80 888.5 L1096.30 886.4 L1096.80 884.8 L1097.30 888.3 L1097.80 891.0 L1098.30 890.6 L1098.80 891.0 L1099.30 895.0 L1099.80 898.3 L1100.30 895.0 L1100.80 895.9 L1101.30 894.0 L1101.80 895.1 L1102.30 894.1 L1102.80 890.8 L1103.30 890.8 L1103.80 890.2 L1104.30 884.5 L1104.80 889.0 L1105.30 887.3 L1105.80 879.6 L1106.30 886.6 L1106.80 886.9 L1107.30 869.7 L1107.80 871.1 L1108.30 865.0 L1108.80 859.6 L1109.30 851.2 L1109.80 857.4 L1110.30 846.4 L1110.80 851.5 L1111.30 825.6 L1111.80 812.7 L1112.30 812.6 L1112.80 812.3 L1113.30 812.3 L1113.80 849.2 L1114.30 832.5 L1114.80 840.3 L1115.30 847.0 L1115.80 868.7 L1116.30 859.1 L1116.80 867.7 L1117.30 876.1 L1117.80 880.3 L1118.30 880.5 L1118.80 880.5 L1119.30 883.2 L1119.80 881.3 L1120.30 890.4 L1120.80 889.4 L1121.30 893.0 L1121.80 891.6 L1122.30 893.8 L1122.80 895.7 L1123.30 897.4 L1123.5 902.8 Z" fill="#ff7f0e" fill-opacity="0.5"/>
<path d="M917.5 902.8 L917.80 896.0 L918.30 894.8 L918.80 893.2 L919.30 892.7 L919.80 893.0 L920.30 891.3 L920.80 889.5 L921.30 888.1 L921.80 886.0 L922.30 882.9 L922.80 881.2 L923.30 879.8 L923.80 879.1 L924.30 872.4 L924.80 871.4 L925.30 862.7 L925.80 855.5 L926.30 854.8 L926.80 842.8 L927.30 835.0 L927.80 812.5 L928.30 812.3 L928.80 825.7 L929.30 823.0 L929.80 833.3 L930.30 844.7 L930.80 852.7 L931.30 855.9 L931.80 861.5 L932.30 867.1 L932.80 874.4 L933.30 876.4 L933.80 881.6 L934.30 883.9 L934.80 884.6 L935.30 887.1 L935.80 887.9 L936.30 886.5 L936.80 889.6 L937.30 891.7 L937.80 893.4 L938.30 893.0 L938.80 893.8 L939.30 894.6 L939.80 892.7 L940.30 893.6 L940.80 892.8 L941.30 890.6 L941.80 892.2 L942.30 891.7 L942.80 890.7 L943.30 890.3 L943.80 889.7 L944.30 887.8 L944.80 884.5 L945.30 884.3 L945.80 883.7 L946.30 881.1 L946.80 877.9 L947.30 872.4 L947.80 867.1 L948.30 862.1 L948.80 854.2 L949.30 852.2 L949.80 840.6 L950.30 834.0 L950.80 821.8 L951.30 825.6 L951.80 812.3 L952.30 832.0 L952.80 838.9 L953.30 838.9 L953.80 851.3 L954.30 850.7 L954.80 861.7 L955.30 869.7 L955.80 871.0 L956.30 875.8 L956.80 875.6 L957.30 878.5 L957.80 882.3 L958.30 885.8 L958.80 886.9 L959.30 887.4 L959.80 890.4 L960.30 891.3 L960.80 890.7 L961.30 891.4 L961.80 892.6 L962.30 892.9 L962.80 894.2 L963.30 892.0 L963.80 892.8 L964.30 893.4 L964.80 892.7 L965.30 892.0 L965.80 888.9 L966.30 888.7 L966.80 889.5 L967.30 884.6 L967.80 883.2 L968.30 884.3 L968.80 884.6 L969.30 875.9 L969.80 875.5 L970.30 870.8 L970.80 867.4 L971.30 857.3 L971.80 850.1 L972.30 845.1 L972.80 841.0 L973.30 829.9 L973.80 817.2 L974.30 819.0 L974.80 812.3 L975.30 828.9 L975.80 835.6 L976.30 844.6 L976.80 849.2 L977.30 855.4 L977.80 858.1 L978.30 869.6 L978.80 874.7 L979.30 876.0 L979.80 880.3 L980.30 880.5 L980.80 885.0 L981.30 885.6 L981.80 886.3 L982.30 887.7 L982.80 889.5 L983.30 889.4 L983.80 890.2 L984.30 893.0 L984.80 891.8 L985.30 892.0 L985.80 892.4 L986.30 892.5 L986.80 891.6 L987.30 890.8 L987.80 890.2 L988.30 888.3 L988.80 887.4 L989.30 887.7 L989.80 886.4 L990.30 882.4 L990.80 882.3 L991.30 878.4 L991.80 874.6 L992.30 869.8 L992.80 866.6 L993.30 859.0 L993.80 858.9 L994.30 848.6 L994.80 846.3 L995.30 834.0 L995.80 824.3 L996.30 819.3 L996.80 827.7 L997.30 817.6 L997.80 831.4 L998.30 841.5 L998.80 852.4 L999.30 857.6 L999.80 861.0 L1000.30 867.3 L1000.80 869.2 L1001.30 875.2 L1001.80 880.1 L1002.30 880.7 L1002.80 884.9 L1003.30 885.9 L1003.80 889.9 L1004.30 890.0 L1004.80 890.6 L1005.30 892.7 L1005.80 893.3 L1006.30 893.8 L1006.80 894.9 L1007.30 894.8 L1007.80 896.4 L1008.30 896.8 L1008.80 897.3 L1009.30 898.3 L1009.80 898.4 L1010.30 898.0 L1010.80 898.5 L1011.30 898.3 L1011.80 898.9 L1012.30 899.1 L1012.80 898.9 L1013.30 899.2 L1013.80 899.0 L1014.30 899.7 L1014.80 899.4 L1015.30 899.5 L1015.80 899.5 L1016.30 899.5 L1016.80 899.5 L1017.30 899.8 L1017.80 899.9 L1018.30 899.6 L1018.80 899.8 L1019.30 899.6 L1019.80 899.6 L1020.30 899.8 L1020.80 900.0 L1021.30 899.9 L1021.80 899.6 L1022.30 899.8 L1022.80 899.5 L1023.30 899.7 L1023.80 899.7 L1024.30 899.8 L1024.80 899.6 L1025.30 899.3 L1025.80 899.5 L1026.30 899.4 L1026.80 899.4 L1027.30 898.9 L1027.80 899.4 L1028.30 899.0 L1028.80 898.3 L1029.30 897.9 L1029.80 898.2 L1030.30 897.5 L1030.80 898.2 L1031.30 896.8 L1031.80 896.5 L1032.30 896.7 L1032.80 896.4 L1033.30 895.1 L1033.80 893.8 L1034.30 892.8 L1034.80 891.9 L1035.30 890.1 L1035.80 888.7 L1036.30 889.1 L1036.80 886.2 L1037.30 884.3 L1037.80 879.5 L1038.30 879.0 L1038.80 872.8 L1039.30 870.6 L1039.80 860.4 L1040.30 861.3 L1040.80 855.2 L1041.30 848.7 L1041.80 839.7 L1042.30 819.1 L1042.80 823.5 L1043.30 814.1 L1043.80 817.1 L1044.30 823.5 L1044.80 841.3 L1045.30 841.9 L1045.80 849.7 L1046.30 859.2 L1046.80 864.8 L1047.30 870.7 L1047.80 873.4 L1048.30 877.8 L1048.80 877.3 L1049.30 879.6 L1049.80 884.5 L1050.30 886.1 L1050.80 889.7 L1051.30 889.5 L1051.80 889.8 L1052.30 890.8 L1052.80 891.7 L1053.30 891.7 L1053.80 892.7 L1054.30 893.3 L1054.80 892.1 L1055.30 894.4 L1055.80 893.7 L1056.30 893.1 L1056.80 892.7 L1057.30 892.1 L1057.80 890.9 L1058.30 890.4 L1058.80 888.6 L1059.30 886.4 L1059.80 885.3 L1060.30 883.1 L1060.80 882.4 L1061.30 880.2 L1061.80 875.6 L1062.30 869.3 L1062.80 866.1 L1063.30 859.0 L1063.80 853.1 L1064.30 845.5 L1064.80 845.4 L1065.30 827.1 L1065.80 818.7 L1066.30 812.3 L1066.80 812.3 L1067.30 823.3 L1067.80 835.6 L1068.30 842.9 L1068.80 857.0 L1069.30 858.3 L1069.80 863.2 L1070.30 865.5 L1070.80 873.4 L1071.30 875.4 L1071.80 875.6 L1072.30 882.1 L1072.80 882.5 L1073.30 886.2 L1073.80 887.3 L1074.30 888.1 L1074.80 888.9 L1075.30 891.0 L1075.80 892.1 L1076.30 890.7 L1076.80 892.1 L1077.30 891.9 L1077.80 891.9 L1078.30 891.9 L1078.80 892.4 L1079.30 891.9 L1079.80 892.4 L1080.30 890.3 L1080.80 889.9 L1081.30 888.3 L1081.80 884.8 L1082.30 884.4 L1082.80 883.1 L1083.30 882.9 L1083.80 876.9 L1084.30 872.0 L1084.80 873.0 L1085.30 865.9 L1085.80 863.5 L1086.30 856.8 L1086.80 851.0 L1087.30 848.7 L1087.80 835.6 L1088.30 831.8 L1088.80 812.3 L1089.30 812.3 L1089.80 824.8 L1090.30 833.7 L1090.80 843.4 L1091.30 850.4 L1091.80 856.9 L1092.30 863.8 L1092.80 868.4 L1093.30 875.0 L1093.80 877.6 L1094.30 879.9 L1094.80 881.2 L1095.30 884.3 L1095.80 883.6 L1096.30 887.7 L1096.80 889.2 L1097.30 889.7 L1097.80 890.2 L1098.30 890.4 L1098.80 891.7 L1099.30 893.3 L1099.80 893.3 L1100.30 892.7 L1100.80 893.3 L1101.30 892.8 L1101.80 893.2 L1102.30 891.6 L1102.80 891.2 L1103.30 890.7 L1103.80 890.5 L1104.30 891.1 L1104.80 889.7 L1105.30 886.5 L1105.80 884.3 L1106.30 886.9 L1106.80 881.2 L1107.30 875.7 L1107.80 872.5 L1108.30 871.7 L1108.80 864.5 L1109.30 860.9 L1109.80 855.8 L1110.30 844.1 L1110.80 835.5 L1111.30 833.8 L1111.80 826.0 L1112.30 817.0 L1112.80 824.5 L1113.30 820.4 L1113.80 828.5 L1114.30 844.5 L1114.80 849.0 L1115.30 861.0 L1115.80 864.6 L1116.30 867.1 L1116.80 872.6 L1117.30 876.9 L1117.80 882.5 L1118.30 884.6 L1118.80 885.5 L1119.30 887.6 L1119.80 888.8 L1120.30 890.8 L1120.80 891.7 L1121.30 892.6 L1121.80 893.3 L1122.30 894.5 L1122.80 895.5 L1123.30 896.0 L1123.5 902.8 Z" fill="#ff7f0e" fill-opacity="1.0"/>
<rect x="917.3" y="812.3" width="206.2" height="90.5" fill="none" stroke="#000" stroke-width="1.8" />
<line x1="963.3" y1="812.3" x2="963.3" y2="821.6" stroke="#000" stroke-width="1.8" />
<text x="963.3" y="800.5" font-family='"Liberation Serif", serif' font-size="21.5" text-anchor="middle" textLength="42.5" lengthAdjust="spacing">&#8722;0.5</text>
<line x1="1020.8" y1="812.3" x2="1020.8" y2="821.6" stroke="#000" stroke-width="1.8" />
<text x="1020.8" y="800.5" font-family='"Liberation Serif", serif' font-size="21.5" text-anchor="middle">0.0</text>
<line x1="1078.3" y1="812.3" x2="1078.3" y2="821.6" stroke="#000" stroke-width="1.8" />
<text x="1078.3" y="800.5" font-family='"Liberation Serif", serif' font-size="21.5" text-anchor="middle">0.5</text>
<text transform="translate(994.0,778.5)" fill="#000"><tspan x="0.0" y="0.0" font-family='"Liberation Serif", serif' font-size="21.5" font-style="italic">&#964;</tspan><tspan x="19.5" y="0.0" font-family='"Liberation Serif", serif' font-size="22">(</tspan><tspan x="26.5" y="0.0" font-family='"Liberation Serif", serif' font-size="21.5" font-style="italic">&#956;</tspan><tspan x="39.5" y="0.0" font-family='"Liberation Serif", serif' font-size="21.5">s</tspan><tspan x="48.8" y="0.0" font-family='"Liberation Serif", serif' font-size="22">)</tspan></text>
<line x1="917.3" y1="815" x2="926.6" y2="815" stroke="#000" stroke-width="1.8" />
<text x="907.5" y="822.2" font-family='"Liberation Serif", serif' font-size="21.5" text-anchor="end">40</text>
<line x1="917.3" y1="858" x2="926.6" y2="858" stroke="#000" stroke-width="1.8" />
<text x="907.5" y="865.2" font-family='"Liberation Serif", serif' font-size="21.5" text-anchor="end">20</text>
<text transform="translate(875.3,896.5) rotate(-90)"><tspan x="0" y="0" font-family='"Liberation Sans", sans-serif' font-size="19.5" textLength="54.5" lengthAdjust="spacingAndGlyphs">Coinc.</tspan></text>
<text transform="translate(875.3,896.5) rotate(-90)" x="66.8" y="0" font-family='"Liberation Serif", serif' font-size="22">(1)</text>
<polygon points="1124.0,388.0 1126.2,388.0 1126.2,390.2 1129.6,390.2 1129.6,392.4 1134.2,392.4 1134.2,394.6 1139.9,394.6 1139.9,396.8 1146.4,396.8 1146.4,399.0 1156.5,399.0 1156.5,401.2 1156.5,401.2 1156.5,403.4 1165.4,403.4 1165.4,405.6 1167.5,405.6 1167.5,407.8 1169.0,407.8 1169.0,410.0 1170.1,410.0 1170.1,412.2 1170.8,412.2 1170.8,414.4 1162.8,414.4 1162.8,416.6 1159.2,416.6 1159.2,418.8 1154.8,418.8 1154.8,421.0 1149.7,421.0 1149.7,423.2 1141.4,423.2 1141.4,425.4 1136.5,425.4 1136.5,427.6 1133.4,427.6 1133.4,429.8 1129.9,429.8 1129.9,432.0 1126.9,432.0 1126.9,434.2 1125.4,434.2 1125.4,435.1 1124.0,435.1" fill="#1f77b4" stroke="none" stroke-width="1" />
<polygon points="1124.0,506.6 1125.8,506.6 1125.8,508.9 1127.3,508.9 1127.3,511.2 1128.9,511.2 1128.9,513.5 1130.9,513.5 1130.9,515.8 1132.8,515.8 1132.8,518.1 1134.9,518.1 1134.9,520.4 1136.9,520.4 1136.9,522.7 1139.0,522.7 1139.0,525.0 1141.9,525.0 1141.9,527.3 1145.4,527.3 1145.4,529.6 1148.8,529.6 1148.8,531.9 1152.5,531.9 1152.5,534.2 1155.3,534.2 1155.3,536.5 1158.0,536.5 1158.0,538.8 1155.6,538.8 1155.6,541.1 1153.8,541.1 1153.8,543.4 1157.6,543.4 1157.6,545.7 1152.3,545.7 1152.3,548.0 1150.1,548.0 1150.1,550.3 1147.8,550.3 1147.8,552.6 1144.7,552.6 1144.7,554.9 1140.5,554.9 1140.5,557.2 1136.8,557.2 1136.8,559.5 1133.6,559.5 1133.6,561.8 1131.4,561.8 1131.4,564.1 1129.3,564.1 1129.3,566.4 1127.5,566.4 1127.5,568.7 1126.6,568.7 1126.6,571.0 1125.7,571.0 1125.7,573.3 1125.2,573.3 1125.2,574.3 1124.0,574.3" fill="#1f77b4" stroke="none" stroke-width="1" />
<rect x="1124.5" y="671.3" width="3.2" height="4.2" fill="#6b97d0" stroke="none" stroke-width="1.4" fill-opacity="0.6"/>
<rect x="1124.5" y="676.7" width="5.5" height="4.2" fill="#6b97d0" stroke="none" stroke-width="1.4" fill-opacity="0.6"/>
<rect x="1124.5" y="681.9" width="6.3" height="4.2" fill="#6b97d0" stroke="none" stroke-width="1.4" fill-opacity="0.6"/>
<rect x="1124.5" y="687.8" width="6.3" height="4.2" fill="#6b97d0" stroke="none" stroke-width="1.4" fill-opacity="0.6"/>
<rect x="1124.5" y="693" width="8.7" height="4.2" fill="#6b97d0" stroke="none" stroke-width="1.4" fill-opacity="0.6"/>
<rect x="1124.5" y="698.7" width="11" height="4.2" fill="#6b97d0" stroke="none" stroke-width="1.4" fill-opacity="0.6"/>
<rect x="1124.5" y="703.8" width="14.6" height="4.2" fill="#6b97d0" stroke="none" stroke-width="1.4" fill-opacity="0.6"/>
<rect x="1124.5" y="709" width="15.3" height="4.2" fill="#6b97d0" stroke="none" stroke-width="1.4" fill-opacity="0.6"/>
<rect x="1124.5" y="714.7" width="16.7" height="4.2" fill="#6b97d0" stroke="none" stroke-width="1.4" fill-opacity="0.6"/>
<rect x="1124.5" y="720.3" width="18.2" height="4.2" fill="#6b97d0" stroke="none" stroke-width="1.4" fill-opacity="0.6"/>
<rect x="1124.5" y="725.8" width="11.7" height="4.2" fill="#6b97d0" stroke="none" stroke-width="1.4" fill-opacity="0.6"/>
<rect x="1124.5" y="731.5" width="16.1" height="4.2" fill="#6b97d0" stroke="none" stroke-width="1.4" fill-opacity="0.6"/>
<rect x="1124.5" y="736.8" width="8.7" height="4.2" fill="#6b97d0" stroke="none" stroke-width="1.4" fill-opacity="0.6"/>
<rect x="1124.5" y="742.5" width="4.3" height="4.2" fill="#6b97d0" stroke="none" stroke-width="1.4" fill-opacity="0.6"/>
<rect x="1124.5" y="747.7" width="3.2" height="4.2" fill="#6b97d0" stroke="none" stroke-width="1.4" fill-opacity="0.6"/>
<rect x="1124.5" y="753.4" width="1.2" height="4.2" fill="#6b97d0" stroke="none" stroke-width="1.4" fill-opacity="0.6"/>
<rect x="1124.5" y="700.2" width="6.6" height="3.4" fill="#fd9a45" stroke="none" stroke-width="1.4" fill-opacity="0.6"/>
<rect x="1124.5" y="704.2" width="13.9" height="4.1" fill="#fd9a45" stroke="none" stroke-width="1.4" fill-opacity="0.6"/>
<rect x="1124.5" y="708.7" width="13.9" height="3.6" fill="#fd9a45" stroke="none" stroke-width="1.4" fill-opacity="0.6"/>
<rect x="1124.5" y="712.6" width="63.8" height="3.8" fill="#fd9a45" stroke="none" stroke-width="1.4" fill-opacity="0.6"/>
<rect x="1124.5" y="716.8" width="31.6" height="3.8" fill="#fd9a45" stroke="none" stroke-width="1.4" fill-opacity="0.6"/>
<rect x="1124.5" y="720.9" width="20.8" height="4" fill="#fd9a45" stroke="none" stroke-width="1.4" fill-opacity="0.6"/>
<rect x="1124.5" y="725.3" width="6.6" height="3.6" fill="#fd9a45" stroke="none" stroke-width="1.4" fill-opacity="0.6"/>
<rect x="1124.5" y="729.3" width="3.2" height="3.1" fill="#fd9a45" stroke="none" stroke-width="1.4" fill-opacity="0.6"/>
<rect x="89.5" y="372" width="1108" height="530.8" fill="none" stroke="#000" stroke-width="1.8" />
<line x1="89.5" y1="482.2" x2="1197.5" y2="482.2" stroke="#000" stroke-width="1.2" />
<line x1="89.5" y1="602.8" x2="1197.5" y2="602.8" stroke="#000" stroke-width="1.2" />
<line x1="1123.5" y1="372" x2="1123.5" y2="902.8" stroke="#000" stroke-width="1.8" />
<line x1="1142" y1="482" x2="1142" y2="491.3" stroke="#000" stroke-width="1.8" />
<line x1="1173" y1="482" x2="1173" y2="491.3" stroke="#000" stroke-width="1.8" />
<line x1="1142" y1="602.5" x2="1142" y2="611.8" stroke="#000" stroke-width="1.8" />
<line x1="1173" y1="602.5" x2="1173" y2="611.8" stroke="#000" stroke-width="1.8" />
<text x="1142.4" y="514" font-family='"Liberation Serif", serif' font-size="21.5" text-anchor="middle">3</text>
<text x="1173" y="514" font-family='"Liberation Serif", serif' font-size="21.5" text-anchor="middle">8</text>
<text x="1142.4" y="634" font-family='"Liberation Serif", serif' font-size="21.5" text-anchor="middle">3</text>
<text x="1173" y="634" font-family='"Liberation Serif", serif' font-size="21.5" text-anchor="middle">8</text>
<line x1="80.2" y1="372" x2="89.5" y2="372" stroke="#000" stroke-width="1.8" />
<text x="71.5" y="379.2" font-family='"Liberation Serif", serif' font-size="21.5" text-anchor="end">40</text>
<line x1="80.2" y1="427" x2="89.5" y2="427" stroke="#000" stroke-width="1.8" />
<text x="71.5" y="434.2" font-family='"Liberation Serif", serif' font-size="21.5" text-anchor="end">35</text>
<line x1="80.2" y1="482" x2="89.5" y2="482" stroke="#000" stroke-width="1.8" />
<text x="71.5" y="489.2" font-family='"Liberation Serif", serif' font-size="21.5" text-anchor="end">30</text>
<line x1="80.2" y1="537" x2="89.5" y2="537" stroke="#000" stroke-width="1.8" />
<text x="71.5" y="544.2" font-family='"Liberation Serif", serif' font-size="21.5" text-anchor="end">0.7</text>
<line x1="80.2" y1="602.5" x2="89.5" y2="602.5" stroke="#000" stroke-width="1.8" />
<text x="71.5" y="609.7" font-family='"Liberation Serif", serif' font-size="21.5" text-anchor="end">0.4</text>
<line x1="80.2" y1="629.7" x2="89.5" y2="629.7" stroke="#000" stroke-width="1.8" />
<text x="71.5" y="636.9" font-family='"Liberation Serif", serif' font-size="21.5" text-anchor="end">0.20</text>
<line x1="80.2" y1="697.7" x2="89.5" y2="697.7" stroke="#000" stroke-width="1.8" />
<text x="71.5" y="704.9" font-family='"Liberation Serif", serif' font-size="21.5" text-anchor="end">0.15</text>
<line x1="80.2" y1="766.2" x2="89.5" y2="766.2" stroke="#000" stroke-width="1.8" />
<text x="71.5" y="773.4" font-family='"Liberation Serif", serif' font-size="21.5" text-anchor="end">0.10</text>
<line x1="80.2" y1="834.5" x2="89.5" y2="834.5" stroke="#000" stroke-width="1.8" />
<text x="71.5" y="841.7" font-family='"Liberation Serif", serif' font-size="21.5" text-anchor="end">0.05</text>
<line x1="80.2" y1="902.8" x2="89.5" y2="902.8" stroke="#000" stroke-width="1.8" />
<text x="71.5" y="910" font-family='"Liberation Serif", serif' font-size="21.5" text-anchor="end">0.00</text>
<line x1="89.5" y1="902.8" x2="89.5" y2="912.1" stroke="#000" stroke-width="1.8" />
<text x="89.5" y="935.7" font-family='"Liberation Serif", serif' font-size="21.5" text-anchor="middle">0</text>
<line x1="205.7" y1="902.8" x2="205.7" y2="912.1" stroke="#000" stroke-width="1.8" />
<text x="205.7" y="935.7" font-family='"Liberation Serif", serif' font-size="21.5" text-anchor="middle">10</text>
<line x1="321.9" y1="902.8" x2="321.9" y2="912.1" stroke="#000" stroke-width="1.8" />
<text x="321.9" y="935.7" font-family='"Liberation Serif", serif' font-size="21.5" text-anchor="middle">20</text>
<line x1="438.2" y1="902.8" x2="438.2" y2="912.1" stroke="#000" stroke-width="1.8" />
<text x="438.2" y="935.7" font-family='"Liberation Serif", serif' font-size="21.5" text-anchor="middle">30</text>
<line x1="554.4" y1="902.8" x2="554.4" y2="912.1" stroke="#000" stroke-width="1.8" />
<text x="554.4" y="935.7" font-family='"Liberation Serif", serif' font-size="21.5" text-anchor="middle">40</text>
<line x1="670.6" y1="902.8" x2="670.6" y2="912.1" stroke="#000" stroke-width="1.8" />
<text x="670.6" y="935.7" font-family='"Liberation Serif", serif' font-size="21.5" text-anchor="middle">50</text>
<line x1="786.8" y1="902.8" x2="786.8" y2="912.1" stroke="#000" stroke-width="1.8" />
<text x="786.8" y="935.7" font-family='"Liberation Serif", serif' font-size="21.5" text-anchor="middle">60</text>
<line x1="903" y1="902.8" x2="903" y2="912.1" stroke="#000" stroke-width="1.8" />
<text x="903" y="935.7" font-family='"Liberation Serif", serif' font-size="21.5" text-anchor="middle">70</text>
<line x1="1019.3" y1="902.8" x2="1019.3" y2="912.1" stroke="#000" stroke-width="1.8" />
<text x="1019.3" y="935.7" font-family='"Liberation Serif", serif' font-size="21.5" text-anchor="middle">80</text>
<line x1="1123.5" y1="902.8" x2="1123.5" y2="912.1" stroke="#000" stroke-width="1.8" />
<text x="1123.5" y="935.7" font-family='"Liberation Serif", serif' font-size="21.5" text-anchor="middle">0</text>
<line x1="1165" y1="902.8" x2="1165" y2="912.1" stroke="#000" stroke-width="1.8" />
<text x="1165" y="935.7" font-family='"Liberation Serif", serif' font-size="21.5" text-anchor="middle">25</text>
<text x="606.5" y="963.8" font-family='"Liberation Sans", sans-serif' font-size="19.5" text-anchor="middle" textLength="100" lengthAdjust="spacingAndGlyphs">Time (min)</text>
<text transform="translate(1133.5,964.0)" fill="#000"><tspan x="0.0" y="0.0" font-family='"Liberation Serif", serif' font-size="21.5" font-style="italic">P</tspan><tspan x="23.3" y="0.0" font-family='"Liberation Serif", serif' font-size="22">(</tspan><tspan x="31.5" y="0.0" font-family='"Liberation Serif", serif' font-size="21.5">%</tspan><tspan x="49.5" y="0.0" font-family='"Liberation Serif", serif' font-size="22">)</tspan></text>
<text transform="translate(35.3,427.4) rotate(-90)" font-family='"Liberation Sans", sans-serif' font-size="19.5" text-anchor="middle" textLength="98.7" lengthAdjust="spacingAndGlyphs">Rate (kHz)</text>
<text transform="translate(31,541.9) rotate(-90)" font-family='"Liberation Sans", sans-serif' font-size="19.5" text-anchor="middle" textLength="97.3" lengthAdjust="spacingAndGlyphs">QBER (%)</text>
<text transform="translate(19.0,784.0) rotate(-90)" fill="#000"><tspan x="0.0" y="0.0" font-family='"Liberation Serif", serif' font-size="22.0" font-style="italic">g</tspan><tspan x="12.0" y="-7.5" font-family='"Liberation Serif", serif' font-size="17.2">(2)</tspan><tspan x="36.6" y="0.0" font-family='"Liberation Serif", serif' font-size="22.0">(0)</tspan></text>
</svg></body></html>
